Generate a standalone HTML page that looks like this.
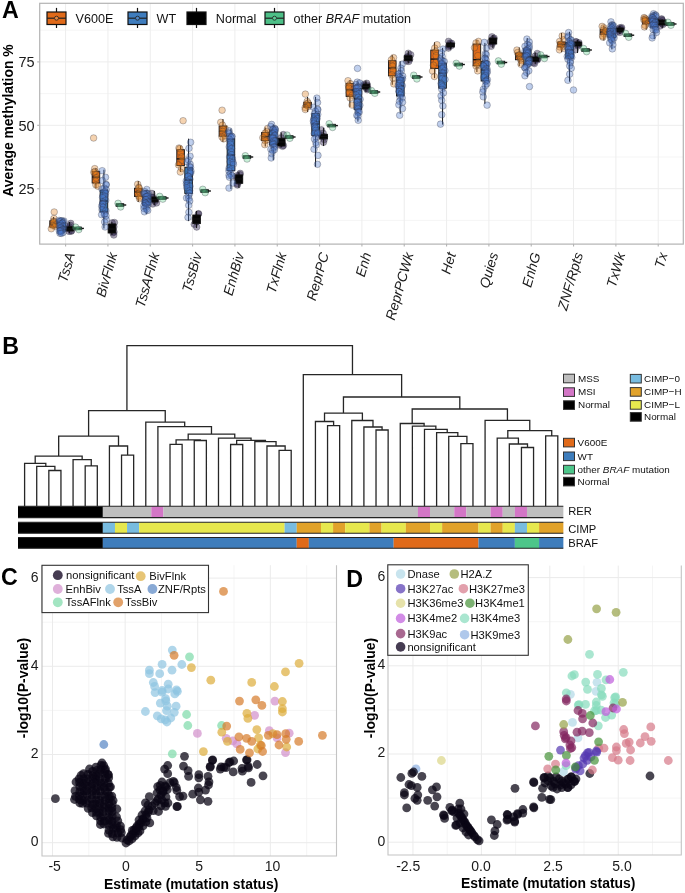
<!DOCTYPE html>
<html><head><meta charset="utf-8"><style>
html,body{margin:0;padding:0;background:#fff;overflow:hidden;}
svg{display:block;will-change:transform;}
</style></head><body>
<svg width="685" height="893" viewBox="0 0 685 893">
<rect width="685" height="893" fill="#fff"/>
<line x1="39.7" x2="683.3" y1="220.40" y2="220.40" stroke="#F2F2F2" stroke-width="0.8"/>
<line x1="39.7" x2="683.3" y1="157.00" y2="157.00" stroke="#F2F2F2" stroke-width="0.8"/>
<line x1="39.7" x2="683.3" y1="93.60" y2="93.60" stroke="#F2F2F2" stroke-width="0.8"/>
<line x1="39.7" x2="683.3" y1="30.20" y2="30.20" stroke="#F2F2F2" stroke-width="0.8"/>
<line x1="39.7" x2="683.3" y1="188.70" y2="188.70" stroke="#EDEDED" stroke-width="1"/>
<line x1="39.7" x2="683.3" y1="125.30" y2="125.30" stroke="#EDEDED" stroke-width="1"/>
<line x1="39.7" x2="683.3" y1="61.90" y2="61.90" stroke="#EDEDED" stroke-width="1"/>
<line x1="65.60" x2="65.60" y1="3.3" y2="244.1" stroke="#EDEDED" stroke-width="1"/>
<line x1="107.93" x2="107.93" y1="3.3" y2="244.1" stroke="#EDEDED" stroke-width="1"/>
<line x1="150.26" x2="150.26" y1="3.3" y2="244.1" stroke="#EDEDED" stroke-width="1"/>
<line x1="192.59" x2="192.59" y1="3.3" y2="244.1" stroke="#EDEDED" stroke-width="1"/>
<line x1="234.92" x2="234.92" y1="3.3" y2="244.1" stroke="#EDEDED" stroke-width="1"/>
<line x1="277.25" x2="277.25" y1="3.3" y2="244.1" stroke="#EDEDED" stroke-width="1"/>
<line x1="319.58" x2="319.58" y1="3.3" y2="244.1" stroke="#EDEDED" stroke-width="1"/>
<line x1="361.91" x2="361.91" y1="3.3" y2="244.1" stroke="#EDEDED" stroke-width="1"/>
<line x1="404.24" x2="404.24" y1="3.3" y2="244.1" stroke="#EDEDED" stroke-width="1"/>
<line x1="446.57" x2="446.57" y1="3.3" y2="244.1" stroke="#EDEDED" stroke-width="1"/>
<line x1="488.90" x2="488.90" y1="3.3" y2="244.1" stroke="#EDEDED" stroke-width="1"/>
<line x1="531.23" x2="531.23" y1="3.3" y2="244.1" stroke="#EDEDED" stroke-width="1"/>
<line x1="573.56" x2="573.56" y1="3.3" y2="244.1" stroke="#EDEDED" stroke-width="1"/>
<line x1="615.89" x2="615.89" y1="3.3" y2="244.1" stroke="#EDEDED" stroke-width="1"/>
<line x1="658.22" x2="658.22" y1="3.3" y2="244.1" stroke="#EDEDED" stroke-width="1"/>
<circle cx="70.76" cy="223.39" r="3.3" fill="#2C1F4B" fill-opacity="0.42" stroke="#2a2a3a" stroke-opacity="0.5" stroke-width="0.6"/>
<circle cx="70.32" cy="225.33" r="3.3" fill="#2C1F4B" fill-opacity="0.42" stroke="#2a2a3a" stroke-opacity="0.5" stroke-width="0.6"/>
<circle cx="69.20" cy="226.71" r="3.3" fill="#2C1F4B" fill-opacity="0.42" stroke="#2a2a3a" stroke-opacity="0.5" stroke-width="0.6"/>
<circle cx="68.45" cy="228.31" r="3.3" fill="#2C1F4B" fill-opacity="0.42" stroke="#2a2a3a" stroke-opacity="0.5" stroke-width="0.6"/>
<circle cx="71.12" cy="231.27" r="3.3" fill="#2C1F4B" fill-opacity="0.42" stroke="#2a2a3a" stroke-opacity="0.5" stroke-width="0.6"/>
<circle cx="71.52" cy="230.70" r="3.3" fill="#2C1F4B" fill-opacity="0.42" stroke="#2a2a3a" stroke-opacity="0.5" stroke-width="0.6"/>
<circle cx="69.07" cy="231.38" r="3.3" fill="#2C1F4B" fill-opacity="0.42" stroke="#2a2a3a" stroke-opacity="0.5" stroke-width="0.6"/>
<circle cx="114.43" cy="222.49" r="3.3" fill="#2C1F4B" fill-opacity="0.42" stroke="#2a2a3a" stroke-opacity="0.5" stroke-width="0.6"/>
<circle cx="112.16" cy="222.81" r="3.3" fill="#2C1F4B" fill-opacity="0.42" stroke="#2a2a3a" stroke-opacity="0.5" stroke-width="0.6"/>
<circle cx="113.93" cy="226.71" r="3.3" fill="#2C1F4B" fill-opacity="0.42" stroke="#2a2a3a" stroke-opacity="0.5" stroke-width="0.6"/>
<circle cx="112.95" cy="229.57" r="3.3" fill="#2C1F4B" fill-opacity="0.42" stroke="#2a2a3a" stroke-opacity="0.5" stroke-width="0.6"/>
<circle cx="114.01" cy="231.99" r="3.3" fill="#2C1F4B" fill-opacity="0.42" stroke="#2a2a3a" stroke-opacity="0.5" stroke-width="0.6"/>
<circle cx="112.86" cy="232.81" r="3.3" fill="#2C1F4B" fill-opacity="0.42" stroke="#2a2a3a" stroke-opacity="0.5" stroke-width="0.6"/>
<circle cx="113.79" cy="235.03" r="3.3" fill="#2C1F4B" fill-opacity="0.42" stroke="#2a2a3a" stroke-opacity="0.5" stroke-width="0.6"/>
<circle cx="151.88" cy="193.41" r="3.3" fill="#2C1F4B" fill-opacity="0.42" stroke="#2a2a3a" stroke-opacity="0.5" stroke-width="0.6"/>
<circle cx="152.95" cy="197.25" r="3.3" fill="#2C1F4B" fill-opacity="0.42" stroke="#2a2a3a" stroke-opacity="0.5" stroke-width="0.6"/>
<circle cx="151.99" cy="197.21" r="3.3" fill="#2C1F4B" fill-opacity="0.42" stroke="#2a2a3a" stroke-opacity="0.5" stroke-width="0.6"/>
<circle cx="153.99" cy="199.81" r="3.3" fill="#2C1F4B" fill-opacity="0.42" stroke="#2a2a3a" stroke-opacity="0.5" stroke-width="0.6"/>
<circle cx="155.04" cy="201.24" r="3.3" fill="#2C1F4B" fill-opacity="0.42" stroke="#2a2a3a" stroke-opacity="0.5" stroke-width="0.6"/>
<circle cx="156.55" cy="202.99" r="3.3" fill="#2C1F4B" fill-opacity="0.42" stroke="#2a2a3a" stroke-opacity="0.5" stroke-width="0.6"/>
<circle cx="152.76" cy="204.05" r="3.3" fill="#2C1F4B" fill-opacity="0.42" stroke="#2a2a3a" stroke-opacity="0.5" stroke-width="0.6"/>
<circle cx="198.59" cy="213.69" r="3.3" fill="#2C1F4B" fill-opacity="0.42" stroke="#2a2a3a" stroke-opacity="0.5" stroke-width="0.6"/>
<circle cx="198.34" cy="213.97" r="3.3" fill="#2C1F4B" fill-opacity="0.42" stroke="#2a2a3a" stroke-opacity="0.5" stroke-width="0.6"/>
<circle cx="196.71" cy="217.84" r="3.3" fill="#2C1F4B" fill-opacity="0.42" stroke="#2a2a3a" stroke-opacity="0.5" stroke-width="0.6"/>
<circle cx="195.09" cy="219.18" r="3.3" fill="#2C1F4B" fill-opacity="0.42" stroke="#2a2a3a" stroke-opacity="0.5" stroke-width="0.6"/>
<circle cx="196.61" cy="221.71" r="3.3" fill="#2C1F4B" fill-opacity="0.42" stroke="#2a2a3a" stroke-opacity="0.5" stroke-width="0.6"/>
<circle cx="194.23" cy="224.22" r="3.3" fill="#2C1F4B" fill-opacity="0.42" stroke="#2a2a3a" stroke-opacity="0.5" stroke-width="0.6"/>
<circle cx="196.67" cy="227.08" r="3.3" fill="#2C1F4B" fill-opacity="0.42" stroke="#2a2a3a" stroke-opacity="0.5" stroke-width="0.6"/>
<circle cx="240.21" cy="173.36" r="3.3" fill="#2C1F4B" fill-opacity="0.42" stroke="#2a2a3a" stroke-opacity="0.5" stroke-width="0.6"/>
<circle cx="239.85" cy="174.67" r="3.3" fill="#2C1F4B" fill-opacity="0.42" stroke="#2a2a3a" stroke-opacity="0.5" stroke-width="0.6"/>
<circle cx="236.77" cy="175.91" r="3.3" fill="#2C1F4B" fill-opacity="0.42" stroke="#2a2a3a" stroke-opacity="0.5" stroke-width="0.6"/>
<circle cx="236.61" cy="178.05" r="3.3" fill="#2C1F4B" fill-opacity="0.42" stroke="#2a2a3a" stroke-opacity="0.5" stroke-width="0.6"/>
<circle cx="238.99" cy="181.58" r="3.3" fill="#2C1F4B" fill-opacity="0.42" stroke="#2a2a3a" stroke-opacity="0.5" stroke-width="0.6"/>
<circle cx="237.15" cy="183.86" r="3.3" fill="#2C1F4B" fill-opacity="0.42" stroke="#2a2a3a" stroke-opacity="0.5" stroke-width="0.6"/>
<circle cx="237.44" cy="185.06" r="3.3" fill="#2C1F4B" fill-opacity="0.42" stroke="#2a2a3a" stroke-opacity="0.5" stroke-width="0.6"/>
<circle cx="283.28" cy="134.55" r="3.3" fill="#2C1F4B" fill-opacity="0.42" stroke="#2a2a3a" stroke-opacity="0.5" stroke-width="0.6"/>
<circle cx="281.29" cy="137.85" r="3.3" fill="#2C1F4B" fill-opacity="0.42" stroke="#2a2a3a" stroke-opacity="0.5" stroke-width="0.6"/>
<circle cx="281.59" cy="140.95" r="3.3" fill="#2C1F4B" fill-opacity="0.42" stroke="#2a2a3a" stroke-opacity="0.5" stroke-width="0.6"/>
<circle cx="281.94" cy="143.19" r="3.3" fill="#2C1F4B" fill-opacity="0.42" stroke="#2a2a3a" stroke-opacity="0.5" stroke-width="0.6"/>
<circle cx="279.13" cy="145.03" r="3.3" fill="#2C1F4B" fill-opacity="0.42" stroke="#2a2a3a" stroke-opacity="0.5" stroke-width="0.6"/>
<circle cx="282.55" cy="146.32" r="3.3" fill="#2C1F4B" fill-opacity="0.42" stroke="#2a2a3a" stroke-opacity="0.5" stroke-width="0.6"/>
<circle cx="283.40" cy="145.44" r="3.3" fill="#2C1F4B" fill-opacity="0.42" stroke="#2a2a3a" stroke-opacity="0.5" stroke-width="0.6"/>
<circle cx="321.38" cy="129.82" r="3.3" fill="#2C1F4B" fill-opacity="0.42" stroke="#2a2a3a" stroke-opacity="0.5" stroke-width="0.6"/>
<circle cx="323.21" cy="133.23" r="3.3" fill="#2C1F4B" fill-opacity="0.42" stroke="#2a2a3a" stroke-opacity="0.5" stroke-width="0.6"/>
<circle cx="321.59" cy="135.54" r="3.3" fill="#2C1F4B" fill-opacity="0.42" stroke="#2a2a3a" stroke-opacity="0.5" stroke-width="0.6"/>
<circle cx="321.44" cy="136.60" r="3.3" fill="#2C1F4B" fill-opacity="0.42" stroke="#2a2a3a" stroke-opacity="0.5" stroke-width="0.6"/>
<circle cx="324.46" cy="136.82" r="3.3" fill="#2C1F4B" fill-opacity="0.42" stroke="#2a2a3a" stroke-opacity="0.5" stroke-width="0.6"/>
<circle cx="324.24" cy="139.52" r="3.3" fill="#2C1F4B" fill-opacity="0.42" stroke="#2a2a3a" stroke-opacity="0.5" stroke-width="0.6"/>
<circle cx="323.47" cy="142.35" r="3.3" fill="#2C1F4B" fill-opacity="0.42" stroke="#2a2a3a" stroke-opacity="0.5" stroke-width="0.6"/>
<circle cx="366.67" cy="83.24" r="3.3" fill="#2C1F4B" fill-opacity="0.42" stroke="#2a2a3a" stroke-opacity="0.5" stroke-width="0.6"/>
<circle cx="363.73" cy="84.44" r="3.3" fill="#2C1F4B" fill-opacity="0.42" stroke="#2a2a3a" stroke-opacity="0.5" stroke-width="0.6"/>
<circle cx="367.35" cy="85.18" r="3.3" fill="#2C1F4B" fill-opacity="0.42" stroke="#2a2a3a" stroke-opacity="0.5" stroke-width="0.6"/>
<circle cx="363.82" cy="85.50" r="3.3" fill="#2C1F4B" fill-opacity="0.42" stroke="#2a2a3a" stroke-opacity="0.5" stroke-width="0.6"/>
<circle cx="367.91" cy="88.50" r="3.3" fill="#2C1F4B" fill-opacity="0.42" stroke="#2a2a3a" stroke-opacity="0.5" stroke-width="0.6"/>
<circle cx="366.58" cy="88.25" r="3.3" fill="#2C1F4B" fill-opacity="0.42" stroke="#2a2a3a" stroke-opacity="0.5" stroke-width="0.6"/>
<circle cx="367.14" cy="89.75" r="3.3" fill="#2C1F4B" fill-opacity="0.42" stroke="#2a2a3a" stroke-opacity="0.5" stroke-width="0.6"/>
<circle cx="408.32" cy="53.25" r="3.3" fill="#2C1F4B" fill-opacity="0.42" stroke="#2a2a3a" stroke-opacity="0.5" stroke-width="0.6"/>
<circle cx="410.69" cy="54.77" r="3.3" fill="#2C1F4B" fill-opacity="0.42" stroke="#2a2a3a" stroke-opacity="0.5" stroke-width="0.6"/>
<circle cx="406.93" cy="57.06" r="3.3" fill="#2C1F4B" fill-opacity="0.42" stroke="#2a2a3a" stroke-opacity="0.5" stroke-width="0.6"/>
<circle cx="408.10" cy="56.83" r="3.3" fill="#2C1F4B" fill-opacity="0.42" stroke="#2a2a3a" stroke-opacity="0.5" stroke-width="0.6"/>
<circle cx="409.72" cy="59.23" r="3.3" fill="#2C1F4B" fill-opacity="0.42" stroke="#2a2a3a" stroke-opacity="0.5" stroke-width="0.6"/>
<circle cx="408.77" cy="61.40" r="3.3" fill="#2C1F4B" fill-opacity="0.42" stroke="#2a2a3a" stroke-opacity="0.5" stroke-width="0.6"/>
<circle cx="406.52" cy="61.11" r="3.3" fill="#2C1F4B" fill-opacity="0.42" stroke="#2a2a3a" stroke-opacity="0.5" stroke-width="0.6"/>
<circle cx="448.54" cy="41.33" r="3.3" fill="#2C1F4B" fill-opacity="0.42" stroke="#2a2a3a" stroke-opacity="0.5" stroke-width="0.6"/>
<circle cx="451.61" cy="43.30" r="3.3" fill="#2C1F4B" fill-opacity="0.42" stroke="#2a2a3a" stroke-opacity="0.5" stroke-width="0.6"/>
<circle cx="450.08" cy="43.09" r="3.3" fill="#2C1F4B" fill-opacity="0.42" stroke="#2a2a3a" stroke-opacity="0.5" stroke-width="0.6"/>
<circle cx="451.03" cy="45.81" r="3.3" fill="#2C1F4B" fill-opacity="0.42" stroke="#2a2a3a" stroke-opacity="0.5" stroke-width="0.6"/>
<circle cx="449.20" cy="45.16" r="3.3" fill="#2C1F4B" fill-opacity="0.42" stroke="#2a2a3a" stroke-opacity="0.5" stroke-width="0.6"/>
<circle cx="448.69" cy="46.39" r="3.3" fill="#2C1F4B" fill-opacity="0.42" stroke="#2a2a3a" stroke-opacity="0.5" stroke-width="0.6"/>
<circle cx="448.43" cy="48.12" r="3.3" fill="#2C1F4B" fill-opacity="0.42" stroke="#2a2a3a" stroke-opacity="0.5" stroke-width="0.6"/>
<circle cx="491.94" cy="36.77" r="3.3" fill="#2C1F4B" fill-opacity="0.42" stroke="#2a2a3a" stroke-opacity="0.5" stroke-width="0.6"/>
<circle cx="494.09" cy="38.16" r="3.3" fill="#2C1F4B" fill-opacity="0.42" stroke="#2a2a3a" stroke-opacity="0.5" stroke-width="0.6"/>
<circle cx="493.36" cy="39.00" r="3.3" fill="#2C1F4B" fill-opacity="0.42" stroke="#2a2a3a" stroke-opacity="0.5" stroke-width="0.6"/>
<circle cx="490.48" cy="41.73" r="3.3" fill="#2C1F4B" fill-opacity="0.42" stroke="#2a2a3a" stroke-opacity="0.5" stroke-width="0.6"/>
<circle cx="492.74" cy="41.99" r="3.3" fill="#2C1F4B" fill-opacity="0.42" stroke="#2a2a3a" stroke-opacity="0.5" stroke-width="0.6"/>
<circle cx="492.33" cy="43.48" r="3.3" fill="#2C1F4B" fill-opacity="0.42" stroke="#2a2a3a" stroke-opacity="0.5" stroke-width="0.6"/>
<circle cx="491.27" cy="46.31" r="3.3" fill="#2C1F4B" fill-opacity="0.42" stroke="#2a2a3a" stroke-opacity="0.5" stroke-width="0.6"/>
<circle cx="537.22" cy="53.46" r="3.3" fill="#2C1F4B" fill-opacity="0.42" stroke="#2a2a3a" stroke-opacity="0.5" stroke-width="0.6"/>
<circle cx="535.22" cy="56.16" r="3.3" fill="#2C1F4B" fill-opacity="0.42" stroke="#2a2a3a" stroke-opacity="0.5" stroke-width="0.6"/>
<circle cx="537.62" cy="58.90" r="3.3" fill="#2C1F4B" fill-opacity="0.42" stroke="#2a2a3a" stroke-opacity="0.5" stroke-width="0.6"/>
<circle cx="533.76" cy="58.93" r="3.3" fill="#2C1F4B" fill-opacity="0.42" stroke="#2a2a3a" stroke-opacity="0.5" stroke-width="0.6"/>
<circle cx="537.34" cy="59.88" r="3.3" fill="#2C1F4B" fill-opacity="0.42" stroke="#2a2a3a" stroke-opacity="0.5" stroke-width="0.6"/>
<circle cx="533.71" cy="62.57" r="3.3" fill="#2C1F4B" fill-opacity="0.42" stroke="#2a2a3a" stroke-opacity="0.5" stroke-width="0.6"/>
<circle cx="534.50" cy="63.60" r="3.3" fill="#2C1F4B" fill-opacity="0.42" stroke="#2a2a3a" stroke-opacity="0.5" stroke-width="0.6"/>
<circle cx="575.89" cy="41.60" r="3.3" fill="#2C1F4B" fill-opacity="0.42" stroke="#2a2a3a" stroke-opacity="0.5" stroke-width="0.6"/>
<circle cx="576.24" cy="42.09" r="3.3" fill="#2C1F4B" fill-opacity="0.42" stroke="#2a2a3a" stroke-opacity="0.5" stroke-width="0.6"/>
<circle cx="578.93" cy="42.71" r="3.3" fill="#2C1F4B" fill-opacity="0.42" stroke="#2a2a3a" stroke-opacity="0.5" stroke-width="0.6"/>
<circle cx="579.02" cy="44.69" r="3.3" fill="#2C1F4B" fill-opacity="0.42" stroke="#2a2a3a" stroke-opacity="0.5" stroke-width="0.6"/>
<circle cx="577.51" cy="44.51" r="3.3" fill="#2C1F4B" fill-opacity="0.42" stroke="#2a2a3a" stroke-opacity="0.5" stroke-width="0.6"/>
<circle cx="577.96" cy="45.91" r="3.3" fill="#2C1F4B" fill-opacity="0.42" stroke="#2a2a3a" stroke-opacity="0.5" stroke-width="0.6"/>
<circle cx="575.24" cy="49.75" r="3.3" fill="#2C1F4B" fill-opacity="0.42" stroke="#2a2a3a" stroke-opacity="0.5" stroke-width="0.6"/>
<circle cx="619.70" cy="27.86" r="3.3" fill="#2C1F4B" fill-opacity="0.42" stroke="#2a2a3a" stroke-opacity="0.5" stroke-width="0.6"/>
<circle cx="621.61" cy="27.58" r="3.3" fill="#2C1F4B" fill-opacity="0.42" stroke="#2a2a3a" stroke-opacity="0.5" stroke-width="0.6"/>
<circle cx="621.30" cy="28.57" r="3.3" fill="#2C1F4B" fill-opacity="0.42" stroke="#2a2a3a" stroke-opacity="0.5" stroke-width="0.6"/>
<circle cx="619.13" cy="29.32" r="3.3" fill="#2C1F4B" fill-opacity="0.42" stroke="#2a2a3a" stroke-opacity="0.5" stroke-width="0.6"/>
<circle cx="620.14" cy="30.38" r="3.3" fill="#2C1F4B" fill-opacity="0.42" stroke="#2a2a3a" stroke-opacity="0.5" stroke-width="0.6"/>
<circle cx="618.41" cy="31.36" r="3.3" fill="#2C1F4B" fill-opacity="0.42" stroke="#2a2a3a" stroke-opacity="0.5" stroke-width="0.6"/>
<circle cx="619.73" cy="32.39" r="3.3" fill="#2C1F4B" fill-opacity="0.42" stroke="#2a2a3a" stroke-opacity="0.5" stroke-width="0.6"/>
<circle cx="661.68" cy="19.56" r="3.3" fill="#2C1F4B" fill-opacity="0.42" stroke="#2a2a3a" stroke-opacity="0.5" stroke-width="0.6"/>
<circle cx="661.64" cy="18.90" r="3.3" fill="#2C1F4B" fill-opacity="0.42" stroke="#2a2a3a" stroke-opacity="0.5" stroke-width="0.6"/>
<circle cx="662.21" cy="20.66" r="3.3" fill="#2C1F4B" fill-opacity="0.42" stroke="#2a2a3a" stroke-opacity="0.5" stroke-width="0.6"/>
<circle cx="660.51" cy="21.97" r="3.3" fill="#2C1F4B" fill-opacity="0.42" stroke="#2a2a3a" stroke-opacity="0.5" stroke-width="0.6"/>
<circle cx="662.10" cy="23.69" r="3.3" fill="#2C1F4B" fill-opacity="0.42" stroke="#2a2a3a" stroke-opacity="0.5" stroke-width="0.6"/>
<circle cx="663.05" cy="24.45" r="3.3" fill="#2C1F4B" fill-opacity="0.42" stroke="#2a2a3a" stroke-opacity="0.5" stroke-width="0.6"/>
<circle cx="660.19" cy="25.98" r="3.3" fill="#2C1F4B" fill-opacity="0.42" stroke="#2a2a3a" stroke-opacity="0.5" stroke-width="0.6"/>
<line x1="53.60" x2="53.60" y1="217.00" y2="220.80" stroke="#111" stroke-width="1"/><line x1="53.60" x2="53.60" y1="227.20" y2="228.50" stroke="#111" stroke-width="1"/><rect x="49.80" y="220.80" width="7.6" height="6.40" fill="#E06A1A" fill-opacity="1.0" stroke="#111" stroke-width="0.9"/><line x1="49.80" x2="57.40" y1="224.00" y2="224.00" stroke="#111" stroke-width="1.4"/>
<line x1="61.60" x2="61.60" y1="219.50" y2="222.50" stroke="#111" stroke-width="1"/><line x1="61.60" x2="61.60" y1="231.00" y2="233.50" stroke="#111" stroke-width="1"/><rect x="57.80" y="222.50" width="7.6" height="8.50" fill="#3F7DBE" fill-opacity="1.0" stroke="#111" stroke-width="0.9"/><line x1="57.80" x2="65.40" y1="227.00" y2="227.00" stroke="#111" stroke-width="1.4"/>
<line x1="69.60" x2="69.60" y1="222.00" y2="226.60" stroke="#111" stroke-width="1"/><line x1="69.60" x2="69.60" y1="231.00" y2="233.00" stroke="#111" stroke-width="1"/><rect x="65.80" y="226.60" width="7.6" height="4.40" fill="#050505" fill-opacity="1.0" stroke="#111" stroke-width="0.9"/><line x1="65.80" x2="73.40" y1="229.00" y2="229.00" stroke="#111" stroke-width="1.4"/>
<rect x="73.80" y="227.10" width="7.6" height="2.60" fill="#4DBF87" fill-opacity="1.0" stroke="#111" stroke-width="0.9"/><line x1="73.80" x2="83.90" y1="228.40" y2="228.40" stroke="#111" stroke-width="1.4"/>
<line x1="95.93" x2="95.93" y1="168.00" y2="171.30" stroke="#111" stroke-width="1"/><line x1="95.93" x2="95.93" y1="183.00" y2="188.00" stroke="#111" stroke-width="1"/><rect x="92.13" y="171.30" width="7.6" height="11.70" fill="#E06A1A" fill-opacity="1.0" stroke="#111" stroke-width="0.9"/><line x1="92.13" x2="99.73" y1="177.00" y2="177.00" stroke="#111" stroke-width="1.4"/>
<line x1="103.93" x2="103.93" y1="169.70" y2="190.00" stroke="#111" stroke-width="1"/><line x1="103.93" x2="103.93" y1="212.00" y2="228.50" stroke="#111" stroke-width="1"/><rect x="100.13" y="190.00" width="7.6" height="22.00" fill="#3F7DBE" fill-opacity="1.0" stroke="#111" stroke-width="0.9"/><line x1="100.13" x2="107.73" y1="201.00" y2="201.00" stroke="#111" stroke-width="1.4"/>
<line x1="111.93" x2="111.93" y1="222.00" y2="224.00" stroke="#111" stroke-width="1"/><line x1="111.93" x2="111.93" y1="233.00" y2="235.00" stroke="#111" stroke-width="1"/><rect x="108.13" y="224.00" width="7.6" height="9.00" fill="#050505" fill-opacity="1.0" stroke="#111" stroke-width="0.9"/><line x1="108.13" x2="115.73" y1="229.00" y2="229.00" stroke="#111" stroke-width="1.4"/>
<rect x="116.13" y="203.70" width="7.6" height="2.60" fill="#4DBF87" fill-opacity="1.0" stroke="#111" stroke-width="0.9"/><line x1="116.13" x2="126.23" y1="205.00" y2="205.00" stroke="#111" stroke-width="1.4"/>
<line x1="138.26" x2="138.26" y1="181.00" y2="188.20" stroke="#111" stroke-width="1"/><line x1="138.26" x2="138.26" y1="196.50" y2="202.00" stroke="#111" stroke-width="1"/><rect x="134.46" y="188.20" width="7.6" height="8.30" fill="#E06A1A" fill-opacity="1.0" stroke="#111" stroke-width="0.9"/><line x1="134.46" x2="142.06" y1="192.00" y2="192.00" stroke="#111" stroke-width="1.4"/>
<line x1="146.26" x2="146.26" y1="190.00" y2="195.00" stroke="#111" stroke-width="1"/><line x1="146.26" x2="146.26" y1="205.00" y2="214.00" stroke="#111" stroke-width="1"/><rect x="142.46" y="195.00" width="7.6" height="10.00" fill="#3F7DBE" fill-opacity="1.0" stroke="#111" stroke-width="0.9"/><line x1="142.46" x2="150.06" y1="200.00" y2="200.00" stroke="#111" stroke-width="1.4"/>
<line x1="154.26" x2="154.26" y1="191.00" y2="197.00" stroke="#111" stroke-width="1"/><line x1="154.26" x2="154.26" y1="202.00" y2="205.00" stroke="#111" stroke-width="1"/><rect x="150.46" y="197.00" width="7.6" height="5.00" fill="#050505" fill-opacity="1.0" stroke="#111" stroke-width="0.9"/><line x1="150.46" x2="158.06" y1="199.50" y2="199.50" stroke="#111" stroke-width="1.4"/>
<rect x="158.46" y="196.70" width="7.6" height="2.60" fill="#4DBF87" fill-opacity="1.0" stroke="#111" stroke-width="0.9"/><line x1="158.46" x2="168.56" y1="198.00" y2="198.00" stroke="#111" stroke-width="1.4"/>
<line x1="180.59" x2="180.59" y1="146.00" y2="149.70" stroke="#111" stroke-width="1"/><line x1="180.59" x2="180.59" y1="165.60" y2="172.00" stroke="#111" stroke-width="1"/><rect x="176.79" y="149.70" width="7.6" height="15.90" fill="#E06A1A" fill-opacity="1.0" stroke="#111" stroke-width="0.9"/><line x1="176.79" x2="184.39" y1="158.90" y2="158.90" stroke="#111" stroke-width="1.4"/>
<line x1="188.59" x2="188.59" y1="138.70" y2="167.30" stroke="#111" stroke-width="1"/><line x1="188.59" x2="188.59" y1="193.40" y2="221.10" stroke="#111" stroke-width="1"/><rect x="184.79" y="167.30" width="7.6" height="26.10" fill="#3F7DBE" fill-opacity="1.0" stroke="#111" stroke-width="0.9"/><line x1="184.79" x2="192.39" y1="180.00" y2="180.00" stroke="#111" stroke-width="1.4"/>
<line x1="196.59" x2="196.59" y1="211.00" y2="215.00" stroke="#111" stroke-width="1"/><line x1="196.59" x2="196.59" y1="223.60" y2="228.00" stroke="#111" stroke-width="1"/><rect x="192.79" y="215.00" width="7.6" height="8.60" fill="#050505" fill-opacity="1.0" stroke="#111" stroke-width="0.9"/><line x1="192.79" x2="200.39" y1="219.00" y2="219.00" stroke="#111" stroke-width="1.4"/>
<rect x="200.79" y="189.70" width="7.6" height="2.60" fill="#4DBF87" fill-opacity="1.0" stroke="#111" stroke-width="0.9"/><line x1="200.79" x2="210.89" y1="191.00" y2="191.00" stroke="#111" stroke-width="1.4"/>
<line x1="222.92" x2="222.92" y1="119.00" y2="126.10" stroke="#111" stroke-width="1"/><line x1="222.92" x2="222.92" y1="136.20" y2="142.00" stroke="#111" stroke-width="1"/><rect x="219.12" y="126.10" width="7.6" height="10.10" fill="#E06A1A" fill-opacity="1.0" stroke="#111" stroke-width="0.9"/><line x1="219.12" x2="226.72" y1="131.00" y2="131.00" stroke="#111" stroke-width="1.4"/>
<line x1="230.92" x2="230.92" y1="128.60" y2="138.70" stroke="#111" stroke-width="1"/><line x1="230.92" x2="230.92" y1="170.60" y2="189.10" stroke="#111" stroke-width="1"/><rect x="227.12" y="138.70" width="7.6" height="31.90" fill="#3F7DBE" fill-opacity="1.0" stroke="#111" stroke-width="0.9"/><line x1="227.12" x2="234.72" y1="155.00" y2="155.00" stroke="#111" stroke-width="1.4"/>
<line x1="238.92" x2="238.92" y1="172.00" y2="174.90" stroke="#111" stroke-width="1"/><line x1="238.92" x2="238.92" y1="183.30" y2="188.00" stroke="#111" stroke-width="1"/><rect x="235.12" y="174.90" width="7.6" height="8.40" fill="#050505" fill-opacity="1.0" stroke="#111" stroke-width="0.9"/><line x1="235.12" x2="242.72" y1="179.00" y2="179.00" stroke="#111" stroke-width="1.4"/>
<rect x="243.12" y="155.70" width="7.6" height="2.60" fill="#4DBF87" fill-opacity="1.0" stroke="#111" stroke-width="0.9"/><line x1="243.12" x2="253.22" y1="157.00" y2="157.00" stroke="#111" stroke-width="1.4"/>
<line x1="265.25" x2="265.25" y1="127.50" y2="132.60" stroke="#111" stroke-width="1"/><line x1="265.25" x2="265.25" y1="140.50" y2="146.50" stroke="#111" stroke-width="1"/><rect x="261.45" y="132.60" width="7.6" height="7.90" fill="#E06A1A" fill-opacity="1.0" stroke="#111" stroke-width="0.9"/><line x1="261.45" x2="269.05" y1="136.50" y2="136.50" stroke="#111" stroke-width="1.4"/>
<line x1="273.25" x2="273.25" y1="124.50" y2="130.00" stroke="#111" stroke-width="1"/><line x1="273.25" x2="273.25" y1="145.00" y2="160.00" stroke="#111" stroke-width="1"/><rect x="269.45" y="130.00" width="7.6" height="15.00" fill="#3F7DBE" fill-opacity="1.0" stroke="#111" stroke-width="0.9"/><line x1="269.45" x2="277.05" y1="138.00" y2="138.00" stroke="#111" stroke-width="1.4"/>
<line x1="281.25" x2="281.25" y1="132.50" y2="138.20" stroke="#111" stroke-width="1"/><line x1="281.25" x2="281.25" y1="146.00" y2="147.00" stroke="#111" stroke-width="1"/><rect x="277.45" y="138.20" width="7.6" height="7.80" fill="#050505" fill-opacity="1.0" stroke="#111" stroke-width="0.9"/><line x1="277.45" x2="285.05" y1="142.00" y2="142.00" stroke="#111" stroke-width="1.4"/>
<rect x="285.45" y="135.70" width="7.6" height="2.60" fill="#4DBF87" fill-opacity="1.0" stroke="#111" stroke-width="0.9"/><line x1="285.45" x2="295.55" y1="137.00" y2="137.00" stroke="#111" stroke-width="1.4"/>
<line x1="307.58" x2="307.58" y1="97.00" y2="102.40" stroke="#111" stroke-width="1"/><line x1="307.58" x2="307.58" y1="107.40" y2="112.00" stroke="#111" stroke-width="1"/><rect x="303.78" y="102.40" width="7.6" height="5.00" fill="#E06A1A" fill-opacity="1.0" stroke="#111" stroke-width="0.9"/><line x1="303.78" x2="311.38" y1="105.00" y2="105.00" stroke="#111" stroke-width="1.4"/>
<line x1="315.58" x2="315.58" y1="96.80" y2="113.60" stroke="#111" stroke-width="1"/><line x1="315.58" x2="315.58" y1="135.40" y2="166.80" stroke="#111" stroke-width="1"/><rect x="311.78" y="113.60" width="7.6" height="21.80" fill="#3F7DBE" fill-opacity="1.0" stroke="#111" stroke-width="0.9"/><line x1="311.78" x2="319.38" y1="124.00" y2="124.00" stroke="#111" stroke-width="1.4"/>
<line x1="323.58" x2="323.58" y1="128.00" y2="134.30" stroke="#111" stroke-width="1"/><line x1="323.58" x2="323.58" y1="138.80" y2="146.00" stroke="#111" stroke-width="1"/><rect x="319.78" y="134.30" width="7.6" height="4.50" fill="#050505" fill-opacity="1.0" stroke="#111" stroke-width="0.9"/><line x1="319.78" x2="327.38" y1="136.50" y2="136.50" stroke="#111" stroke-width="1.4"/>
<rect x="327.78" y="124.30" width="7.6" height="2.60" fill="#4DBF87" fill-opacity="1.0" stroke="#111" stroke-width="0.9"/><line x1="327.78" x2="337.88" y1="125.60" y2="125.60" stroke="#111" stroke-width="1.4"/>
<line x1="349.91" x2="349.91" y1="80.00" y2="83.50" stroke="#111" stroke-width="1"/><line x1="349.91" x2="349.91" y1="96.40" y2="107.00" stroke="#111" stroke-width="1"/><rect x="346.11" y="83.50" width="7.6" height="12.90" fill="#E06A1A" fill-opacity="1.0" stroke="#111" stroke-width="0.9"/><line x1="346.11" x2="353.71" y1="90.00" y2="90.00" stroke="#111" stroke-width="1.4"/>
<line x1="357.91" x2="357.91" y1="81.30" y2="88.60" stroke="#111" stroke-width="1"/><line x1="357.91" x2="357.91" y1="109.30" y2="121.60" stroke="#111" stroke-width="1"/><rect x="354.11" y="88.60" width="7.6" height="20.70" fill="#3F7DBE" fill-opacity="1.0" stroke="#111" stroke-width="0.9"/><line x1="354.11" x2="361.71" y1="99.00" y2="99.00" stroke="#111" stroke-width="1.4"/>
<line x1="365.91" x2="365.91" y1="80.50" y2="84.00" stroke="#111" stroke-width="1"/><line x1="365.91" x2="365.91" y1="89.00" y2="92.00" stroke="#111" stroke-width="1"/><rect x="362.11" y="84.00" width="7.6" height="5.00" fill="#050505" fill-opacity="1.0" stroke="#111" stroke-width="0.9"/><line x1="362.11" x2="369.71" y1="86.50" y2="86.50" stroke="#111" stroke-width="1.4"/>
<rect x="370.11" y="90.70" width="7.6" height="2.60" fill="#4DBF87" fill-opacity="1.0" stroke="#111" stroke-width="0.9"/><line x1="370.11" x2="380.21" y1="92.00" y2="92.00" stroke="#111" stroke-width="1.4"/>
<line x1="392.24" x2="392.24" y1="55.00" y2="60.70" stroke="#111" stroke-width="1"/><line x1="392.24" x2="392.24" y1="75.80" y2="84.80" stroke="#111" stroke-width="1"/><rect x="388.44" y="60.70" width="7.6" height="15.10" fill="#E06A1A" fill-opacity="1.0" stroke="#111" stroke-width="0.9"/><line x1="388.44" x2="396.04" y1="68.00" y2="68.00" stroke="#111" stroke-width="1.4"/>
<line x1="400.24" x2="400.24" y1="61.30" y2="77.50" stroke="#111" stroke-width="1"/><line x1="400.24" x2="400.24" y1="96.00" y2="113.90" stroke="#111" stroke-width="1"/><rect x="396.44" y="77.50" width="7.6" height="18.50" fill="#3F7DBE" fill-opacity="1.0" stroke="#111" stroke-width="0.9"/><line x1="396.44" x2="404.04" y1="86.00" y2="86.00" stroke="#111" stroke-width="1.4"/>
<line x1="408.24" x2="408.24" y1="51.00" y2="55.70" stroke="#111" stroke-width="1"/><line x1="408.24" x2="408.24" y1="60.70" y2="63.00" stroke="#111" stroke-width="1"/><rect x="404.44" y="55.70" width="7.6" height="5.00" fill="#050505" fill-opacity="1.0" stroke="#111" stroke-width="0.9"/><line x1="404.44" x2="412.04" y1="58.00" y2="58.00" stroke="#111" stroke-width="1.4"/>
<rect x="412.44" y="75.70" width="7.6" height="2.60" fill="#4DBF87" fill-opacity="1.0" stroke="#111" stroke-width="0.9"/><line x1="412.44" x2="422.54" y1="77.00" y2="77.00" stroke="#111" stroke-width="1.4"/>
<line x1="434.57" x2="434.57" y1="42.30" y2="50.10" stroke="#111" stroke-width="1"/><line x1="434.57" x2="434.57" y1="68.60" y2="78.10" stroke="#111" stroke-width="1"/><rect x="430.77" y="50.10" width="7.6" height="18.50" fill="#E06A1A" fill-opacity="1.0" stroke="#111" stroke-width="0.9"/><line x1="430.77" x2="438.37" y1="59.10" y2="59.10" stroke="#111" stroke-width="1.4"/>
<line x1="442.57" x2="442.57" y1="47.90" y2="63.00" stroke="#111" stroke-width="1"/><line x1="442.57" x2="442.57" y1="88.20" y2="124.60" stroke="#111" stroke-width="1"/><rect x="438.77" y="63.00" width="7.6" height="25.20" fill="#3F7DBE" fill-opacity="1.0" stroke="#111" stroke-width="0.9"/><line x1="438.77" x2="446.37" y1="73.00" y2="73.00" stroke="#111" stroke-width="1.4"/>
<line x1="450.57" x2="450.57" y1="41.50" y2="43.00" stroke="#111" stroke-width="1"/><line x1="450.57" x2="450.57" y1="47.00" y2="49.50" stroke="#111" stroke-width="1"/><rect x="446.77" y="43.00" width="7.6" height="4.00" fill="#050505" fill-opacity="1.0" stroke="#111" stroke-width="0.9"/><line x1="446.77" x2="454.37" y1="45.00" y2="45.00" stroke="#111" stroke-width="1.4"/>
<rect x="454.77" y="63.20" width="7.6" height="2.60" fill="#4DBF87" fill-opacity="1.0" stroke="#111" stroke-width="0.9"/><line x1="454.77" x2="464.87" y1="64.50" y2="64.50" stroke="#111" stroke-width="1.4"/>
<line x1="476.90" x2="476.90" y1="40.00" y2="44.00" stroke="#111" stroke-width="1"/><line x1="476.90" x2="476.90" y1="65.80" y2="72.00" stroke="#111" stroke-width="1"/><rect x="473.10" y="44.00" width="7.6" height="21.80" fill="#E06A1A" fill-opacity="1.0" stroke="#111" stroke-width="0.9"/><line x1="473.10" x2="480.70" y1="59.70" y2="59.70" stroke="#111" stroke-width="1.4"/>
<line x1="484.90" x2="484.90" y1="42.90" y2="61.40" stroke="#111" stroke-width="1"/><line x1="484.90" x2="484.90" y1="81.00" y2="103.90" stroke="#111" stroke-width="1"/><rect x="481.10" y="61.40" width="7.6" height="19.60" fill="#3F7DBE" fill-opacity="1.0" stroke="#111" stroke-width="0.9"/><line x1="481.10" x2="488.70" y1="70.00" y2="70.00" stroke="#111" stroke-width="1.4"/>
<line x1="492.90" x2="492.90" y1="35.00" y2="38.00" stroke="#111" stroke-width="1"/><line x1="492.90" x2="492.90" y1="44.00" y2="48.00" stroke="#111" stroke-width="1"/><rect x="489.10" y="38.00" width="7.6" height="6.00" fill="#050505" fill-opacity="1.0" stroke="#111" stroke-width="0.9"/><line x1="489.10" x2="496.70" y1="41.00" y2="41.00" stroke="#111" stroke-width="1.4"/>
<rect x="497.10" y="61.20" width="7.6" height="2.60" fill="#4DBF87" fill-opacity="1.0" stroke="#111" stroke-width="0.9"/><line x1="497.10" x2="507.20" y1="62.50" y2="62.50" stroke="#111" stroke-width="1.4"/>
<line x1="519.23" x2="519.23" y1="47.50" y2="53.00" stroke="#111" stroke-width="1"/><line x1="519.23" x2="519.23" y1="59.80" y2="66.00" stroke="#111" stroke-width="1"/><rect x="515.43" y="53.00" width="7.6" height="6.80" fill="#E06A1A" fill-opacity="1.0" stroke="#111" stroke-width="0.9"/><line x1="515.43" x2="523.03" y1="56.00" y2="56.00" stroke="#111" stroke-width="1.4"/>
<line x1="527.23" x2="527.23" y1="38.00" y2="49.00" stroke="#111" stroke-width="1"/><line x1="527.23" x2="527.23" y1="64.80" y2="77.00" stroke="#111" stroke-width="1"/><rect x="523.43" y="49.00" width="7.6" height="15.80" fill="#3F7DBE" fill-opacity="1.0" stroke="#111" stroke-width="0.9"/><line x1="523.43" x2="531.03" y1="57.00" y2="57.00" stroke="#111" stroke-width="1.4"/>
<line x1="535.23" x2="535.23" y1="52.50" y2="57.00" stroke="#111" stroke-width="1"/><line x1="535.23" x2="535.23" y1="61.40" y2="64.00" stroke="#111" stroke-width="1"/><rect x="531.43" y="57.00" width="7.6" height="4.40" fill="#050505" fill-opacity="1.0" stroke="#111" stroke-width="0.9"/><line x1="531.43" x2="539.03" y1="59.00" y2="59.00" stroke="#111" stroke-width="1.4"/>
<rect x="539.43" y="55.20" width="7.6" height="2.60" fill="#4DBF87" fill-opacity="1.0" stroke="#111" stroke-width="0.9"/><line x1="539.43" x2="549.53" y1="56.50" y2="56.50" stroke="#111" stroke-width="1.4"/>
<line x1="561.56" x2="561.56" y1="33.00" y2="41.90" stroke="#111" stroke-width="1"/><line x1="561.56" x2="561.56" y1="47.00" y2="52.00" stroke="#111" stroke-width="1"/><rect x="557.76" y="41.90" width="7.6" height="5.10" fill="#E06A1A" fill-opacity="1.0" stroke="#111" stroke-width="0.9"/><line x1="557.76" x2="565.36" y1="44.50" y2="44.50" stroke="#111" stroke-width="1.4"/>
<line x1="569.56" x2="569.56" y1="31.80" y2="42.50" stroke="#111" stroke-width="1"/><line x1="569.56" x2="569.56" y1="58.20" y2="81.70" stroke="#111" stroke-width="1"/><rect x="565.76" y="42.50" width="7.6" height="15.70" fill="#3F7DBE" fill-opacity="1.0" stroke="#111" stroke-width="0.9"/><line x1="565.76" x2="573.36" y1="50.00" y2="50.00" stroke="#111" stroke-width="1.4"/>
<line x1="577.56" x2="577.56" y1="40.00" y2="42.00" stroke="#111" stroke-width="1"/><line x1="577.56" x2="577.56" y1="46.00" y2="53.00" stroke="#111" stroke-width="1"/><rect x="573.76" y="42.00" width="7.6" height="4.00" fill="#050505" fill-opacity="1.0" stroke="#111" stroke-width="0.9"/><line x1="573.76" x2="581.36" y1="44.00" y2="44.00" stroke="#111" stroke-width="1.4"/>
<rect x="581.76" y="48.70" width="7.6" height="2.60" fill="#4DBF87" fill-opacity="1.0" stroke="#111" stroke-width="0.9"/><line x1="581.76" x2="591.86" y1="50.00" y2="50.00" stroke="#111" stroke-width="1.4"/>
<line x1="603.89" x2="603.89" y1="25.50" y2="29.60" stroke="#111" stroke-width="1"/><line x1="603.89" x2="603.89" y1="34.30" y2="40.50" stroke="#111" stroke-width="1"/><rect x="600.09" y="29.60" width="7.6" height="4.70" fill="#E06A1A" fill-opacity="1.0" stroke="#111" stroke-width="0.9"/><line x1="600.09" x2="607.69" y1="32.00" y2="32.00" stroke="#111" stroke-width="1.4"/>
<line x1="611.89" x2="611.89" y1="22.20" y2="28.50" stroke="#111" stroke-width="1"/><line x1="611.89" x2="611.89" y1="37.50" y2="49.40" stroke="#111" stroke-width="1"/><rect x="608.09" y="28.50" width="7.6" height="9.00" fill="#3F7DBE" fill-opacity="1.0" stroke="#111" stroke-width="0.9"/><line x1="608.09" x2="615.69" y1="33.00" y2="33.00" stroke="#111" stroke-width="1.4"/>
<line x1="619.89" x2="619.89" y1="26.00" y2="28.00" stroke="#111" stroke-width="1"/><line x1="619.89" x2="619.89" y1="32.00" y2="34.00" stroke="#111" stroke-width="1"/><rect x="616.09" y="28.00" width="7.6" height="4.00" fill="#050505" fill-opacity="1.0" stroke="#111" stroke-width="0.9"/><line x1="616.09" x2="623.69" y1="30.00" y2="30.00" stroke="#111" stroke-width="1.4"/>
<rect x="624.09" y="33.90" width="7.6" height="2.60" fill="#4DBF87" fill-opacity="1.0" stroke="#111" stroke-width="0.9"/><line x1="624.09" x2="634.19" y1="35.20" y2="35.20" stroke="#111" stroke-width="1.4"/>
<line x1="646.22" x2="646.22" y1="17.00" y2="18.00" stroke="#111" stroke-width="1"/><line x1="646.22" x2="646.22" y1="24.00" y2="29.50" stroke="#111" stroke-width="1"/><rect x="642.42" y="18.00" width="7.6" height="6.00" fill="#E06A1A" fill-opacity="1.0" stroke="#111" stroke-width="0.9"/><line x1="642.42" x2="650.02" y1="21.00" y2="21.00" stroke="#111" stroke-width="1.4"/>
<line x1="654.22" x2="654.22" y1="12.00" y2="18.00" stroke="#111" stroke-width="1"/><line x1="654.22" x2="654.22" y1="27.00" y2="39.00" stroke="#111" stroke-width="1"/><rect x="650.42" y="18.00" width="7.6" height="9.00" fill="#3F7DBE" fill-opacity="1.0" stroke="#111" stroke-width="0.9"/><line x1="650.42" x2="658.02" y1="22.00" y2="22.00" stroke="#111" stroke-width="1.4"/>
<line x1="662.22" x2="662.22" y1="19.50" y2="20.00" stroke="#111" stroke-width="1"/><line x1="662.22" x2="662.22" y1="25.00" y2="28.00" stroke="#111" stroke-width="1"/><rect x="658.42" y="20.00" width="7.6" height="5.00" fill="#050505" fill-opacity="1.0" stroke="#111" stroke-width="0.9"/><line x1="658.42" x2="666.02" y1="22.50" y2="22.50" stroke="#111" stroke-width="1.4"/>
<rect x="666.42" y="22.70" width="7.6" height="2.60" fill="#4DBF87" fill-opacity="1.0" stroke="#111" stroke-width="0.9"/><line x1="666.42" x2="676.52" y1="24.00" y2="24.00" stroke="#111" stroke-width="1.4"/>
<circle cx="53.90" cy="218.43" r="3.3" fill="#E2811D" fill-opacity="0.35" stroke="#2a2a3a" stroke-opacity="0.5" stroke-width="0.6"/>
<circle cx="53.43" cy="221.26" r="3.3" fill="#E2811D" fill-opacity="0.35" stroke="#2a2a3a" stroke-opacity="0.5" stroke-width="0.6"/>
<circle cx="54.04" cy="221.62" r="3.3" fill="#E2811D" fill-opacity="0.35" stroke="#2a2a3a" stroke-opacity="0.5" stroke-width="0.6"/>
<circle cx="53.66" cy="222.44" r="3.3" fill="#E2811D" fill-opacity="0.35" stroke="#2a2a3a" stroke-opacity="0.5" stroke-width="0.6"/>
<circle cx="55.06" cy="225.11" r="3.3" fill="#E2811D" fill-opacity="0.35" stroke="#2a2a3a" stroke-opacity="0.5" stroke-width="0.6"/>
<circle cx="52.62" cy="225.43" r="3.3" fill="#E2811D" fill-opacity="0.35" stroke="#2a2a3a" stroke-opacity="0.5" stroke-width="0.6"/>
<circle cx="55.15" cy="226.48" r="3.3" fill="#E2811D" fill-opacity="0.35" stroke="#2a2a3a" stroke-opacity="0.5" stroke-width="0.6"/>
<circle cx="51.31" cy="228.73" r="3.3" fill="#E2811D" fill-opacity="0.35" stroke="#2a2a3a" stroke-opacity="0.5" stroke-width="0.6"/>
<circle cx="54.20" cy="212.00" r="3.3" fill="#E2811D" fill-opacity="0.35" stroke="#2a2a3a" stroke-opacity="0.5" stroke-width="0.6"/>
<circle cx="63.92" cy="221.01" r="3.3" fill="#4B79CE" fill-opacity="0.35" stroke="#2a2a3a" stroke-opacity="0.5" stroke-width="0.6"/>
<circle cx="62.18" cy="220.91" r="3.3" fill="#4B79CE" fill-opacity="0.35" stroke="#2a2a3a" stroke-opacity="0.5" stroke-width="0.6"/>
<circle cx="59.18" cy="220.42" r="3.3" fill="#4B79CE" fill-opacity="0.35" stroke="#2a2a3a" stroke-opacity="0.5" stroke-width="0.6"/>
<circle cx="59.40" cy="221.69" r="3.3" fill="#4B79CE" fill-opacity="0.35" stroke="#2a2a3a" stroke-opacity="0.5" stroke-width="0.6"/>
<circle cx="60.31" cy="221.13" r="3.3" fill="#4B79CE" fill-opacity="0.35" stroke="#2a2a3a" stroke-opacity="0.5" stroke-width="0.6"/>
<circle cx="61.42" cy="221.00" r="3.3" fill="#4B79CE" fill-opacity="0.35" stroke="#2a2a3a" stroke-opacity="0.5" stroke-width="0.6"/>
<circle cx="63.31" cy="222.23" r="3.3" fill="#4B79CE" fill-opacity="0.35" stroke="#2a2a3a" stroke-opacity="0.5" stroke-width="0.6"/>
<circle cx="62.30" cy="222.87" r="3.3" fill="#4B79CE" fill-opacity="0.35" stroke="#2a2a3a" stroke-opacity="0.5" stroke-width="0.6"/>
<circle cx="62.41" cy="223.46" r="3.3" fill="#4B79CE" fill-opacity="0.35" stroke="#2a2a3a" stroke-opacity="0.5" stroke-width="0.6"/>
<circle cx="60.49" cy="224.00" r="3.3" fill="#4B79CE" fill-opacity="0.35" stroke="#2a2a3a" stroke-opacity="0.5" stroke-width="0.6"/>
<circle cx="64.08" cy="225.94" r="3.3" fill="#4B79CE" fill-opacity="0.35" stroke="#2a2a3a" stroke-opacity="0.5" stroke-width="0.6"/>
<circle cx="62.64" cy="226.21" r="3.3" fill="#4B79CE" fill-opacity="0.35" stroke="#2a2a3a" stroke-opacity="0.5" stroke-width="0.6"/>
<circle cx="60.25" cy="225.59" r="3.3" fill="#4B79CE" fill-opacity="0.35" stroke="#2a2a3a" stroke-opacity="0.5" stroke-width="0.6"/>
<circle cx="59.45" cy="226.17" r="3.3" fill="#4B79CE" fill-opacity="0.35" stroke="#2a2a3a" stroke-opacity="0.5" stroke-width="0.6"/>
<circle cx="61.10" cy="227.92" r="3.3" fill="#4B79CE" fill-opacity="0.35" stroke="#2a2a3a" stroke-opacity="0.5" stroke-width="0.6"/>
<circle cx="61.03" cy="228.69" r="3.3" fill="#4B79CE" fill-opacity="0.35" stroke="#2a2a3a" stroke-opacity="0.5" stroke-width="0.6"/>
<circle cx="63.34" cy="229.53" r="3.3" fill="#4B79CE" fill-opacity="0.35" stroke="#2a2a3a" stroke-opacity="0.5" stroke-width="0.6"/>
<circle cx="60.15" cy="227.80" r="3.3" fill="#4B79CE" fill-opacity="0.35" stroke="#2a2a3a" stroke-opacity="0.5" stroke-width="0.6"/>
<circle cx="61.45" cy="230.56" r="3.3" fill="#4B79CE" fill-opacity="0.35" stroke="#2a2a3a" stroke-opacity="0.5" stroke-width="0.6"/>
<circle cx="61.09" cy="231.30" r="3.3" fill="#4B79CE" fill-opacity="0.35" stroke="#2a2a3a" stroke-opacity="0.5" stroke-width="0.6"/>
<circle cx="62.25" cy="229.69" r="3.3" fill="#4B79CE" fill-opacity="0.35" stroke="#2a2a3a" stroke-opacity="0.5" stroke-width="0.6"/>
<circle cx="60.45" cy="231.77" r="3.3" fill="#4B79CE" fill-opacity="0.35" stroke="#2a2a3a" stroke-opacity="0.5" stroke-width="0.6"/>
<circle cx="60.76" cy="230.32" r="3.3" fill="#4B79CE" fill-opacity="0.35" stroke="#2a2a3a" stroke-opacity="0.5" stroke-width="0.6"/>
<circle cx="62.89" cy="232.63" r="3.3" fill="#4B79CE" fill-opacity="0.35" stroke="#2a2a3a" stroke-opacity="0.5" stroke-width="0.6"/>
<circle cx="60.33" cy="230.81" r="3.3" fill="#4B79CE" fill-opacity="0.35" stroke="#2a2a3a" stroke-opacity="0.5" stroke-width="0.6"/>
<circle cx="59.40" cy="231.09" r="3.3" fill="#4B79CE" fill-opacity="0.35" stroke="#2a2a3a" stroke-opacity="0.5" stroke-width="0.6"/>
<circle cx="59.99" cy="233.34" r="3.3" fill="#4B79CE" fill-opacity="0.35" stroke="#2a2a3a" stroke-opacity="0.5" stroke-width="0.6"/>
<circle cx="61.34" cy="233.35" r="3.3" fill="#4B79CE" fill-opacity="0.35" stroke="#2a2a3a" stroke-opacity="0.5" stroke-width="0.6"/>
<circle cx="75.57" cy="227.15" r="3.3" fill="#62D490" fill-opacity="0.35" stroke="#2a2a3a" stroke-opacity="0.5" stroke-width="0.6"/>
<circle cx="78.79" cy="229.60" r="3.3" fill="#62D490" fill-opacity="0.35" stroke="#2a2a3a" stroke-opacity="0.5" stroke-width="0.6"/>
<circle cx="94.72" cy="168.65" r="3.3" fill="#E2811D" fill-opacity="0.35" stroke="#2a2a3a" stroke-opacity="0.5" stroke-width="0.6"/>
<circle cx="95.07" cy="171.47" r="3.3" fill="#E2811D" fill-opacity="0.35" stroke="#2a2a3a" stroke-opacity="0.5" stroke-width="0.6"/>
<circle cx="93.80" cy="172.24" r="3.3" fill="#E2811D" fill-opacity="0.35" stroke="#2a2a3a" stroke-opacity="0.5" stroke-width="0.6"/>
<circle cx="96.34" cy="174.59" r="3.3" fill="#E2811D" fill-opacity="0.35" stroke="#2a2a3a" stroke-opacity="0.5" stroke-width="0.6"/>
<circle cx="96.44" cy="177.88" r="3.3" fill="#E2811D" fill-opacity="0.35" stroke="#2a2a3a" stroke-opacity="0.5" stroke-width="0.6"/>
<circle cx="95.70" cy="181.19" r="3.3" fill="#E2811D" fill-opacity="0.35" stroke="#2a2a3a" stroke-opacity="0.5" stroke-width="0.6"/>
<circle cx="95.85" cy="184.83" r="3.3" fill="#E2811D" fill-opacity="0.35" stroke="#2a2a3a" stroke-opacity="0.5" stroke-width="0.6"/>
<circle cx="97.76" cy="186.15" r="3.3" fill="#E2811D" fill-opacity="0.35" stroke="#2a2a3a" stroke-opacity="0.5" stroke-width="0.6"/>
<circle cx="93.60" cy="138.00" r="3.3" fill="#E2811D" fill-opacity="0.35" stroke="#2a2a3a" stroke-opacity="0.5" stroke-width="0.6"/>
<circle cx="102.20" cy="170.68" r="3.3" fill="#4B79CE" fill-opacity="0.35" stroke="#2a2a3a" stroke-opacity="0.5" stroke-width="0.6"/>
<circle cx="105.52" cy="177.29" r="3.3" fill="#4B79CE" fill-opacity="0.35" stroke="#2a2a3a" stroke-opacity="0.5" stroke-width="0.6"/>
<circle cx="102.38" cy="180.59" r="3.3" fill="#4B79CE" fill-opacity="0.35" stroke="#2a2a3a" stroke-opacity="0.5" stroke-width="0.6"/>
<circle cx="106.13" cy="184.45" r="3.3" fill="#4B79CE" fill-opacity="0.35" stroke="#2a2a3a" stroke-opacity="0.5" stroke-width="0.6"/>
<circle cx="106.18" cy="184.90" r="3.3" fill="#4B79CE" fill-opacity="0.35" stroke="#2a2a3a" stroke-opacity="0.5" stroke-width="0.6"/>
<circle cx="104.45" cy="188.29" r="3.3" fill="#4B79CE" fill-opacity="0.35" stroke="#2a2a3a" stroke-opacity="0.5" stroke-width="0.6"/>
<circle cx="101.95" cy="188.94" r="3.3" fill="#4B79CE" fill-opacity="0.35" stroke="#2a2a3a" stroke-opacity="0.5" stroke-width="0.6"/>
<circle cx="106.24" cy="189.68" r="3.3" fill="#4B79CE" fill-opacity="0.35" stroke="#2a2a3a" stroke-opacity="0.5" stroke-width="0.6"/>
<circle cx="104.95" cy="191.73" r="3.3" fill="#4B79CE" fill-opacity="0.35" stroke="#2a2a3a" stroke-opacity="0.5" stroke-width="0.6"/>
<circle cx="105.55" cy="193.35" r="3.3" fill="#4B79CE" fill-opacity="0.35" stroke="#2a2a3a" stroke-opacity="0.5" stroke-width="0.6"/>
<circle cx="102.90" cy="195.73" r="3.3" fill="#4B79CE" fill-opacity="0.35" stroke="#2a2a3a" stroke-opacity="0.5" stroke-width="0.6"/>
<circle cx="105.03" cy="196.29" r="3.3" fill="#4B79CE" fill-opacity="0.35" stroke="#2a2a3a" stroke-opacity="0.5" stroke-width="0.6"/>
<circle cx="102.57" cy="197.61" r="3.3" fill="#4B79CE" fill-opacity="0.35" stroke="#2a2a3a" stroke-opacity="0.5" stroke-width="0.6"/>
<circle cx="105.69" cy="200.36" r="3.3" fill="#4B79CE" fill-opacity="0.35" stroke="#2a2a3a" stroke-opacity="0.5" stroke-width="0.6"/>
<circle cx="102.83" cy="202.06" r="3.3" fill="#4B79CE" fill-opacity="0.35" stroke="#2a2a3a" stroke-opacity="0.5" stroke-width="0.6"/>
<circle cx="102.45" cy="204.36" r="3.3" fill="#4B79CE" fill-opacity="0.35" stroke="#2a2a3a" stroke-opacity="0.5" stroke-width="0.6"/>
<circle cx="102.78" cy="203.77" r="3.3" fill="#4B79CE" fill-opacity="0.35" stroke="#2a2a3a" stroke-opacity="0.5" stroke-width="0.6"/>
<circle cx="101.73" cy="206.37" r="3.3" fill="#4B79CE" fill-opacity="0.35" stroke="#2a2a3a" stroke-opacity="0.5" stroke-width="0.6"/>
<circle cx="103.27" cy="207.29" r="3.3" fill="#4B79CE" fill-opacity="0.35" stroke="#2a2a3a" stroke-opacity="0.5" stroke-width="0.6"/>
<circle cx="102.09" cy="209.82" r="3.3" fill="#4B79CE" fill-opacity="0.35" stroke="#2a2a3a" stroke-opacity="0.5" stroke-width="0.6"/>
<circle cx="105.88" cy="210.88" r="3.3" fill="#4B79CE" fill-opacity="0.35" stroke="#2a2a3a" stroke-opacity="0.5" stroke-width="0.6"/>
<circle cx="104.71" cy="213.86" r="3.3" fill="#4B79CE" fill-opacity="0.35" stroke="#2a2a3a" stroke-opacity="0.5" stroke-width="0.6"/>
<circle cx="104.35" cy="214.58" r="3.3" fill="#4B79CE" fill-opacity="0.35" stroke="#2a2a3a" stroke-opacity="0.5" stroke-width="0.6"/>
<circle cx="101.61" cy="214.68" r="3.3" fill="#4B79CE" fill-opacity="0.35" stroke="#2a2a3a" stroke-opacity="0.5" stroke-width="0.6"/>
<circle cx="105.98" cy="215.80" r="3.3" fill="#4B79CE" fill-opacity="0.35" stroke="#2a2a3a" stroke-opacity="0.5" stroke-width="0.6"/>
<circle cx="106.24" cy="219.62" r="3.3" fill="#4B79CE" fill-opacity="0.35" stroke="#2a2a3a" stroke-opacity="0.5" stroke-width="0.6"/>
<circle cx="104.61" cy="221.93" r="3.3" fill="#4B79CE" fill-opacity="0.35" stroke="#2a2a3a" stroke-opacity="0.5" stroke-width="0.6"/>
<circle cx="105.08" cy="226.98" r="3.3" fill="#4B79CE" fill-opacity="0.35" stroke="#2a2a3a" stroke-opacity="0.5" stroke-width="0.6"/>
<circle cx="118.08" cy="203.32" r="3.3" fill="#62D490" fill-opacity="0.35" stroke="#2a2a3a" stroke-opacity="0.5" stroke-width="0.6"/>
<circle cx="120.62" cy="206.96" r="3.3" fill="#62D490" fill-opacity="0.35" stroke="#2a2a3a" stroke-opacity="0.5" stroke-width="0.6"/>
<circle cx="137.67" cy="184.22" r="3.3" fill="#E2811D" fill-opacity="0.35" stroke="#2a2a3a" stroke-opacity="0.5" stroke-width="0.6"/>
<circle cx="138.80" cy="187.35" r="3.3" fill="#E2811D" fill-opacity="0.35" stroke="#2a2a3a" stroke-opacity="0.5" stroke-width="0.6"/>
<circle cx="138.96" cy="188.14" r="3.3" fill="#E2811D" fill-opacity="0.35" stroke="#2a2a3a" stroke-opacity="0.5" stroke-width="0.6"/>
<circle cx="140.16" cy="192.23" r="3.3" fill="#E2811D" fill-opacity="0.35" stroke="#2a2a3a" stroke-opacity="0.5" stroke-width="0.6"/>
<circle cx="137.70" cy="193.67" r="3.3" fill="#E2811D" fill-opacity="0.35" stroke="#2a2a3a" stroke-opacity="0.5" stroke-width="0.6"/>
<circle cx="138.66" cy="195.94" r="3.3" fill="#E2811D" fill-opacity="0.35" stroke="#2a2a3a" stroke-opacity="0.5" stroke-width="0.6"/>
<circle cx="139.95" cy="197.16" r="3.3" fill="#E2811D" fill-opacity="0.35" stroke="#2a2a3a" stroke-opacity="0.5" stroke-width="0.6"/>
<circle cx="139.51" cy="198.77" r="3.3" fill="#E2811D" fill-opacity="0.35" stroke="#2a2a3a" stroke-opacity="0.5" stroke-width="0.6"/>
<circle cx="146.77" cy="189.45" r="3.3" fill="#4B79CE" fill-opacity="0.35" stroke="#2a2a3a" stroke-opacity="0.5" stroke-width="0.6"/>
<circle cx="144.91" cy="191.70" r="3.3" fill="#4B79CE" fill-opacity="0.35" stroke="#2a2a3a" stroke-opacity="0.5" stroke-width="0.6"/>
<circle cx="146.25" cy="193.38" r="3.3" fill="#4B79CE" fill-opacity="0.35" stroke="#2a2a3a" stroke-opacity="0.5" stroke-width="0.6"/>
<circle cx="148.36" cy="193.82" r="3.3" fill="#4B79CE" fill-opacity="0.35" stroke="#2a2a3a" stroke-opacity="0.5" stroke-width="0.6"/>
<circle cx="143.82" cy="193.37" r="3.3" fill="#4B79CE" fill-opacity="0.35" stroke="#2a2a3a" stroke-opacity="0.5" stroke-width="0.6"/>
<circle cx="147.15" cy="193.90" r="3.3" fill="#4B79CE" fill-opacity="0.35" stroke="#2a2a3a" stroke-opacity="0.5" stroke-width="0.6"/>
<circle cx="144.61" cy="194.08" r="3.3" fill="#4B79CE" fill-opacity="0.35" stroke="#2a2a3a" stroke-opacity="0.5" stroke-width="0.6"/>
<circle cx="147.06" cy="196.33" r="3.3" fill="#4B79CE" fill-opacity="0.35" stroke="#2a2a3a" stroke-opacity="0.5" stroke-width="0.6"/>
<circle cx="148.22" cy="195.93" r="3.3" fill="#4B79CE" fill-opacity="0.35" stroke="#2a2a3a" stroke-opacity="0.5" stroke-width="0.6"/>
<circle cx="147.09" cy="196.37" r="3.3" fill="#4B79CE" fill-opacity="0.35" stroke="#2a2a3a" stroke-opacity="0.5" stroke-width="0.6"/>
<circle cx="145.91" cy="196.78" r="3.3" fill="#4B79CE" fill-opacity="0.35" stroke="#2a2a3a" stroke-opacity="0.5" stroke-width="0.6"/>
<circle cx="148.33" cy="198.95" r="3.3" fill="#4B79CE" fill-opacity="0.35" stroke="#2a2a3a" stroke-opacity="0.5" stroke-width="0.6"/>
<circle cx="145.68" cy="199.84" r="3.3" fill="#4B79CE" fill-opacity="0.35" stroke="#2a2a3a" stroke-opacity="0.5" stroke-width="0.6"/>
<circle cx="145.34" cy="199.84" r="3.3" fill="#4B79CE" fill-opacity="0.35" stroke="#2a2a3a" stroke-opacity="0.5" stroke-width="0.6"/>
<circle cx="146.24" cy="199.48" r="3.3" fill="#4B79CE" fill-opacity="0.35" stroke="#2a2a3a" stroke-opacity="0.5" stroke-width="0.6"/>
<circle cx="148.00" cy="201.88" r="3.3" fill="#4B79CE" fill-opacity="0.35" stroke="#2a2a3a" stroke-opacity="0.5" stroke-width="0.6"/>
<circle cx="148.51" cy="202.29" r="3.3" fill="#4B79CE" fill-opacity="0.35" stroke="#2a2a3a" stroke-opacity="0.5" stroke-width="0.6"/>
<circle cx="144.61" cy="201.96" r="3.3" fill="#4B79CE" fill-opacity="0.35" stroke="#2a2a3a" stroke-opacity="0.5" stroke-width="0.6"/>
<circle cx="145.14" cy="203.10" r="3.3" fill="#4B79CE" fill-opacity="0.35" stroke="#2a2a3a" stroke-opacity="0.5" stroke-width="0.6"/>
<circle cx="145.83" cy="203.24" r="3.3" fill="#4B79CE" fill-opacity="0.35" stroke="#2a2a3a" stroke-opacity="0.5" stroke-width="0.6"/>
<circle cx="146.23" cy="204.94" r="3.3" fill="#4B79CE" fill-opacity="0.35" stroke="#2a2a3a" stroke-opacity="0.5" stroke-width="0.6"/>
<circle cx="147.96" cy="204.93" r="3.3" fill="#4B79CE" fill-opacity="0.35" stroke="#2a2a3a" stroke-opacity="0.5" stroke-width="0.6"/>
<circle cx="146.02" cy="207.28" r="3.3" fill="#4B79CE" fill-opacity="0.35" stroke="#2a2a3a" stroke-opacity="0.5" stroke-width="0.6"/>
<circle cx="143.92" cy="205.85" r="3.3" fill="#4B79CE" fill-opacity="0.35" stroke="#2a2a3a" stroke-opacity="0.5" stroke-width="0.6"/>
<circle cx="143.97" cy="208.52" r="3.3" fill="#4B79CE" fill-opacity="0.35" stroke="#2a2a3a" stroke-opacity="0.5" stroke-width="0.6"/>
<circle cx="146.61" cy="209.28" r="3.3" fill="#4B79CE" fill-opacity="0.35" stroke="#2a2a3a" stroke-opacity="0.5" stroke-width="0.6"/>
<circle cx="147.72" cy="210.41" r="3.3" fill="#4B79CE" fill-opacity="0.35" stroke="#2a2a3a" stroke-opacity="0.5" stroke-width="0.6"/>
<circle cx="144.44" cy="211.80" r="3.3" fill="#4B79CE" fill-opacity="0.35" stroke="#2a2a3a" stroke-opacity="0.5" stroke-width="0.6"/>
<circle cx="159.67" cy="196.38" r="3.3" fill="#62D490" fill-opacity="0.35" stroke="#2a2a3a" stroke-opacity="0.5" stroke-width="0.6"/>
<circle cx="162.83" cy="199.11" r="3.3" fill="#62D490" fill-opacity="0.35" stroke="#2a2a3a" stroke-opacity="0.5" stroke-width="0.6"/>
<circle cx="178.99" cy="148.02" r="3.3" fill="#E2811D" fill-opacity="0.35" stroke="#2a2a3a" stroke-opacity="0.5" stroke-width="0.6"/>
<circle cx="179.82" cy="148.61" r="3.3" fill="#E2811D" fill-opacity="0.35" stroke="#2a2a3a" stroke-opacity="0.5" stroke-width="0.6"/>
<circle cx="180.69" cy="152.47" r="3.3" fill="#E2811D" fill-opacity="0.35" stroke="#2a2a3a" stroke-opacity="0.5" stroke-width="0.6"/>
<circle cx="181.87" cy="156.87" r="3.3" fill="#E2811D" fill-opacity="0.35" stroke="#2a2a3a" stroke-opacity="0.5" stroke-width="0.6"/>
<circle cx="182.05" cy="160.32" r="3.3" fill="#E2811D" fill-opacity="0.35" stroke="#2a2a3a" stroke-opacity="0.5" stroke-width="0.6"/>
<circle cx="178.53" cy="164.90" r="3.3" fill="#E2811D" fill-opacity="0.35" stroke="#2a2a3a" stroke-opacity="0.5" stroke-width="0.6"/>
<circle cx="181.70" cy="168.45" r="3.3" fill="#E2811D" fill-opacity="0.35" stroke="#2a2a3a" stroke-opacity="0.5" stroke-width="0.6"/>
<circle cx="180.36" cy="172.07" r="3.3" fill="#E2811D" fill-opacity="0.35" stroke="#2a2a3a" stroke-opacity="0.5" stroke-width="0.6"/>
<circle cx="183.10" cy="120.70" r="3.3" fill="#E2811D" fill-opacity="0.35" stroke="#2a2a3a" stroke-opacity="0.5" stroke-width="0.6"/>
<circle cx="190.64" cy="142.32" r="3.3" fill="#4B79CE" fill-opacity="0.35" stroke="#2a2a3a" stroke-opacity="0.5" stroke-width="0.6"/>
<circle cx="188.93" cy="148.36" r="3.3" fill="#4B79CE" fill-opacity="0.35" stroke="#2a2a3a" stroke-opacity="0.5" stroke-width="0.6"/>
<circle cx="190.07" cy="156.21" r="3.3" fill="#4B79CE" fill-opacity="0.35" stroke="#2a2a3a" stroke-opacity="0.5" stroke-width="0.6"/>
<circle cx="188.41" cy="160.02" r="3.3" fill="#4B79CE" fill-opacity="0.35" stroke="#2a2a3a" stroke-opacity="0.5" stroke-width="0.6"/>
<circle cx="187.11" cy="161.70" r="3.3" fill="#4B79CE" fill-opacity="0.35" stroke="#2a2a3a" stroke-opacity="0.5" stroke-width="0.6"/>
<circle cx="190.18" cy="164.26" r="3.3" fill="#4B79CE" fill-opacity="0.35" stroke="#2a2a3a" stroke-opacity="0.5" stroke-width="0.6"/>
<circle cx="189.68" cy="166.45" r="3.3" fill="#4B79CE" fill-opacity="0.35" stroke="#2a2a3a" stroke-opacity="0.5" stroke-width="0.6"/>
<circle cx="190.59" cy="167.52" r="3.3" fill="#4B79CE" fill-opacity="0.35" stroke="#2a2a3a" stroke-opacity="0.5" stroke-width="0.6"/>
<circle cx="190.98" cy="171.17" r="3.3" fill="#4B79CE" fill-opacity="0.35" stroke="#2a2a3a" stroke-opacity="0.5" stroke-width="0.6"/>
<circle cx="190.04" cy="171.92" r="3.3" fill="#4B79CE" fill-opacity="0.35" stroke="#2a2a3a" stroke-opacity="0.5" stroke-width="0.6"/>
<circle cx="190.64" cy="173.22" r="3.3" fill="#4B79CE" fill-opacity="0.35" stroke="#2a2a3a" stroke-opacity="0.5" stroke-width="0.6"/>
<circle cx="187.83" cy="176.32" r="3.3" fill="#4B79CE" fill-opacity="0.35" stroke="#2a2a3a" stroke-opacity="0.5" stroke-width="0.6"/>
<circle cx="188.29" cy="176.28" r="3.3" fill="#4B79CE" fill-opacity="0.35" stroke="#2a2a3a" stroke-opacity="0.5" stroke-width="0.6"/>
<circle cx="189.93" cy="179.21" r="3.3" fill="#4B79CE" fill-opacity="0.35" stroke="#2a2a3a" stroke-opacity="0.5" stroke-width="0.6"/>
<circle cx="186.23" cy="180.93" r="3.3" fill="#4B79CE" fill-opacity="0.35" stroke="#2a2a3a" stroke-opacity="0.5" stroke-width="0.6"/>
<circle cx="186.41" cy="183.61" r="3.3" fill="#4B79CE" fill-opacity="0.35" stroke="#2a2a3a" stroke-opacity="0.5" stroke-width="0.6"/>
<circle cx="186.95" cy="185.51" r="3.3" fill="#4B79CE" fill-opacity="0.35" stroke="#2a2a3a" stroke-opacity="0.5" stroke-width="0.6"/>
<circle cx="190.03" cy="186.30" r="3.3" fill="#4B79CE" fill-opacity="0.35" stroke="#2a2a3a" stroke-opacity="0.5" stroke-width="0.6"/>
<circle cx="186.83" cy="187.75" r="3.3" fill="#4B79CE" fill-opacity="0.35" stroke="#2a2a3a" stroke-opacity="0.5" stroke-width="0.6"/>
<circle cx="189.71" cy="190.57" r="3.3" fill="#4B79CE" fill-opacity="0.35" stroke="#2a2a3a" stroke-opacity="0.5" stroke-width="0.6"/>
<circle cx="189.54" cy="193.26" r="3.3" fill="#4B79CE" fill-opacity="0.35" stroke="#2a2a3a" stroke-opacity="0.5" stroke-width="0.6"/>
<circle cx="188.55" cy="195.62" r="3.3" fill="#4B79CE" fill-opacity="0.35" stroke="#2a2a3a" stroke-opacity="0.5" stroke-width="0.6"/>
<circle cx="186.52" cy="197.94" r="3.3" fill="#4B79CE" fill-opacity="0.35" stroke="#2a2a3a" stroke-opacity="0.5" stroke-width="0.6"/>
<circle cx="188.72" cy="198.50" r="3.3" fill="#4B79CE" fill-opacity="0.35" stroke="#2a2a3a" stroke-opacity="0.5" stroke-width="0.6"/>
<circle cx="189.73" cy="200.98" r="3.3" fill="#4B79CE" fill-opacity="0.35" stroke="#2a2a3a" stroke-opacity="0.5" stroke-width="0.6"/>
<circle cx="188.70" cy="205.36" r="3.3" fill="#4B79CE" fill-opacity="0.35" stroke="#2a2a3a" stroke-opacity="0.5" stroke-width="0.6"/>
<circle cx="188.89" cy="212.28" r="3.3" fill="#4B79CE" fill-opacity="0.35" stroke="#2a2a3a" stroke-opacity="0.5" stroke-width="0.6"/>
<circle cx="188.00" cy="217.43" r="3.3" fill="#4B79CE" fill-opacity="0.35" stroke="#2a2a3a" stroke-opacity="0.5" stroke-width="0.6"/>
<circle cx="202.75" cy="189.30" r="3.3" fill="#62D490" fill-opacity="0.35" stroke="#2a2a3a" stroke-opacity="0.5" stroke-width="0.6"/>
<circle cx="205.18" cy="192.66" r="3.3" fill="#62D490" fill-opacity="0.35" stroke="#2a2a3a" stroke-opacity="0.5" stroke-width="0.6"/>
<circle cx="220.75" cy="122.34" r="3.3" fill="#E2811D" fill-opacity="0.35" stroke="#2a2a3a" stroke-opacity="0.5" stroke-width="0.6"/>
<circle cx="222.49" cy="125.16" r="3.3" fill="#E2811D" fill-opacity="0.35" stroke="#2a2a3a" stroke-opacity="0.5" stroke-width="0.6"/>
<circle cx="225.04" cy="128.42" r="3.3" fill="#E2811D" fill-opacity="0.35" stroke="#2a2a3a" stroke-opacity="0.5" stroke-width="0.6"/>
<circle cx="222.79" cy="129.22" r="3.3" fill="#E2811D" fill-opacity="0.35" stroke="#2a2a3a" stroke-opacity="0.5" stroke-width="0.6"/>
<circle cx="222.59" cy="131.40" r="3.3" fill="#E2811D" fill-opacity="0.35" stroke="#2a2a3a" stroke-opacity="0.5" stroke-width="0.6"/>
<circle cx="224.92" cy="135.66" r="3.3" fill="#E2811D" fill-opacity="0.35" stroke="#2a2a3a" stroke-opacity="0.5" stroke-width="0.6"/>
<circle cx="222.01" cy="136.99" r="3.3" fill="#E2811D" fill-opacity="0.35" stroke="#2a2a3a" stroke-opacity="0.5" stroke-width="0.6"/>
<circle cx="223.51" cy="138.90" r="3.3" fill="#E2811D" fill-opacity="0.35" stroke="#2a2a3a" stroke-opacity="0.5" stroke-width="0.6"/>
<circle cx="222.10" cy="110.20" r="3.3" fill="#E2811D" fill-opacity="0.35" stroke="#2a2a3a" stroke-opacity="0.5" stroke-width="0.6"/>
<circle cx="229.07" cy="130.79" r="3.3" fill="#4B79CE" fill-opacity="0.35" stroke="#2a2a3a" stroke-opacity="0.5" stroke-width="0.6"/>
<circle cx="228.53" cy="132.79" r="3.3" fill="#4B79CE" fill-opacity="0.35" stroke="#2a2a3a" stroke-opacity="0.5" stroke-width="0.6"/>
<circle cx="229.56" cy="133.73" r="3.3" fill="#4B79CE" fill-opacity="0.35" stroke="#2a2a3a" stroke-opacity="0.5" stroke-width="0.6"/>
<circle cx="230.03" cy="136.20" r="3.3" fill="#4B79CE" fill-opacity="0.35" stroke="#2a2a3a" stroke-opacity="0.5" stroke-width="0.6"/>
<circle cx="231.52" cy="136.25" r="3.3" fill="#4B79CE" fill-opacity="0.35" stroke="#2a2a3a" stroke-opacity="0.5" stroke-width="0.6"/>
<circle cx="232.07" cy="136.49" r="3.3" fill="#4B79CE" fill-opacity="0.35" stroke="#2a2a3a" stroke-opacity="0.5" stroke-width="0.6"/>
<circle cx="230.97" cy="137.37" r="3.3" fill="#4B79CE" fill-opacity="0.35" stroke="#2a2a3a" stroke-opacity="0.5" stroke-width="0.6"/>
<circle cx="229.41" cy="139.27" r="3.3" fill="#4B79CE" fill-opacity="0.35" stroke="#2a2a3a" stroke-opacity="0.5" stroke-width="0.6"/>
<circle cx="230.60" cy="142.27" r="3.3" fill="#4B79CE" fill-opacity="0.35" stroke="#2a2a3a" stroke-opacity="0.5" stroke-width="0.6"/>
<circle cx="230.49" cy="144.22" r="3.3" fill="#4B79CE" fill-opacity="0.35" stroke="#2a2a3a" stroke-opacity="0.5" stroke-width="0.6"/>
<circle cx="229.22" cy="146.92" r="3.3" fill="#4B79CE" fill-opacity="0.35" stroke="#2a2a3a" stroke-opacity="0.5" stroke-width="0.6"/>
<circle cx="231.58" cy="148.47" r="3.3" fill="#4B79CE" fill-opacity="0.35" stroke="#2a2a3a" stroke-opacity="0.5" stroke-width="0.6"/>
<circle cx="231.07" cy="151.84" r="3.3" fill="#4B79CE" fill-opacity="0.35" stroke="#2a2a3a" stroke-opacity="0.5" stroke-width="0.6"/>
<circle cx="231.48" cy="154.68" r="3.3" fill="#4B79CE" fill-opacity="0.35" stroke="#2a2a3a" stroke-opacity="0.5" stroke-width="0.6"/>
<circle cx="229.58" cy="156.97" r="3.3" fill="#4B79CE" fill-opacity="0.35" stroke="#2a2a3a" stroke-opacity="0.5" stroke-width="0.6"/>
<circle cx="232.47" cy="158.92" r="3.3" fill="#4B79CE" fill-opacity="0.35" stroke="#2a2a3a" stroke-opacity="0.5" stroke-width="0.6"/>
<circle cx="230.00" cy="161.54" r="3.3" fill="#4B79CE" fill-opacity="0.35" stroke="#2a2a3a" stroke-opacity="0.5" stroke-width="0.6"/>
<circle cx="233.03" cy="162.36" r="3.3" fill="#4B79CE" fill-opacity="0.35" stroke="#2a2a3a" stroke-opacity="0.5" stroke-width="0.6"/>
<circle cx="233.41" cy="164.35" r="3.3" fill="#4B79CE" fill-opacity="0.35" stroke="#2a2a3a" stroke-opacity="0.5" stroke-width="0.6"/>
<circle cx="229.09" cy="168.19" r="3.3" fill="#4B79CE" fill-opacity="0.35" stroke="#2a2a3a" stroke-opacity="0.5" stroke-width="0.6"/>
<circle cx="232.05" cy="168.86" r="3.3" fill="#4B79CE" fill-opacity="0.35" stroke="#2a2a3a" stroke-opacity="0.5" stroke-width="0.6"/>
<circle cx="228.91" cy="170.79" r="3.3" fill="#4B79CE" fill-opacity="0.35" stroke="#2a2a3a" stroke-opacity="0.5" stroke-width="0.6"/>
<circle cx="230.53" cy="173.71" r="3.3" fill="#4B79CE" fill-opacity="0.35" stroke="#2a2a3a" stroke-opacity="0.5" stroke-width="0.6"/>
<circle cx="229.05" cy="175.15" r="3.3" fill="#4B79CE" fill-opacity="0.35" stroke="#2a2a3a" stroke-opacity="0.5" stroke-width="0.6"/>
<circle cx="231.85" cy="175.76" r="3.3" fill="#4B79CE" fill-opacity="0.35" stroke="#2a2a3a" stroke-opacity="0.5" stroke-width="0.6"/>
<circle cx="229.42" cy="177.21" r="3.3" fill="#4B79CE" fill-opacity="0.35" stroke="#2a2a3a" stroke-opacity="0.5" stroke-width="0.6"/>
<circle cx="232.98" cy="183.10" r="3.3" fill="#4B79CE" fill-opacity="0.35" stroke="#2a2a3a" stroke-opacity="0.5" stroke-width="0.6"/>
<circle cx="229.00" cy="188.08" r="3.3" fill="#4B79CE" fill-opacity="0.35" stroke="#2a2a3a" stroke-opacity="0.5" stroke-width="0.6"/>
<circle cx="245.31" cy="155.74" r="3.3" fill="#62D490" fill-opacity="0.35" stroke="#2a2a3a" stroke-opacity="0.5" stroke-width="0.6"/>
<circle cx="247.03" cy="159.03" r="3.3" fill="#62D490" fill-opacity="0.35" stroke="#2a2a3a" stroke-opacity="0.5" stroke-width="0.6"/>
<circle cx="267.51" cy="128.52" r="3.3" fill="#E2811D" fill-opacity="0.35" stroke="#2a2a3a" stroke-opacity="0.5" stroke-width="0.6"/>
<circle cx="266.57" cy="131.77" r="3.3" fill="#E2811D" fill-opacity="0.35" stroke="#2a2a3a" stroke-opacity="0.5" stroke-width="0.6"/>
<circle cx="265.08" cy="133.16" r="3.3" fill="#E2811D" fill-opacity="0.35" stroke="#2a2a3a" stroke-opacity="0.5" stroke-width="0.6"/>
<circle cx="264.90" cy="135.56" r="3.3" fill="#E2811D" fill-opacity="0.35" stroke="#2a2a3a" stroke-opacity="0.5" stroke-width="0.6"/>
<circle cx="262.82" cy="137.74" r="3.3" fill="#E2811D" fill-opacity="0.35" stroke="#2a2a3a" stroke-opacity="0.5" stroke-width="0.6"/>
<circle cx="266.97" cy="139.98" r="3.3" fill="#E2811D" fill-opacity="0.35" stroke="#2a2a3a" stroke-opacity="0.5" stroke-width="0.6"/>
<circle cx="265.02" cy="140.61" r="3.3" fill="#E2811D" fill-opacity="0.35" stroke="#2a2a3a" stroke-opacity="0.5" stroke-width="0.6"/>
<circle cx="264.78" cy="144.64" r="3.3" fill="#E2811D" fill-opacity="0.35" stroke="#2a2a3a" stroke-opacity="0.5" stroke-width="0.6"/>
<circle cx="271.58" cy="124.41" r="3.3" fill="#4B79CE" fill-opacity="0.35" stroke="#2a2a3a" stroke-opacity="0.5" stroke-width="0.6"/>
<circle cx="270.83" cy="126.45" r="3.3" fill="#4B79CE" fill-opacity="0.35" stroke="#2a2a3a" stroke-opacity="0.5" stroke-width="0.6"/>
<circle cx="274.76" cy="128.64" r="3.3" fill="#4B79CE" fill-opacity="0.35" stroke="#2a2a3a" stroke-opacity="0.5" stroke-width="0.6"/>
<circle cx="275.05" cy="128.89" r="3.3" fill="#4B79CE" fill-opacity="0.35" stroke="#2a2a3a" stroke-opacity="0.5" stroke-width="0.6"/>
<circle cx="272.77" cy="129.16" r="3.3" fill="#4B79CE" fill-opacity="0.35" stroke="#2a2a3a" stroke-opacity="0.5" stroke-width="0.6"/>
<circle cx="273.27" cy="129.55" r="3.3" fill="#4B79CE" fill-opacity="0.35" stroke="#2a2a3a" stroke-opacity="0.5" stroke-width="0.6"/>
<circle cx="274.77" cy="130.93" r="3.3" fill="#4B79CE" fill-opacity="0.35" stroke="#2a2a3a" stroke-opacity="0.5" stroke-width="0.6"/>
<circle cx="275.31" cy="129.99" r="3.3" fill="#4B79CE" fill-opacity="0.35" stroke="#2a2a3a" stroke-opacity="0.5" stroke-width="0.6"/>
<circle cx="274.64" cy="132.30" r="3.3" fill="#4B79CE" fill-opacity="0.35" stroke="#2a2a3a" stroke-opacity="0.5" stroke-width="0.6"/>
<circle cx="272.78" cy="133.61" r="3.3" fill="#4B79CE" fill-opacity="0.35" stroke="#2a2a3a" stroke-opacity="0.5" stroke-width="0.6"/>
<circle cx="275.15" cy="134.95" r="3.3" fill="#4B79CE" fill-opacity="0.35" stroke="#2a2a3a" stroke-opacity="0.5" stroke-width="0.6"/>
<circle cx="274.59" cy="135.61" r="3.3" fill="#4B79CE" fill-opacity="0.35" stroke="#2a2a3a" stroke-opacity="0.5" stroke-width="0.6"/>
<circle cx="272.78" cy="136.92" r="3.3" fill="#4B79CE" fill-opacity="0.35" stroke="#2a2a3a" stroke-opacity="0.5" stroke-width="0.6"/>
<circle cx="271.10" cy="137.96" r="3.3" fill="#4B79CE" fill-opacity="0.35" stroke="#2a2a3a" stroke-opacity="0.5" stroke-width="0.6"/>
<circle cx="273.09" cy="138.12" r="3.3" fill="#4B79CE" fill-opacity="0.35" stroke="#2a2a3a" stroke-opacity="0.5" stroke-width="0.6"/>
<circle cx="272.53" cy="138.33" r="3.3" fill="#4B79CE" fill-opacity="0.35" stroke="#2a2a3a" stroke-opacity="0.5" stroke-width="0.6"/>
<circle cx="273.87" cy="140.83" r="3.3" fill="#4B79CE" fill-opacity="0.35" stroke="#2a2a3a" stroke-opacity="0.5" stroke-width="0.6"/>
<circle cx="275.47" cy="140.86" r="3.3" fill="#4B79CE" fill-opacity="0.35" stroke="#2a2a3a" stroke-opacity="0.5" stroke-width="0.6"/>
<circle cx="272.44" cy="142.90" r="3.3" fill="#4B79CE" fill-opacity="0.35" stroke="#2a2a3a" stroke-opacity="0.5" stroke-width="0.6"/>
<circle cx="273.60" cy="143.88" r="3.3" fill="#4B79CE" fill-opacity="0.35" stroke="#2a2a3a" stroke-opacity="0.5" stroke-width="0.6"/>
<circle cx="272.70" cy="144.58" r="3.3" fill="#4B79CE" fill-opacity="0.35" stroke="#2a2a3a" stroke-opacity="0.5" stroke-width="0.6"/>
<circle cx="273.96" cy="146.82" r="3.3" fill="#4B79CE" fill-opacity="0.35" stroke="#2a2a3a" stroke-opacity="0.5" stroke-width="0.6"/>
<circle cx="274.56" cy="147.36" r="3.3" fill="#4B79CE" fill-opacity="0.35" stroke="#2a2a3a" stroke-opacity="0.5" stroke-width="0.6"/>
<circle cx="270.86" cy="149.28" r="3.3" fill="#4B79CE" fill-opacity="0.35" stroke="#2a2a3a" stroke-opacity="0.5" stroke-width="0.6"/>
<circle cx="274.44" cy="149.65" r="3.3" fill="#4B79CE" fill-opacity="0.35" stroke="#2a2a3a" stroke-opacity="0.5" stroke-width="0.6"/>
<circle cx="272.76" cy="150.71" r="3.3" fill="#4B79CE" fill-opacity="0.35" stroke="#2a2a3a" stroke-opacity="0.5" stroke-width="0.6"/>
<circle cx="271.73" cy="153.70" r="3.3" fill="#4B79CE" fill-opacity="0.35" stroke="#2a2a3a" stroke-opacity="0.5" stroke-width="0.6"/>
<circle cx="271.24" cy="157.96" r="3.3" fill="#4B79CE" fill-opacity="0.35" stroke="#2a2a3a" stroke-opacity="0.5" stroke-width="0.6"/>
<circle cx="287.02" cy="135.06" r="3.3" fill="#62D490" fill-opacity="0.35" stroke="#2a2a3a" stroke-opacity="0.5" stroke-width="0.6"/>
<circle cx="289.84" cy="138.27" r="3.3" fill="#62D490" fill-opacity="0.35" stroke="#2a2a3a" stroke-opacity="0.5" stroke-width="0.6"/>
<circle cx="305.37" cy="94.12" r="3.3" fill="#E2811D" fill-opacity="0.35" stroke="#2a2a3a" stroke-opacity="0.5" stroke-width="0.6"/>
<circle cx="307.18" cy="101.37" r="3.3" fill="#E2811D" fill-opacity="0.35" stroke="#2a2a3a" stroke-opacity="0.5" stroke-width="0.6"/>
<circle cx="308.07" cy="103.11" r="3.3" fill="#E2811D" fill-opacity="0.35" stroke="#2a2a3a" stroke-opacity="0.5" stroke-width="0.6"/>
<circle cx="306.51" cy="104.03" r="3.3" fill="#E2811D" fill-opacity="0.35" stroke="#2a2a3a" stroke-opacity="0.5" stroke-width="0.6"/>
<circle cx="307.88" cy="105.97" r="3.3" fill="#E2811D" fill-opacity="0.35" stroke="#2a2a3a" stroke-opacity="0.5" stroke-width="0.6"/>
<circle cx="308.66" cy="106.28" r="3.3" fill="#E2811D" fill-opacity="0.35" stroke="#2a2a3a" stroke-opacity="0.5" stroke-width="0.6"/>
<circle cx="305.15" cy="107.58" r="3.3" fill="#E2811D" fill-opacity="0.35" stroke="#2a2a3a" stroke-opacity="0.5" stroke-width="0.6"/>
<circle cx="305.29" cy="109.52" r="3.3" fill="#E2811D" fill-opacity="0.35" stroke="#2a2a3a" stroke-opacity="0.5" stroke-width="0.6"/>
<circle cx="316.85" cy="98.10" r="3.3" fill="#4B79CE" fill-opacity="0.35" stroke="#2a2a3a" stroke-opacity="0.5" stroke-width="0.6"/>
<circle cx="317.57" cy="102.52" r="3.3" fill="#4B79CE" fill-opacity="0.35" stroke="#2a2a3a" stroke-opacity="0.5" stroke-width="0.6"/>
<circle cx="313.33" cy="107.23" r="3.3" fill="#4B79CE" fill-opacity="0.35" stroke="#2a2a3a" stroke-opacity="0.5" stroke-width="0.6"/>
<circle cx="317.80" cy="109.93" r="3.3" fill="#4B79CE" fill-opacity="0.35" stroke="#2a2a3a" stroke-opacity="0.5" stroke-width="0.6"/>
<circle cx="317.61" cy="109.12" r="3.3" fill="#4B79CE" fill-opacity="0.35" stroke="#2a2a3a" stroke-opacity="0.5" stroke-width="0.6"/>
<circle cx="315.47" cy="111.36" r="3.3" fill="#4B79CE" fill-opacity="0.35" stroke="#2a2a3a" stroke-opacity="0.5" stroke-width="0.6"/>
<circle cx="314.30" cy="114.04" r="3.3" fill="#4B79CE" fill-opacity="0.35" stroke="#2a2a3a" stroke-opacity="0.5" stroke-width="0.6"/>
<circle cx="317.77" cy="114.40" r="3.3" fill="#4B79CE" fill-opacity="0.35" stroke="#2a2a3a" stroke-opacity="0.5" stroke-width="0.6"/>
<circle cx="315.42" cy="116.36" r="3.3" fill="#4B79CE" fill-opacity="0.35" stroke="#2a2a3a" stroke-opacity="0.5" stroke-width="0.6"/>
<circle cx="317.16" cy="118.46" r="3.3" fill="#4B79CE" fill-opacity="0.35" stroke="#2a2a3a" stroke-opacity="0.5" stroke-width="0.6"/>
<circle cx="313.66" cy="119.05" r="3.3" fill="#4B79CE" fill-opacity="0.35" stroke="#2a2a3a" stroke-opacity="0.5" stroke-width="0.6"/>
<circle cx="315.36" cy="120.58" r="3.3" fill="#4B79CE" fill-opacity="0.35" stroke="#2a2a3a" stroke-opacity="0.5" stroke-width="0.6"/>
<circle cx="313.34" cy="121.06" r="3.3" fill="#4B79CE" fill-opacity="0.35" stroke="#2a2a3a" stroke-opacity="0.5" stroke-width="0.6"/>
<circle cx="313.70" cy="123.32" r="3.3" fill="#4B79CE" fill-opacity="0.35" stroke="#2a2a3a" stroke-opacity="0.5" stroke-width="0.6"/>
<circle cx="316.42" cy="124.68" r="3.3" fill="#4B79CE" fill-opacity="0.35" stroke="#2a2a3a" stroke-opacity="0.5" stroke-width="0.6"/>
<circle cx="314.39" cy="126.34" r="3.3" fill="#4B79CE" fill-opacity="0.35" stroke="#2a2a3a" stroke-opacity="0.5" stroke-width="0.6"/>
<circle cx="315.18" cy="128.27" r="3.3" fill="#4B79CE" fill-opacity="0.35" stroke="#2a2a3a" stroke-opacity="0.5" stroke-width="0.6"/>
<circle cx="315.73" cy="130.37" r="3.3" fill="#4B79CE" fill-opacity="0.35" stroke="#2a2a3a" stroke-opacity="0.5" stroke-width="0.6"/>
<circle cx="317.84" cy="132.52" r="3.3" fill="#4B79CE" fill-opacity="0.35" stroke="#2a2a3a" stroke-opacity="0.5" stroke-width="0.6"/>
<circle cx="314.27" cy="133.52" r="3.3" fill="#4B79CE" fill-opacity="0.35" stroke="#2a2a3a" stroke-opacity="0.5" stroke-width="0.6"/>
<circle cx="317.54" cy="133.66" r="3.3" fill="#4B79CE" fill-opacity="0.35" stroke="#2a2a3a" stroke-opacity="0.5" stroke-width="0.6"/>
<circle cx="316.20" cy="137.40" r="3.3" fill="#4B79CE" fill-opacity="0.35" stroke="#2a2a3a" stroke-opacity="0.5" stroke-width="0.6"/>
<circle cx="314.44" cy="139.01" r="3.3" fill="#4B79CE" fill-opacity="0.35" stroke="#2a2a3a" stroke-opacity="0.5" stroke-width="0.6"/>
<circle cx="315.90" cy="142.43" r="3.3" fill="#4B79CE" fill-opacity="0.35" stroke="#2a2a3a" stroke-opacity="0.5" stroke-width="0.6"/>
<circle cx="316.25" cy="144.84" r="3.3" fill="#4B79CE" fill-opacity="0.35" stroke="#2a2a3a" stroke-opacity="0.5" stroke-width="0.6"/>
<circle cx="314.03" cy="149.27" r="3.3" fill="#4B79CE" fill-opacity="0.35" stroke="#2a2a3a" stroke-opacity="0.5" stroke-width="0.6"/>
<circle cx="317.98" cy="155.39" r="3.3" fill="#4B79CE" fill-opacity="0.35" stroke="#2a2a3a" stroke-opacity="0.5" stroke-width="0.6"/>
<circle cx="317.47" cy="164.33" r="3.3" fill="#4B79CE" fill-opacity="0.35" stroke="#2a2a3a" stroke-opacity="0.5" stroke-width="0.6"/>
<circle cx="329.19" cy="123.71" r="3.3" fill="#62D490" fill-opacity="0.35" stroke="#2a2a3a" stroke-opacity="0.5" stroke-width="0.6"/>
<circle cx="332.59" cy="127.44" r="3.3" fill="#62D490" fill-opacity="0.35" stroke="#2a2a3a" stroke-opacity="0.5" stroke-width="0.6"/>
<circle cx="348.01" cy="80.70" r="3.3" fill="#E2811D" fill-opacity="0.35" stroke="#2a2a3a" stroke-opacity="0.5" stroke-width="0.6"/>
<circle cx="350.53" cy="83.80" r="3.3" fill="#E2811D" fill-opacity="0.35" stroke="#2a2a3a" stroke-opacity="0.5" stroke-width="0.6"/>
<circle cx="348.48" cy="85.77" r="3.3" fill="#E2811D" fill-opacity="0.35" stroke="#2a2a3a" stroke-opacity="0.5" stroke-width="0.6"/>
<circle cx="348.70" cy="88.19" r="3.3" fill="#E2811D" fill-opacity="0.35" stroke="#2a2a3a" stroke-opacity="0.5" stroke-width="0.6"/>
<circle cx="349.25" cy="92.34" r="3.3" fill="#E2811D" fill-opacity="0.35" stroke="#2a2a3a" stroke-opacity="0.5" stroke-width="0.6"/>
<circle cx="352.36" cy="95.17" r="3.3" fill="#E2811D" fill-opacity="0.35" stroke="#2a2a3a" stroke-opacity="0.5" stroke-width="0.6"/>
<circle cx="350.15" cy="97.96" r="3.3" fill="#E2811D" fill-opacity="0.35" stroke="#2a2a3a" stroke-opacity="0.5" stroke-width="0.6"/>
<circle cx="352.01" cy="105.07" r="3.3" fill="#E2811D" fill-opacity="0.35" stroke="#2a2a3a" stroke-opacity="0.5" stroke-width="0.6"/>
<circle cx="357.26" cy="82.15" r="3.3" fill="#4B79CE" fill-opacity="0.35" stroke="#2a2a3a" stroke-opacity="0.5" stroke-width="0.6"/>
<circle cx="359.79" cy="83.01" r="3.3" fill="#4B79CE" fill-opacity="0.35" stroke="#2a2a3a" stroke-opacity="0.5" stroke-width="0.6"/>
<circle cx="355.83" cy="84.61" r="3.3" fill="#4B79CE" fill-opacity="0.35" stroke="#2a2a3a" stroke-opacity="0.5" stroke-width="0.6"/>
<circle cx="357.83" cy="86.68" r="3.3" fill="#4B79CE" fill-opacity="0.35" stroke="#2a2a3a" stroke-opacity="0.5" stroke-width="0.6"/>
<circle cx="356.90" cy="87.57" r="3.3" fill="#4B79CE" fill-opacity="0.35" stroke="#2a2a3a" stroke-opacity="0.5" stroke-width="0.6"/>
<circle cx="355.79" cy="88.37" r="3.3" fill="#4B79CE" fill-opacity="0.35" stroke="#2a2a3a" stroke-opacity="0.5" stroke-width="0.6"/>
<circle cx="358.72" cy="87.62" r="3.3" fill="#4B79CE" fill-opacity="0.35" stroke="#2a2a3a" stroke-opacity="0.5" stroke-width="0.6"/>
<circle cx="356.93" cy="88.34" r="3.3" fill="#4B79CE" fill-opacity="0.35" stroke="#2a2a3a" stroke-opacity="0.5" stroke-width="0.6"/>
<circle cx="358.88" cy="91.37" r="3.3" fill="#4B79CE" fill-opacity="0.35" stroke="#2a2a3a" stroke-opacity="0.5" stroke-width="0.6"/>
<circle cx="356.12" cy="91.79" r="3.3" fill="#4B79CE" fill-opacity="0.35" stroke="#2a2a3a" stroke-opacity="0.5" stroke-width="0.6"/>
<circle cx="359.04" cy="93.46" r="3.3" fill="#4B79CE" fill-opacity="0.35" stroke="#2a2a3a" stroke-opacity="0.5" stroke-width="0.6"/>
<circle cx="356.00" cy="94.97" r="3.3" fill="#4B79CE" fill-opacity="0.35" stroke="#2a2a3a" stroke-opacity="0.5" stroke-width="0.6"/>
<circle cx="358.26" cy="97.27" r="3.3" fill="#4B79CE" fill-opacity="0.35" stroke="#2a2a3a" stroke-opacity="0.5" stroke-width="0.6"/>
<circle cx="360.11" cy="99.26" r="3.3" fill="#4B79CE" fill-opacity="0.35" stroke="#2a2a3a" stroke-opacity="0.5" stroke-width="0.6"/>
<circle cx="357.60" cy="100.73" r="3.3" fill="#4B79CE" fill-opacity="0.35" stroke="#2a2a3a" stroke-opacity="0.5" stroke-width="0.6"/>
<circle cx="356.93" cy="101.93" r="3.3" fill="#4B79CE" fill-opacity="0.35" stroke="#2a2a3a" stroke-opacity="0.5" stroke-width="0.6"/>
<circle cx="357.41" cy="102.24" r="3.3" fill="#4B79CE" fill-opacity="0.35" stroke="#2a2a3a" stroke-opacity="0.5" stroke-width="0.6"/>
<circle cx="359.88" cy="105.19" r="3.3" fill="#4B79CE" fill-opacity="0.35" stroke="#2a2a3a" stroke-opacity="0.5" stroke-width="0.6"/>
<circle cx="357.22" cy="105.02" r="3.3" fill="#4B79CE" fill-opacity="0.35" stroke="#2a2a3a" stroke-opacity="0.5" stroke-width="0.6"/>
<circle cx="357.23" cy="106.77" r="3.3" fill="#4B79CE" fill-opacity="0.35" stroke="#2a2a3a" stroke-opacity="0.5" stroke-width="0.6"/>
<circle cx="357.35" cy="108.31" r="3.3" fill="#4B79CE" fill-opacity="0.35" stroke="#2a2a3a" stroke-opacity="0.5" stroke-width="0.6"/>
<circle cx="358.23" cy="109.08" r="3.3" fill="#4B79CE" fill-opacity="0.35" stroke="#2a2a3a" stroke-opacity="0.5" stroke-width="0.6"/>
<circle cx="358.11" cy="111.55" r="3.3" fill="#4B79CE" fill-opacity="0.35" stroke="#2a2a3a" stroke-opacity="0.5" stroke-width="0.6"/>
<circle cx="358.22" cy="112.67" r="3.3" fill="#4B79CE" fill-opacity="0.35" stroke="#2a2a3a" stroke-opacity="0.5" stroke-width="0.6"/>
<circle cx="359.20" cy="112.11" r="3.3" fill="#4B79CE" fill-opacity="0.35" stroke="#2a2a3a" stroke-opacity="0.5" stroke-width="0.6"/>
<circle cx="356.82" cy="115.38" r="3.3" fill="#4B79CE" fill-opacity="0.35" stroke="#2a2a3a" stroke-opacity="0.5" stroke-width="0.6"/>
<circle cx="357.99" cy="116.17" r="3.3" fill="#4B79CE" fill-opacity="0.35" stroke="#2a2a3a" stroke-opacity="0.5" stroke-width="0.6"/>
<circle cx="358.25" cy="120.28" r="3.3" fill="#4B79CE" fill-opacity="0.35" stroke="#2a2a3a" stroke-opacity="0.5" stroke-width="0.6"/>
<circle cx="357.50" cy="68.40" r="3.3" fill="#4B79CE" fill-opacity="0.35" stroke="#2a2a3a" stroke-opacity="0.5" stroke-width="0.6"/>
<circle cx="371.40" cy="90.55" r="3.3" fill="#62D490" fill-opacity="0.35" stroke="#2a2a3a" stroke-opacity="0.5" stroke-width="0.6"/>
<circle cx="374.83" cy="93.32" r="3.3" fill="#62D490" fill-opacity="0.35" stroke="#2a2a3a" stroke-opacity="0.5" stroke-width="0.6"/>
<circle cx="393.56" cy="57.66" r="3.3" fill="#E2811D" fill-opacity="0.35" stroke="#2a2a3a" stroke-opacity="0.5" stroke-width="0.6"/>
<circle cx="391.43" cy="59.69" r="3.3" fill="#E2811D" fill-opacity="0.35" stroke="#2a2a3a" stroke-opacity="0.5" stroke-width="0.6"/>
<circle cx="393.10" cy="63.65" r="3.3" fill="#E2811D" fill-opacity="0.35" stroke="#2a2a3a" stroke-opacity="0.5" stroke-width="0.6"/>
<circle cx="392.43" cy="66.16" r="3.3" fill="#E2811D" fill-opacity="0.35" stroke="#2a2a3a" stroke-opacity="0.5" stroke-width="0.6"/>
<circle cx="393.28" cy="70.48" r="3.3" fill="#E2811D" fill-opacity="0.35" stroke="#2a2a3a" stroke-opacity="0.5" stroke-width="0.6"/>
<circle cx="391.79" cy="74.85" r="3.3" fill="#E2811D" fill-opacity="0.35" stroke="#2a2a3a" stroke-opacity="0.5" stroke-width="0.6"/>
<circle cx="393.07" cy="78.36" r="3.3" fill="#E2811D" fill-opacity="0.35" stroke="#2a2a3a" stroke-opacity="0.5" stroke-width="0.6"/>
<circle cx="393.77" cy="83.89" r="3.3" fill="#E2811D" fill-opacity="0.35" stroke="#2a2a3a" stroke-opacity="0.5" stroke-width="0.6"/>
<circle cx="402.18" cy="64.16" r="3.3" fill="#4B79CE" fill-opacity="0.35" stroke="#2a2a3a" stroke-opacity="0.5" stroke-width="0.6"/>
<circle cx="400.94" cy="68.17" r="3.3" fill="#4B79CE" fill-opacity="0.35" stroke="#2a2a3a" stroke-opacity="0.5" stroke-width="0.6"/>
<circle cx="401.29" cy="70.84" r="3.3" fill="#4B79CE" fill-opacity="0.35" stroke="#2a2a3a" stroke-opacity="0.5" stroke-width="0.6"/>
<circle cx="399.85" cy="73.56" r="3.3" fill="#4B79CE" fill-opacity="0.35" stroke="#2a2a3a" stroke-opacity="0.5" stroke-width="0.6"/>
<circle cx="398.47" cy="73.98" r="3.3" fill="#4B79CE" fill-opacity="0.35" stroke="#2a2a3a" stroke-opacity="0.5" stroke-width="0.6"/>
<circle cx="402.70" cy="76.08" r="3.3" fill="#4B79CE" fill-opacity="0.35" stroke="#2a2a3a" stroke-opacity="0.5" stroke-width="0.6"/>
<circle cx="398.58" cy="76.53" r="3.3" fill="#4B79CE" fill-opacity="0.35" stroke="#2a2a3a" stroke-opacity="0.5" stroke-width="0.6"/>
<circle cx="399.86" cy="77.40" r="3.3" fill="#4B79CE" fill-opacity="0.35" stroke="#2a2a3a" stroke-opacity="0.5" stroke-width="0.6"/>
<circle cx="402.59" cy="78.82" r="3.3" fill="#4B79CE" fill-opacity="0.35" stroke="#2a2a3a" stroke-opacity="0.5" stroke-width="0.6"/>
<circle cx="399.28" cy="79.48" r="3.3" fill="#4B79CE" fill-opacity="0.35" stroke="#2a2a3a" stroke-opacity="0.5" stroke-width="0.6"/>
<circle cx="400.98" cy="80.83" r="3.3" fill="#4B79CE" fill-opacity="0.35" stroke="#2a2a3a" stroke-opacity="0.5" stroke-width="0.6"/>
<circle cx="398.64" cy="83.63" r="3.3" fill="#4B79CE" fill-opacity="0.35" stroke="#2a2a3a" stroke-opacity="0.5" stroke-width="0.6"/>
<circle cx="400.03" cy="83.13" r="3.3" fill="#4B79CE" fill-opacity="0.35" stroke="#2a2a3a" stroke-opacity="0.5" stroke-width="0.6"/>
<circle cx="402.29" cy="85.59" r="3.3" fill="#4B79CE" fill-opacity="0.35" stroke="#2a2a3a" stroke-opacity="0.5" stroke-width="0.6"/>
<circle cx="398.28" cy="85.60" r="3.3" fill="#4B79CE" fill-opacity="0.35" stroke="#2a2a3a" stroke-opacity="0.5" stroke-width="0.6"/>
<circle cx="398.83" cy="87.39" r="3.3" fill="#4B79CE" fill-opacity="0.35" stroke="#2a2a3a" stroke-opacity="0.5" stroke-width="0.6"/>
<circle cx="401.33" cy="88.94" r="3.3" fill="#4B79CE" fill-opacity="0.35" stroke="#2a2a3a" stroke-opacity="0.5" stroke-width="0.6"/>
<circle cx="398.86" cy="91.23" r="3.3" fill="#4B79CE" fill-opacity="0.35" stroke="#2a2a3a" stroke-opacity="0.5" stroke-width="0.6"/>
<circle cx="399.15" cy="91.67" r="3.3" fill="#4B79CE" fill-opacity="0.35" stroke="#2a2a3a" stroke-opacity="0.5" stroke-width="0.6"/>
<circle cx="401.53" cy="93.07" r="3.3" fill="#4B79CE" fill-opacity="0.35" stroke="#2a2a3a" stroke-opacity="0.5" stroke-width="0.6"/>
<circle cx="400.48" cy="94.83" r="3.3" fill="#4B79CE" fill-opacity="0.35" stroke="#2a2a3a" stroke-opacity="0.5" stroke-width="0.6"/>
<circle cx="400.14" cy="97.64" r="3.3" fill="#4B79CE" fill-opacity="0.35" stroke="#2a2a3a" stroke-opacity="0.5" stroke-width="0.6"/>
<circle cx="402.18" cy="98.05" r="3.3" fill="#4B79CE" fill-opacity="0.35" stroke="#2a2a3a" stroke-opacity="0.5" stroke-width="0.6"/>
<circle cx="399.45" cy="101.37" r="3.3" fill="#4B79CE" fill-opacity="0.35" stroke="#2a2a3a" stroke-opacity="0.5" stroke-width="0.6"/>
<circle cx="402.53" cy="102.24" r="3.3" fill="#4B79CE" fill-opacity="0.35" stroke="#2a2a3a" stroke-opacity="0.5" stroke-width="0.6"/>
<circle cx="398.85" cy="104.77" r="3.3" fill="#4B79CE" fill-opacity="0.35" stroke="#2a2a3a" stroke-opacity="0.5" stroke-width="0.6"/>
<circle cx="402.48" cy="108.61" r="3.3" fill="#4B79CE" fill-opacity="0.35" stroke="#2a2a3a" stroke-opacity="0.5" stroke-width="0.6"/>
<circle cx="399.66" cy="115.29" r="3.3" fill="#4B79CE" fill-opacity="0.35" stroke="#2a2a3a" stroke-opacity="0.5" stroke-width="0.6"/>
<circle cx="413.75" cy="75.22" r="3.3" fill="#62D490" fill-opacity="0.35" stroke="#2a2a3a" stroke-opacity="0.5" stroke-width="0.6"/>
<circle cx="416.86" cy="78.97" r="3.3" fill="#62D490" fill-opacity="0.35" stroke="#2a2a3a" stroke-opacity="0.5" stroke-width="0.6"/>
<circle cx="437.04" cy="44.73" r="3.3" fill="#E2811D" fill-opacity="0.35" stroke="#2a2a3a" stroke-opacity="0.5" stroke-width="0.6"/>
<circle cx="434.74" cy="48.14" r="3.3" fill="#E2811D" fill-opacity="0.35" stroke="#2a2a3a" stroke-opacity="0.5" stroke-width="0.6"/>
<circle cx="435.92" cy="51.51" r="3.3" fill="#E2811D" fill-opacity="0.35" stroke="#2a2a3a" stroke-opacity="0.5" stroke-width="0.6"/>
<circle cx="436.18" cy="55.65" r="3.3" fill="#E2811D" fill-opacity="0.35" stroke="#2a2a3a" stroke-opacity="0.5" stroke-width="0.6"/>
<circle cx="436.18" cy="62.31" r="3.3" fill="#E2811D" fill-opacity="0.35" stroke="#2a2a3a" stroke-opacity="0.5" stroke-width="0.6"/>
<circle cx="433.42" cy="65.22" r="3.3" fill="#E2811D" fill-opacity="0.35" stroke="#2a2a3a" stroke-opacity="0.5" stroke-width="0.6"/>
<circle cx="432.56" cy="71.07" r="3.3" fill="#E2811D" fill-opacity="0.35" stroke="#2a2a3a" stroke-opacity="0.5" stroke-width="0.6"/>
<circle cx="434.41" cy="76.51" r="3.3" fill="#E2811D" fill-opacity="0.35" stroke="#2a2a3a" stroke-opacity="0.5" stroke-width="0.6"/>
<circle cx="443.00" cy="49.07" r="3.3" fill="#4B79CE" fill-opacity="0.35" stroke="#2a2a3a" stroke-opacity="0.5" stroke-width="0.6"/>
<circle cx="441.59" cy="52.78" r="3.3" fill="#4B79CE" fill-opacity="0.35" stroke="#2a2a3a" stroke-opacity="0.5" stroke-width="0.6"/>
<circle cx="442.15" cy="56.56" r="3.3" fill="#4B79CE" fill-opacity="0.35" stroke="#2a2a3a" stroke-opacity="0.5" stroke-width="0.6"/>
<circle cx="440.52" cy="59.04" r="3.3" fill="#4B79CE" fill-opacity="0.35" stroke="#2a2a3a" stroke-opacity="0.5" stroke-width="0.6"/>
<circle cx="441.11" cy="60.24" r="3.3" fill="#4B79CE" fill-opacity="0.35" stroke="#2a2a3a" stroke-opacity="0.5" stroke-width="0.6"/>
<circle cx="442.70" cy="60.98" r="3.3" fill="#4B79CE" fill-opacity="0.35" stroke="#2a2a3a" stroke-opacity="0.5" stroke-width="0.6"/>
<circle cx="444.23" cy="61.47" r="3.3" fill="#4B79CE" fill-opacity="0.35" stroke="#2a2a3a" stroke-opacity="0.5" stroke-width="0.6"/>
<circle cx="441.62" cy="63.26" r="3.3" fill="#4B79CE" fill-opacity="0.35" stroke="#2a2a3a" stroke-opacity="0.5" stroke-width="0.6"/>
<circle cx="441.60" cy="64.13" r="3.3" fill="#4B79CE" fill-opacity="0.35" stroke="#2a2a3a" stroke-opacity="0.5" stroke-width="0.6"/>
<circle cx="443.65" cy="66.49" r="3.3" fill="#4B79CE" fill-opacity="0.35" stroke="#2a2a3a" stroke-opacity="0.5" stroke-width="0.6"/>
<circle cx="443.51" cy="67.66" r="3.3" fill="#4B79CE" fill-opacity="0.35" stroke="#2a2a3a" stroke-opacity="0.5" stroke-width="0.6"/>
<circle cx="442.04" cy="68.48" r="3.3" fill="#4B79CE" fill-opacity="0.35" stroke="#2a2a3a" stroke-opacity="0.5" stroke-width="0.6"/>
<circle cx="444.90" cy="70.77" r="3.3" fill="#4B79CE" fill-opacity="0.35" stroke="#2a2a3a" stroke-opacity="0.5" stroke-width="0.6"/>
<circle cx="443.34" cy="73.08" r="3.3" fill="#4B79CE" fill-opacity="0.35" stroke="#2a2a3a" stroke-opacity="0.5" stroke-width="0.6"/>
<circle cx="441.96" cy="72.92" r="3.3" fill="#4B79CE" fill-opacity="0.35" stroke="#2a2a3a" stroke-opacity="0.5" stroke-width="0.6"/>
<circle cx="441.26" cy="76.76" r="3.3" fill="#4B79CE" fill-opacity="0.35" stroke="#2a2a3a" stroke-opacity="0.5" stroke-width="0.6"/>
<circle cx="442.36" cy="78.58" r="3.3" fill="#4B79CE" fill-opacity="0.35" stroke="#2a2a3a" stroke-opacity="0.5" stroke-width="0.6"/>
<circle cx="445.03" cy="79.43" r="3.3" fill="#4B79CE" fill-opacity="0.35" stroke="#2a2a3a" stroke-opacity="0.5" stroke-width="0.6"/>
<circle cx="441.10" cy="83.49" r="3.3" fill="#4B79CE" fill-opacity="0.35" stroke="#2a2a3a" stroke-opacity="0.5" stroke-width="0.6"/>
<circle cx="441.52" cy="85.22" r="3.3" fill="#4B79CE" fill-opacity="0.35" stroke="#2a2a3a" stroke-opacity="0.5" stroke-width="0.6"/>
<circle cx="442.77" cy="86.82" r="3.3" fill="#4B79CE" fill-opacity="0.35" stroke="#2a2a3a" stroke-opacity="0.5" stroke-width="0.6"/>
<circle cx="441.76" cy="89.37" r="3.3" fill="#4B79CE" fill-opacity="0.35" stroke="#2a2a3a" stroke-opacity="0.5" stroke-width="0.6"/>
<circle cx="443.40" cy="92.92" r="3.3" fill="#4B79CE" fill-opacity="0.35" stroke="#2a2a3a" stroke-opacity="0.5" stroke-width="0.6"/>
<circle cx="441.07" cy="95.91" r="3.3" fill="#4B79CE" fill-opacity="0.35" stroke="#2a2a3a" stroke-opacity="0.5" stroke-width="0.6"/>
<circle cx="441.72" cy="100.36" r="3.3" fill="#4B79CE" fill-opacity="0.35" stroke="#2a2a3a" stroke-opacity="0.5" stroke-width="0.6"/>
<circle cx="442.88" cy="105.97" r="3.3" fill="#4B79CE" fill-opacity="0.35" stroke="#2a2a3a" stroke-opacity="0.5" stroke-width="0.6"/>
<circle cx="441.73" cy="114.68" r="3.3" fill="#4B79CE" fill-opacity="0.35" stroke="#2a2a3a" stroke-opacity="0.5" stroke-width="0.6"/>
<circle cx="440.53" cy="124.16" r="3.3" fill="#4B79CE" fill-opacity="0.35" stroke="#2a2a3a" stroke-opacity="0.5" stroke-width="0.6"/>
<circle cx="456.28" cy="63.32" r="3.3" fill="#62D490" fill-opacity="0.35" stroke="#2a2a3a" stroke-opacity="0.5" stroke-width="0.6"/>
<circle cx="459.35" cy="66.11" r="3.3" fill="#62D490" fill-opacity="0.35" stroke="#2a2a3a" stroke-opacity="0.5" stroke-width="0.6"/>
<circle cx="478.51" cy="41.37" r="3.3" fill="#E2811D" fill-opacity="0.35" stroke="#2a2a3a" stroke-opacity="0.5" stroke-width="0.6"/>
<circle cx="476.06" cy="42.92" r="3.3" fill="#E2811D" fill-opacity="0.35" stroke="#2a2a3a" stroke-opacity="0.5" stroke-width="0.6"/>
<circle cx="474.48" cy="47.71" r="3.3" fill="#E2811D" fill-opacity="0.35" stroke="#2a2a3a" stroke-opacity="0.5" stroke-width="0.6"/>
<circle cx="477.90" cy="55.54" r="3.3" fill="#E2811D" fill-opacity="0.35" stroke="#2a2a3a" stroke-opacity="0.5" stroke-width="0.6"/>
<circle cx="478.35" cy="62.38" r="3.3" fill="#E2811D" fill-opacity="0.35" stroke="#2a2a3a" stroke-opacity="0.5" stroke-width="0.6"/>
<circle cx="477.44" cy="64.66" r="3.3" fill="#E2811D" fill-opacity="0.35" stroke="#2a2a3a" stroke-opacity="0.5" stroke-width="0.6"/>
<circle cx="476.06" cy="65.99" r="3.3" fill="#E2811D" fill-opacity="0.35" stroke="#2a2a3a" stroke-opacity="0.5" stroke-width="0.6"/>
<circle cx="477.65" cy="70.88" r="3.3" fill="#E2811D" fill-opacity="0.35" stroke="#2a2a3a" stroke-opacity="0.5" stroke-width="0.6"/>
<circle cx="484.29" cy="42.42" r="3.3" fill="#4B79CE" fill-opacity="0.35" stroke="#2a2a3a" stroke-opacity="0.5" stroke-width="0.6"/>
<circle cx="486.34" cy="48.13" r="3.3" fill="#4B79CE" fill-opacity="0.35" stroke="#2a2a3a" stroke-opacity="0.5" stroke-width="0.6"/>
<circle cx="485.46" cy="53.62" r="3.3" fill="#4B79CE" fill-opacity="0.35" stroke="#2a2a3a" stroke-opacity="0.5" stroke-width="0.6"/>
<circle cx="486.23" cy="54.63" r="3.3" fill="#4B79CE" fill-opacity="0.35" stroke="#2a2a3a" stroke-opacity="0.5" stroke-width="0.6"/>
<circle cx="485.14" cy="58.12" r="3.3" fill="#4B79CE" fill-opacity="0.35" stroke="#2a2a3a" stroke-opacity="0.5" stroke-width="0.6"/>
<circle cx="484.90" cy="58.50" r="3.3" fill="#4B79CE" fill-opacity="0.35" stroke="#2a2a3a" stroke-opacity="0.5" stroke-width="0.6"/>
<circle cx="485.97" cy="59.69" r="3.3" fill="#4B79CE" fill-opacity="0.35" stroke="#2a2a3a" stroke-opacity="0.5" stroke-width="0.6"/>
<circle cx="484.98" cy="63.18" r="3.3" fill="#4B79CE" fill-opacity="0.35" stroke="#2a2a3a" stroke-opacity="0.5" stroke-width="0.6"/>
<circle cx="486.58" cy="63.76" r="3.3" fill="#4B79CE" fill-opacity="0.35" stroke="#2a2a3a" stroke-opacity="0.5" stroke-width="0.6"/>
<circle cx="487.12" cy="63.74" r="3.3" fill="#4B79CE" fill-opacity="0.35" stroke="#2a2a3a" stroke-opacity="0.5" stroke-width="0.6"/>
<circle cx="483.39" cy="66.01" r="3.3" fill="#4B79CE" fill-opacity="0.35" stroke="#2a2a3a" stroke-opacity="0.5" stroke-width="0.6"/>
<circle cx="483.62" cy="65.93" r="3.3" fill="#4B79CE" fill-opacity="0.35" stroke="#2a2a3a" stroke-opacity="0.5" stroke-width="0.6"/>
<circle cx="485.89" cy="68.34" r="3.3" fill="#4B79CE" fill-opacity="0.35" stroke="#2a2a3a" stroke-opacity="0.5" stroke-width="0.6"/>
<circle cx="487.05" cy="68.98" r="3.3" fill="#4B79CE" fill-opacity="0.35" stroke="#2a2a3a" stroke-opacity="0.5" stroke-width="0.6"/>
<circle cx="484.72" cy="70.45" r="3.3" fill="#4B79CE" fill-opacity="0.35" stroke="#2a2a3a" stroke-opacity="0.5" stroke-width="0.6"/>
<circle cx="487.27" cy="71.45" r="3.3" fill="#4B79CE" fill-opacity="0.35" stroke="#2a2a3a" stroke-opacity="0.5" stroke-width="0.6"/>
<circle cx="486.92" cy="73.05" r="3.3" fill="#4B79CE" fill-opacity="0.35" stroke="#2a2a3a" stroke-opacity="0.5" stroke-width="0.6"/>
<circle cx="485.20" cy="75.60" r="3.3" fill="#4B79CE" fill-opacity="0.35" stroke="#2a2a3a" stroke-opacity="0.5" stroke-width="0.6"/>
<circle cx="483.72" cy="77.22" r="3.3" fill="#4B79CE" fill-opacity="0.35" stroke="#2a2a3a" stroke-opacity="0.5" stroke-width="0.6"/>
<circle cx="487.36" cy="79.63" r="3.3" fill="#4B79CE" fill-opacity="0.35" stroke="#2a2a3a" stroke-opacity="0.5" stroke-width="0.6"/>
<circle cx="485.41" cy="80.98" r="3.3" fill="#4B79CE" fill-opacity="0.35" stroke="#2a2a3a" stroke-opacity="0.5" stroke-width="0.6"/>
<circle cx="486.52" cy="81.18" r="3.3" fill="#4B79CE" fill-opacity="0.35" stroke="#2a2a3a" stroke-opacity="0.5" stroke-width="0.6"/>
<circle cx="486.89" cy="83.74" r="3.3" fill="#4B79CE" fill-opacity="0.35" stroke="#2a2a3a" stroke-opacity="0.5" stroke-width="0.6"/>
<circle cx="485.27" cy="85.79" r="3.3" fill="#4B79CE" fill-opacity="0.35" stroke="#2a2a3a" stroke-opacity="0.5" stroke-width="0.6"/>
<circle cx="483.33" cy="89.38" r="3.3" fill="#4B79CE" fill-opacity="0.35" stroke="#2a2a3a" stroke-opacity="0.5" stroke-width="0.6"/>
<circle cx="482.78" cy="92.03" r="3.3" fill="#4B79CE" fill-opacity="0.35" stroke="#2a2a3a" stroke-opacity="0.5" stroke-width="0.6"/>
<circle cx="483.30" cy="96.82" r="3.3" fill="#4B79CE" fill-opacity="0.35" stroke="#2a2a3a" stroke-opacity="0.5" stroke-width="0.6"/>
<circle cx="487.10" cy="105.15" r="3.3" fill="#4B79CE" fill-opacity="0.35" stroke="#2a2a3a" stroke-opacity="0.5" stroke-width="0.6"/>
<circle cx="498.42" cy="60.92" r="3.3" fill="#62D490" fill-opacity="0.35" stroke="#2a2a3a" stroke-opacity="0.5" stroke-width="0.6"/>
<circle cx="501.30" cy="64.17" r="3.3" fill="#62D490" fill-opacity="0.35" stroke="#2a2a3a" stroke-opacity="0.5" stroke-width="0.6"/>
<circle cx="516.92" cy="50.07" r="3.3" fill="#E2811D" fill-opacity="0.35" stroke="#2a2a3a" stroke-opacity="0.5" stroke-width="0.6"/>
<circle cx="517.45" cy="52.61" r="3.3" fill="#E2811D" fill-opacity="0.35" stroke="#2a2a3a" stroke-opacity="0.5" stroke-width="0.6"/>
<circle cx="519.73" cy="54.85" r="3.3" fill="#E2811D" fill-opacity="0.35" stroke="#2a2a3a" stroke-opacity="0.5" stroke-width="0.6"/>
<circle cx="518.79" cy="55.18" r="3.3" fill="#E2811D" fill-opacity="0.35" stroke="#2a2a3a" stroke-opacity="0.5" stroke-width="0.6"/>
<circle cx="520.18" cy="57.25" r="3.3" fill="#E2811D" fill-opacity="0.35" stroke="#2a2a3a" stroke-opacity="0.5" stroke-width="0.6"/>
<circle cx="520.49" cy="59.47" r="3.3" fill="#E2811D" fill-opacity="0.35" stroke="#2a2a3a" stroke-opacity="0.5" stroke-width="0.6"/>
<circle cx="521.70" cy="60.67" r="3.3" fill="#E2811D" fill-opacity="0.35" stroke="#2a2a3a" stroke-opacity="0.5" stroke-width="0.6"/>
<circle cx="521.01" cy="64.29" r="3.3" fill="#E2811D" fill-opacity="0.35" stroke="#2a2a3a" stroke-opacity="0.5" stroke-width="0.6"/>
<circle cx="526.90" cy="39.06" r="3.3" fill="#4B79CE" fill-opacity="0.35" stroke="#2a2a3a" stroke-opacity="0.5" stroke-width="0.6"/>
<circle cx="529.26" cy="41.99" r="3.3" fill="#4B79CE" fill-opacity="0.35" stroke="#2a2a3a" stroke-opacity="0.5" stroke-width="0.6"/>
<circle cx="527.36" cy="44.45" r="3.3" fill="#4B79CE" fill-opacity="0.35" stroke="#2a2a3a" stroke-opacity="0.5" stroke-width="0.6"/>
<circle cx="529.25" cy="45.63" r="3.3" fill="#4B79CE" fill-opacity="0.35" stroke="#2a2a3a" stroke-opacity="0.5" stroke-width="0.6"/>
<circle cx="525.00" cy="46.28" r="3.3" fill="#4B79CE" fill-opacity="0.35" stroke="#2a2a3a" stroke-opacity="0.5" stroke-width="0.6"/>
<circle cx="529.23" cy="48.17" r="3.3" fill="#4B79CE" fill-opacity="0.35" stroke="#2a2a3a" stroke-opacity="0.5" stroke-width="0.6"/>
<circle cx="527.72" cy="49.10" r="3.3" fill="#4B79CE" fill-opacity="0.35" stroke="#2a2a3a" stroke-opacity="0.5" stroke-width="0.6"/>
<circle cx="526.25" cy="50.18" r="3.3" fill="#4B79CE" fill-opacity="0.35" stroke="#2a2a3a" stroke-opacity="0.5" stroke-width="0.6"/>
<circle cx="525.08" cy="50.94" r="3.3" fill="#4B79CE" fill-opacity="0.35" stroke="#2a2a3a" stroke-opacity="0.5" stroke-width="0.6"/>
<circle cx="526.96" cy="50.96" r="3.3" fill="#4B79CE" fill-opacity="0.35" stroke="#2a2a3a" stroke-opacity="0.5" stroke-width="0.6"/>
<circle cx="526.71" cy="53.01" r="3.3" fill="#4B79CE" fill-opacity="0.35" stroke="#2a2a3a" stroke-opacity="0.5" stroke-width="0.6"/>
<circle cx="528.20" cy="53.07" r="3.3" fill="#4B79CE" fill-opacity="0.35" stroke="#2a2a3a" stroke-opacity="0.5" stroke-width="0.6"/>
<circle cx="525.93" cy="55.35" r="3.3" fill="#4B79CE" fill-opacity="0.35" stroke="#2a2a3a" stroke-opacity="0.5" stroke-width="0.6"/>
<circle cx="526.71" cy="55.96" r="3.3" fill="#4B79CE" fill-opacity="0.35" stroke="#2a2a3a" stroke-opacity="0.5" stroke-width="0.6"/>
<circle cx="525.07" cy="56.92" r="3.3" fill="#4B79CE" fill-opacity="0.35" stroke="#2a2a3a" stroke-opacity="0.5" stroke-width="0.6"/>
<circle cx="529.56" cy="59.66" r="3.3" fill="#4B79CE" fill-opacity="0.35" stroke="#2a2a3a" stroke-opacity="0.5" stroke-width="0.6"/>
<circle cx="529.06" cy="60.18" r="3.3" fill="#4B79CE" fill-opacity="0.35" stroke="#2a2a3a" stroke-opacity="0.5" stroke-width="0.6"/>
<circle cx="528.76" cy="60.71" r="3.3" fill="#4B79CE" fill-opacity="0.35" stroke="#2a2a3a" stroke-opacity="0.5" stroke-width="0.6"/>
<circle cx="528.46" cy="61.35" r="3.3" fill="#4B79CE" fill-opacity="0.35" stroke="#2a2a3a" stroke-opacity="0.5" stroke-width="0.6"/>
<circle cx="529.25" cy="63.29" r="3.3" fill="#4B79CE" fill-opacity="0.35" stroke="#2a2a3a" stroke-opacity="0.5" stroke-width="0.6"/>
<circle cx="528.69" cy="63.28" r="3.3" fill="#4B79CE" fill-opacity="0.35" stroke="#2a2a3a" stroke-opacity="0.5" stroke-width="0.6"/>
<circle cx="527.42" cy="64.41" r="3.3" fill="#4B79CE" fill-opacity="0.35" stroke="#2a2a3a" stroke-opacity="0.5" stroke-width="0.6"/>
<circle cx="524.73" cy="67.41" r="3.3" fill="#4B79CE" fill-opacity="0.35" stroke="#2a2a3a" stroke-opacity="0.5" stroke-width="0.6"/>
<circle cx="526.23" cy="66.73" r="3.3" fill="#4B79CE" fill-opacity="0.35" stroke="#2a2a3a" stroke-opacity="0.5" stroke-width="0.6"/>
<circle cx="525.04" cy="67.94" r="3.3" fill="#4B79CE" fill-opacity="0.35" stroke="#2a2a3a" stroke-opacity="0.5" stroke-width="0.6"/>
<circle cx="528.81" cy="70.87" r="3.3" fill="#4B79CE" fill-opacity="0.35" stroke="#2a2a3a" stroke-opacity="0.5" stroke-width="0.6"/>
<circle cx="526.51" cy="72.51" r="3.3" fill="#4B79CE" fill-opacity="0.35" stroke="#2a2a3a" stroke-opacity="0.5" stroke-width="0.6"/>
<circle cx="524.96" cy="75.79" r="3.3" fill="#4B79CE" fill-opacity="0.35" stroke="#2a2a3a" stroke-opacity="0.5" stroke-width="0.6"/>
<circle cx="529.50" cy="86.60" r="3.3" fill="#4B79CE" fill-opacity="0.35" stroke="#2a2a3a" stroke-opacity="0.5" stroke-width="0.6"/>
<circle cx="540.64" cy="54.87" r="3.3" fill="#62D490" fill-opacity="0.35" stroke="#2a2a3a" stroke-opacity="0.5" stroke-width="0.6"/>
<circle cx="544.42" cy="58.48" r="3.3" fill="#62D490" fill-opacity="0.35" stroke="#2a2a3a" stroke-opacity="0.5" stroke-width="0.6"/>
<circle cx="562.22" cy="35.90" r="3.3" fill="#E2811D" fill-opacity="0.35" stroke="#2a2a3a" stroke-opacity="0.5" stroke-width="0.6"/>
<circle cx="563.46" cy="39.86" r="3.3" fill="#E2811D" fill-opacity="0.35" stroke="#2a2a3a" stroke-opacity="0.5" stroke-width="0.6"/>
<circle cx="559.59" cy="41.47" r="3.3" fill="#E2811D" fill-opacity="0.35" stroke="#2a2a3a" stroke-opacity="0.5" stroke-width="0.6"/>
<circle cx="560.62" cy="44.39" r="3.3" fill="#E2811D" fill-opacity="0.35" stroke="#2a2a3a" stroke-opacity="0.5" stroke-width="0.6"/>
<circle cx="563.41" cy="46.09" r="3.3" fill="#E2811D" fill-opacity="0.35" stroke="#2a2a3a" stroke-opacity="0.5" stroke-width="0.6"/>
<circle cx="559.73" cy="46.89" r="3.3" fill="#E2811D" fill-opacity="0.35" stroke="#2a2a3a" stroke-opacity="0.5" stroke-width="0.6"/>
<circle cx="563.75" cy="48.20" r="3.3" fill="#E2811D" fill-opacity="0.35" stroke="#2a2a3a" stroke-opacity="0.5" stroke-width="0.6"/>
<circle cx="559.45" cy="49.84" r="3.3" fill="#E2811D" fill-opacity="0.35" stroke="#2a2a3a" stroke-opacity="0.5" stroke-width="0.6"/>
<circle cx="568.60" cy="32.55" r="3.3" fill="#4B79CE" fill-opacity="0.35" stroke="#2a2a3a" stroke-opacity="0.5" stroke-width="0.6"/>
<circle cx="568.04" cy="36.16" r="3.3" fill="#4B79CE" fill-opacity="0.35" stroke="#2a2a3a" stroke-opacity="0.5" stroke-width="0.6"/>
<circle cx="568.24" cy="37.33" r="3.3" fill="#4B79CE" fill-opacity="0.35" stroke="#2a2a3a" stroke-opacity="0.5" stroke-width="0.6"/>
<circle cx="571.01" cy="39.83" r="3.3" fill="#4B79CE" fill-opacity="0.35" stroke="#2a2a3a" stroke-opacity="0.5" stroke-width="0.6"/>
<circle cx="570.37" cy="40.01" r="3.3" fill="#4B79CE" fill-opacity="0.35" stroke="#2a2a3a" stroke-opacity="0.5" stroke-width="0.6"/>
<circle cx="570.01" cy="42.11" r="3.3" fill="#4B79CE" fill-opacity="0.35" stroke="#2a2a3a" stroke-opacity="0.5" stroke-width="0.6"/>
<circle cx="568.56" cy="41.41" r="3.3" fill="#4B79CE" fill-opacity="0.35" stroke="#2a2a3a" stroke-opacity="0.5" stroke-width="0.6"/>
<circle cx="570.40" cy="44.06" r="3.3" fill="#4B79CE" fill-opacity="0.35" stroke="#2a2a3a" stroke-opacity="0.5" stroke-width="0.6"/>
<circle cx="570.26" cy="43.57" r="3.3" fill="#4B79CE" fill-opacity="0.35" stroke="#2a2a3a" stroke-opacity="0.5" stroke-width="0.6"/>
<circle cx="571.98" cy="44.19" r="3.3" fill="#4B79CE" fill-opacity="0.35" stroke="#2a2a3a" stroke-opacity="0.5" stroke-width="0.6"/>
<circle cx="569.70" cy="46.11" r="3.3" fill="#4B79CE" fill-opacity="0.35" stroke="#2a2a3a" stroke-opacity="0.5" stroke-width="0.6"/>
<circle cx="567.29" cy="47.40" r="3.3" fill="#4B79CE" fill-opacity="0.35" stroke="#2a2a3a" stroke-opacity="0.5" stroke-width="0.6"/>
<circle cx="568.48" cy="48.63" r="3.3" fill="#4B79CE" fill-opacity="0.35" stroke="#2a2a3a" stroke-opacity="0.5" stroke-width="0.6"/>
<circle cx="571.08" cy="48.87" r="3.3" fill="#4B79CE" fill-opacity="0.35" stroke="#2a2a3a" stroke-opacity="0.5" stroke-width="0.6"/>
<circle cx="568.49" cy="49.59" r="3.3" fill="#4B79CE" fill-opacity="0.35" stroke="#2a2a3a" stroke-opacity="0.5" stroke-width="0.6"/>
<circle cx="568.29" cy="52.37" r="3.3" fill="#4B79CE" fill-opacity="0.35" stroke="#2a2a3a" stroke-opacity="0.5" stroke-width="0.6"/>
<circle cx="569.80" cy="52.40" r="3.3" fill="#4B79CE" fill-opacity="0.35" stroke="#2a2a3a" stroke-opacity="0.5" stroke-width="0.6"/>
<circle cx="571.55" cy="53.35" r="3.3" fill="#4B79CE" fill-opacity="0.35" stroke="#2a2a3a" stroke-opacity="0.5" stroke-width="0.6"/>
<circle cx="567.23" cy="56.44" r="3.3" fill="#4B79CE" fill-opacity="0.35" stroke="#2a2a3a" stroke-opacity="0.5" stroke-width="0.6"/>
<circle cx="570.81" cy="56.35" r="3.3" fill="#4B79CE" fill-opacity="0.35" stroke="#2a2a3a" stroke-opacity="0.5" stroke-width="0.6"/>
<circle cx="571.71" cy="57.34" r="3.3" fill="#4B79CE" fill-opacity="0.35" stroke="#2a2a3a" stroke-opacity="0.5" stroke-width="0.6"/>
<circle cx="567.96" cy="59.19" r="3.3" fill="#4B79CE" fill-opacity="0.35" stroke="#2a2a3a" stroke-opacity="0.5" stroke-width="0.6"/>
<circle cx="570.28" cy="61.31" r="3.3" fill="#4B79CE" fill-opacity="0.35" stroke="#2a2a3a" stroke-opacity="0.5" stroke-width="0.6"/>
<circle cx="570.35" cy="62.82" r="3.3" fill="#4B79CE" fill-opacity="0.35" stroke="#2a2a3a" stroke-opacity="0.5" stroke-width="0.6"/>
<circle cx="569.64" cy="65.82" r="3.3" fill="#4B79CE" fill-opacity="0.35" stroke="#2a2a3a" stroke-opacity="0.5" stroke-width="0.6"/>
<circle cx="571.29" cy="68.20" r="3.3" fill="#4B79CE" fill-opacity="0.35" stroke="#2a2a3a" stroke-opacity="0.5" stroke-width="0.6"/>
<circle cx="569.66" cy="74.15" r="3.3" fill="#4B79CE" fill-opacity="0.35" stroke="#2a2a3a" stroke-opacity="0.5" stroke-width="0.6"/>
<circle cx="567.93" cy="80.32" r="3.3" fill="#4B79CE" fill-opacity="0.35" stroke="#2a2a3a" stroke-opacity="0.5" stroke-width="0.6"/>
<circle cx="573.50" cy="90.00" r="3.3" fill="#4B79CE" fill-opacity="0.35" stroke="#2a2a3a" stroke-opacity="0.5" stroke-width="0.6"/>
<circle cx="583.62" cy="48.50" r="3.3" fill="#62D490" fill-opacity="0.35" stroke="#2a2a3a" stroke-opacity="0.5" stroke-width="0.6"/>
<circle cx="586.61" cy="51.67" r="3.3" fill="#62D490" fill-opacity="0.35" stroke="#2a2a3a" stroke-opacity="0.5" stroke-width="0.6"/>
<circle cx="602.15" cy="26.40" r="3.3" fill="#E2811D" fill-opacity="0.35" stroke="#2a2a3a" stroke-opacity="0.5" stroke-width="0.6"/>
<circle cx="603.87" cy="27.84" r="3.3" fill="#E2811D" fill-opacity="0.35" stroke="#2a2a3a" stroke-opacity="0.5" stroke-width="0.6"/>
<circle cx="603.60" cy="30.04" r="3.3" fill="#E2811D" fill-opacity="0.35" stroke="#2a2a3a" stroke-opacity="0.5" stroke-width="0.6"/>
<circle cx="605.38" cy="30.83" r="3.3" fill="#E2811D" fill-opacity="0.35" stroke="#2a2a3a" stroke-opacity="0.5" stroke-width="0.6"/>
<circle cx="605.93" cy="31.55" r="3.3" fill="#E2811D" fill-opacity="0.35" stroke="#2a2a3a" stroke-opacity="0.5" stroke-width="0.6"/>
<circle cx="604.11" cy="33.89" r="3.3" fill="#E2811D" fill-opacity="0.35" stroke="#2a2a3a" stroke-opacity="0.5" stroke-width="0.6"/>
<circle cx="602.58" cy="35.90" r="3.3" fill="#E2811D" fill-opacity="0.35" stroke="#2a2a3a" stroke-opacity="0.5" stroke-width="0.6"/>
<circle cx="602.95" cy="37.13" r="3.3" fill="#E2811D" fill-opacity="0.35" stroke="#2a2a3a" stroke-opacity="0.5" stroke-width="0.6"/>
<circle cx="610.96" cy="21.83" r="3.3" fill="#4B79CE" fill-opacity="0.35" stroke="#2a2a3a" stroke-opacity="0.5" stroke-width="0.6"/>
<circle cx="612.02" cy="24.68" r="3.3" fill="#4B79CE" fill-opacity="0.35" stroke="#2a2a3a" stroke-opacity="0.5" stroke-width="0.6"/>
<circle cx="612.33" cy="25.29" r="3.3" fill="#4B79CE" fill-opacity="0.35" stroke="#2a2a3a" stroke-opacity="0.5" stroke-width="0.6"/>
<circle cx="613.49" cy="25.67" r="3.3" fill="#4B79CE" fill-opacity="0.35" stroke="#2a2a3a" stroke-opacity="0.5" stroke-width="0.6"/>
<circle cx="610.66" cy="26.40" r="3.3" fill="#4B79CE" fill-opacity="0.35" stroke="#2a2a3a" stroke-opacity="0.5" stroke-width="0.6"/>
<circle cx="612.84" cy="26.90" r="3.3" fill="#4B79CE" fill-opacity="0.35" stroke="#2a2a3a" stroke-opacity="0.5" stroke-width="0.6"/>
<circle cx="613.32" cy="29.03" r="3.3" fill="#4B79CE" fill-opacity="0.35" stroke="#2a2a3a" stroke-opacity="0.5" stroke-width="0.6"/>
<circle cx="611.44" cy="27.77" r="3.3" fill="#4B79CE" fill-opacity="0.35" stroke="#2a2a3a" stroke-opacity="0.5" stroke-width="0.6"/>
<circle cx="610.47" cy="29.14" r="3.3" fill="#4B79CE" fill-opacity="0.35" stroke="#2a2a3a" stroke-opacity="0.5" stroke-width="0.6"/>
<circle cx="609.60" cy="31.24" r="3.3" fill="#4B79CE" fill-opacity="0.35" stroke="#2a2a3a" stroke-opacity="0.5" stroke-width="0.6"/>
<circle cx="613.20" cy="30.72" r="3.3" fill="#4B79CE" fill-opacity="0.35" stroke="#2a2a3a" stroke-opacity="0.5" stroke-width="0.6"/>
<circle cx="610.11" cy="32.56" r="3.3" fill="#4B79CE" fill-opacity="0.35" stroke="#2a2a3a" stroke-opacity="0.5" stroke-width="0.6"/>
<circle cx="613.11" cy="31.93" r="3.3" fill="#4B79CE" fill-opacity="0.35" stroke="#2a2a3a" stroke-opacity="0.5" stroke-width="0.6"/>
<circle cx="610.59" cy="31.57" r="3.3" fill="#4B79CE" fill-opacity="0.35" stroke="#2a2a3a" stroke-opacity="0.5" stroke-width="0.6"/>
<circle cx="610.10" cy="34.26" r="3.3" fill="#4B79CE" fill-opacity="0.35" stroke="#2a2a3a" stroke-opacity="0.5" stroke-width="0.6"/>
<circle cx="610.88" cy="33.71" r="3.3" fill="#4B79CE" fill-opacity="0.35" stroke="#2a2a3a" stroke-opacity="0.5" stroke-width="0.6"/>
<circle cx="609.77" cy="34.43" r="3.3" fill="#4B79CE" fill-opacity="0.35" stroke="#2a2a3a" stroke-opacity="0.5" stroke-width="0.6"/>
<circle cx="614.37" cy="34.13" r="3.3" fill="#4B79CE" fill-opacity="0.35" stroke="#2a2a3a" stroke-opacity="0.5" stroke-width="0.6"/>
<circle cx="613.06" cy="36.52" r="3.3" fill="#4B79CE" fill-opacity="0.35" stroke="#2a2a3a" stroke-opacity="0.5" stroke-width="0.6"/>
<circle cx="610.66" cy="35.89" r="3.3" fill="#4B79CE" fill-opacity="0.35" stroke="#2a2a3a" stroke-opacity="0.5" stroke-width="0.6"/>
<circle cx="610.60" cy="37.30" r="3.3" fill="#4B79CE" fill-opacity="0.35" stroke="#2a2a3a" stroke-opacity="0.5" stroke-width="0.6"/>
<circle cx="614.05" cy="37.90" r="3.3" fill="#4B79CE" fill-opacity="0.35" stroke="#2a2a3a" stroke-opacity="0.5" stroke-width="0.6"/>
<circle cx="611.08" cy="38.66" r="3.3" fill="#4B79CE" fill-opacity="0.35" stroke="#2a2a3a" stroke-opacity="0.5" stroke-width="0.6"/>
<circle cx="612.44" cy="41.13" r="3.3" fill="#4B79CE" fill-opacity="0.35" stroke="#2a2a3a" stroke-opacity="0.5" stroke-width="0.6"/>
<circle cx="611.41" cy="39.87" r="3.3" fill="#4B79CE" fill-opacity="0.35" stroke="#2a2a3a" stroke-opacity="0.5" stroke-width="0.6"/>
<circle cx="609.68" cy="42.85" r="3.3" fill="#4B79CE" fill-opacity="0.35" stroke="#2a2a3a" stroke-opacity="0.5" stroke-width="0.6"/>
<circle cx="612.86" cy="44.88" r="3.3" fill="#4B79CE" fill-opacity="0.35" stroke="#2a2a3a" stroke-opacity="0.5" stroke-width="0.6"/>
<circle cx="612.34" cy="48.89" r="3.3" fill="#4B79CE" fill-opacity="0.35" stroke="#2a2a3a" stroke-opacity="0.5" stroke-width="0.6"/>
<circle cx="625.63" cy="33.41" r="3.3" fill="#62D490" fill-opacity="0.35" stroke="#2a2a3a" stroke-opacity="0.5" stroke-width="0.6"/>
<circle cx="628.71" cy="37.29" r="3.3" fill="#62D490" fill-opacity="0.35" stroke="#2a2a3a" stroke-opacity="0.5" stroke-width="0.6"/>
<circle cx="644.74" cy="18.28" r="3.3" fill="#E2811D" fill-opacity="0.35" stroke="#2a2a3a" stroke-opacity="0.5" stroke-width="0.6"/>
<circle cx="644.08" cy="17.57" r="3.3" fill="#E2811D" fill-opacity="0.35" stroke="#2a2a3a" stroke-opacity="0.5" stroke-width="0.6"/>
<circle cx="645.53" cy="19.21" r="3.3" fill="#E2811D" fill-opacity="0.35" stroke="#2a2a3a" stroke-opacity="0.5" stroke-width="0.6"/>
<circle cx="643.81" cy="19.71" r="3.3" fill="#E2811D" fill-opacity="0.35" stroke="#2a2a3a" stroke-opacity="0.5" stroke-width="0.6"/>
<circle cx="645.03" cy="20.99" r="3.3" fill="#E2811D" fill-opacity="0.35" stroke="#2a2a3a" stroke-opacity="0.5" stroke-width="0.6"/>
<circle cx="648.34" cy="22.99" r="3.3" fill="#E2811D" fill-opacity="0.35" stroke="#2a2a3a" stroke-opacity="0.5" stroke-width="0.6"/>
<circle cx="645.06" cy="25.32" r="3.3" fill="#E2811D" fill-opacity="0.35" stroke="#2a2a3a" stroke-opacity="0.5" stroke-width="0.6"/>
<circle cx="644.49" cy="26.93" r="3.3" fill="#E2811D" fill-opacity="0.35" stroke="#2a2a3a" stroke-opacity="0.5" stroke-width="0.6"/>
<circle cx="653.52" cy="13.74" r="3.3" fill="#4B79CE" fill-opacity="0.35" stroke="#2a2a3a" stroke-opacity="0.5" stroke-width="0.6"/>
<circle cx="655.34" cy="14.73" r="3.3" fill="#4B79CE" fill-opacity="0.35" stroke="#2a2a3a" stroke-opacity="0.5" stroke-width="0.6"/>
<circle cx="651.82" cy="16.46" r="3.3" fill="#4B79CE" fill-opacity="0.35" stroke="#2a2a3a" stroke-opacity="0.5" stroke-width="0.6"/>
<circle cx="653.64" cy="15.82" r="3.3" fill="#4B79CE" fill-opacity="0.35" stroke="#2a2a3a" stroke-opacity="0.5" stroke-width="0.6"/>
<circle cx="656.13" cy="15.75" r="3.3" fill="#4B79CE" fill-opacity="0.35" stroke="#2a2a3a" stroke-opacity="0.5" stroke-width="0.6"/>
<circle cx="655.57" cy="16.83" r="3.3" fill="#4B79CE" fill-opacity="0.35" stroke="#2a2a3a" stroke-opacity="0.5" stroke-width="0.6"/>
<circle cx="651.99" cy="17.80" r="3.3" fill="#4B79CE" fill-opacity="0.35" stroke="#2a2a3a" stroke-opacity="0.5" stroke-width="0.6"/>
<circle cx="652.91" cy="18.03" r="3.3" fill="#4B79CE" fill-opacity="0.35" stroke="#2a2a3a" stroke-opacity="0.5" stroke-width="0.6"/>
<circle cx="652.47" cy="17.76" r="3.3" fill="#4B79CE" fill-opacity="0.35" stroke="#2a2a3a" stroke-opacity="0.5" stroke-width="0.6"/>
<circle cx="651.88" cy="19.66" r="3.3" fill="#4B79CE" fill-opacity="0.35" stroke="#2a2a3a" stroke-opacity="0.5" stroke-width="0.6"/>
<circle cx="653.84" cy="19.55" r="3.3" fill="#4B79CE" fill-opacity="0.35" stroke="#2a2a3a" stroke-opacity="0.5" stroke-width="0.6"/>
<circle cx="652.40" cy="20.68" r="3.3" fill="#4B79CE" fill-opacity="0.35" stroke="#2a2a3a" stroke-opacity="0.5" stroke-width="0.6"/>
<circle cx="653.02" cy="21.64" r="3.3" fill="#4B79CE" fill-opacity="0.35" stroke="#2a2a3a" stroke-opacity="0.5" stroke-width="0.6"/>
<circle cx="655.05" cy="22.26" r="3.3" fill="#4B79CE" fill-opacity="0.35" stroke="#2a2a3a" stroke-opacity="0.5" stroke-width="0.6"/>
<circle cx="652.74" cy="21.51" r="3.3" fill="#4B79CE" fill-opacity="0.35" stroke="#2a2a3a" stroke-opacity="0.5" stroke-width="0.6"/>
<circle cx="655.28" cy="22.54" r="3.3" fill="#4B79CE" fill-opacity="0.35" stroke="#2a2a3a" stroke-opacity="0.5" stroke-width="0.6"/>
<circle cx="653.65" cy="23.56" r="3.3" fill="#4B79CE" fill-opacity="0.35" stroke="#2a2a3a" stroke-opacity="0.5" stroke-width="0.6"/>
<circle cx="652.85" cy="25.38" r="3.3" fill="#4B79CE" fill-opacity="0.35" stroke="#2a2a3a" stroke-opacity="0.5" stroke-width="0.6"/>
<circle cx="653.44" cy="24.72" r="3.3" fill="#4B79CE" fill-opacity="0.35" stroke="#2a2a3a" stroke-opacity="0.5" stroke-width="0.6"/>
<circle cx="651.92" cy="25.25" r="3.3" fill="#4B79CE" fill-opacity="0.35" stroke="#2a2a3a" stroke-opacity="0.5" stroke-width="0.6"/>
<circle cx="654.87" cy="25.50" r="3.3" fill="#4B79CE" fill-opacity="0.35" stroke="#2a2a3a" stroke-opacity="0.5" stroke-width="0.6"/>
<circle cx="655.76" cy="27.66" r="3.3" fill="#4B79CE" fill-opacity="0.35" stroke="#2a2a3a" stroke-opacity="0.5" stroke-width="0.6"/>
<circle cx="653.21" cy="29.64" r="3.3" fill="#4B79CE" fill-opacity="0.35" stroke="#2a2a3a" stroke-opacity="0.5" stroke-width="0.6"/>
<circle cx="656.32" cy="29.91" r="3.3" fill="#4B79CE" fill-opacity="0.35" stroke="#2a2a3a" stroke-opacity="0.5" stroke-width="0.6"/>
<circle cx="655.17" cy="29.82" r="3.3" fill="#4B79CE" fill-opacity="0.35" stroke="#2a2a3a" stroke-opacity="0.5" stroke-width="0.6"/>
<circle cx="656.50" cy="32.44" r="3.3" fill="#4B79CE" fill-opacity="0.35" stroke="#2a2a3a" stroke-opacity="0.5" stroke-width="0.6"/>
<circle cx="652.89" cy="35.71" r="3.3" fill="#4B79CE" fill-opacity="0.35" stroke="#2a2a3a" stroke-opacity="0.5" stroke-width="0.6"/>
<circle cx="652.17" cy="37.93" r="3.3" fill="#4B79CE" fill-opacity="0.35" stroke="#2a2a3a" stroke-opacity="0.5" stroke-width="0.6"/>
<circle cx="667.93" cy="22.24" r="3.3" fill="#62D490" fill-opacity="0.35" stroke="#2a2a3a" stroke-opacity="0.5" stroke-width="0.6"/>
<circle cx="670.92" cy="25.25" r="3.3" fill="#62D490" fill-opacity="0.35" stroke="#2a2a3a" stroke-opacity="0.5" stroke-width="0.6"/>
<rect x="39.7" y="3.3" width="643.6" height="240.8" fill="none" stroke="#B3B3B3" stroke-width="1.2"/>
<line x1="37.2" x2="39.7" y1="188.70" y2="188.70" stroke="#B3B3B3" stroke-width="1.1"/>
<text x="34.6" y="194.20" font-size="14.5" text-anchor="end" fill="#1a1a1a" font-family="Liberation Sans, sans-serif">25</text>
<line x1="37.2" x2="39.7" y1="125.30" y2="125.30" stroke="#B3B3B3" stroke-width="1.1"/>
<text x="34.6" y="130.80" font-size="14.5" text-anchor="end" fill="#1a1a1a" font-family="Liberation Sans, sans-serif">50</text>
<line x1="37.2" x2="39.7" y1="61.90" y2="61.90" stroke="#B3B3B3" stroke-width="1.1"/>
<text x="34.6" y="67.40" font-size="14.5" text-anchor="end" fill="#1a1a1a" font-family="Liberation Sans, sans-serif">75</text>
<line x1="65.60" x2="65.60" y1="244.1" y2="246.6" stroke="#B3B3B3" stroke-width="1.1"/>
<line x1="107.93" x2="107.93" y1="244.1" y2="246.6" stroke="#B3B3B3" stroke-width="1.1"/>
<line x1="150.26" x2="150.26" y1="244.1" y2="246.6" stroke="#B3B3B3" stroke-width="1.1"/>
<line x1="192.59" x2="192.59" y1="244.1" y2="246.6" stroke="#B3B3B3" stroke-width="1.1"/>
<line x1="234.92" x2="234.92" y1="244.1" y2="246.6" stroke="#B3B3B3" stroke-width="1.1"/>
<line x1="277.25" x2="277.25" y1="244.1" y2="246.6" stroke="#B3B3B3" stroke-width="1.1"/>
<line x1="319.58" x2="319.58" y1="244.1" y2="246.6" stroke="#B3B3B3" stroke-width="1.1"/>
<line x1="361.91" x2="361.91" y1="244.1" y2="246.6" stroke="#B3B3B3" stroke-width="1.1"/>
<line x1="404.24" x2="404.24" y1="244.1" y2="246.6" stroke="#B3B3B3" stroke-width="1.1"/>
<line x1="446.57" x2="446.57" y1="244.1" y2="246.6" stroke="#B3B3B3" stroke-width="1.1"/>
<line x1="488.90" x2="488.90" y1="244.1" y2="246.6" stroke="#B3B3B3" stroke-width="1.1"/>
<line x1="531.23" x2="531.23" y1="244.1" y2="246.6" stroke="#B3B3B3" stroke-width="1.1"/>
<line x1="573.56" x2="573.56" y1="244.1" y2="246.6" stroke="#B3B3B3" stroke-width="1.1"/>
<line x1="615.89" x2="615.89" y1="244.1" y2="246.6" stroke="#B3B3B3" stroke-width="1.1"/>
<line x1="658.22" x2="658.22" y1="244.1" y2="246.6" stroke="#B3B3B3" stroke-width="1.1"/>
<text transform="translate(75.10,254.10) rotate(-74)" font-size="13.9" font-style="italic" text-anchor="end" fill="#1a1a1a" font-family="Liberation Sans, sans-serif">TssA</text>
<text transform="translate(117.43,254.10) rotate(-74)" font-size="13.9" font-style="italic" text-anchor="end" fill="#1a1a1a" font-family="Liberation Sans, sans-serif">BivFlnk</text>
<text transform="translate(159.76,254.10) rotate(-74)" font-size="13.9" font-style="italic" text-anchor="end" fill="#1a1a1a" font-family="Liberation Sans, sans-serif">TssAFlnk</text>
<text transform="translate(202.09,254.10) rotate(-74)" font-size="13.9" font-style="italic" text-anchor="end" fill="#1a1a1a" font-family="Liberation Sans, sans-serif">TssBiv</text>
<text transform="translate(244.42,254.10) rotate(-74)" font-size="13.9" font-style="italic" text-anchor="end" fill="#1a1a1a" font-family="Liberation Sans, sans-serif">EnhBiv</text>
<text transform="translate(286.75,254.10) rotate(-74)" font-size="13.9" font-style="italic" text-anchor="end" fill="#1a1a1a" font-family="Liberation Sans, sans-serif">TxFlnk</text>
<text transform="translate(329.08,254.10) rotate(-74)" font-size="13.9" font-style="italic" text-anchor="end" fill="#1a1a1a" font-family="Liberation Sans, sans-serif">ReprPC</text>
<text transform="translate(371.41,254.10) rotate(-74)" font-size="13.9" font-style="italic" text-anchor="end" fill="#1a1a1a" font-family="Liberation Sans, sans-serif">Enh</text>
<text transform="translate(413.74,254.10) rotate(-74)" font-size="13.9" font-style="italic" text-anchor="end" fill="#1a1a1a" font-family="Liberation Sans, sans-serif">ReprPCWk</text>
<text transform="translate(456.07,254.10) rotate(-74)" font-size="13.9" font-style="italic" text-anchor="end" fill="#1a1a1a" font-family="Liberation Sans, sans-serif">Het</text>
<text transform="translate(498.40,254.10) rotate(-74)" font-size="13.9" font-style="italic" text-anchor="end" fill="#1a1a1a" font-family="Liberation Sans, sans-serif">Quies</text>
<text transform="translate(540.73,254.10) rotate(-74)" font-size="13.9" font-style="italic" text-anchor="end" fill="#1a1a1a" font-family="Liberation Sans, sans-serif">EnhG</text>
<text transform="translate(583.06,254.10) rotate(-74)" font-size="13.9" font-style="italic" text-anchor="end" fill="#1a1a1a" font-family="Liberation Sans, sans-serif">ZNF/Rpts</text>
<text transform="translate(625.39,254.10) rotate(-74)" font-size="13.9" font-style="italic" text-anchor="end" fill="#1a1a1a" font-family="Liberation Sans, sans-serif">TxWk</text>
<text transform="translate(667.72,254.10) rotate(-74)" font-size="13.9" font-style="italic" text-anchor="end" fill="#1a1a1a" font-family="Liberation Sans, sans-serif">Tx</text>
<text transform="translate(12.7,120.5) rotate(-90)" font-size="13.9" font-weight="bold" text-anchor="middle" fill="#000" font-family="Liberation Sans, sans-serif">Average methylation %</text>
<text x="1.9" y="17.8" font-size="23.2" font-weight="bold" fill="#000" font-family="Liberation Sans, sans-serif">A</text>
<line x1="56.5" x2="56.5" y1="7.9" y2="28" stroke="#111" stroke-width="1.2"/>
<rect x="47" y="12" width="19" height="12.5" fill="#E06A1A" stroke="#111" stroke-width="1.2"/>
<line x1="47" x2="66" y1="18.2" y2="18.2" stroke="#222" stroke-width="1.2"/>
<circle cx="56.5" cy="18.2" r="2" fill="#E88840" stroke="#222" stroke-width="0.8"/>
<line x1="137.5" x2="137.5" y1="7.9" y2="28" stroke="#111" stroke-width="1.2"/>
<rect x="128" y="12" width="19" height="12.5" fill="#3F7DBE" stroke="#111" stroke-width="1.2"/>
<line x1="128" x2="147" y1="18.2" y2="18.2" stroke="#222" stroke-width="1.2"/>
<circle cx="137.5" cy="18.2" r="2" fill="#5088C8" stroke="#222" stroke-width="0.8"/>
<line x1="196.5" x2="196.5" y1="7.9" y2="28" stroke="#111" stroke-width="1.2"/>
<rect x="187" y="12" width="19" height="12.5" fill="#000" stroke="#111" stroke-width="1.2"/>
<line x1="187" x2="206" y1="18.2" y2="18.2" stroke="#000" stroke-width="1.2"/>
<circle cx="196.5" cy="18.2" r="2" fill="#000" stroke="#000" stroke-width="0.8"/>
<line x1="274.5" x2="274.5" y1="7.9" y2="28" stroke="#111" stroke-width="1.2"/>
<rect x="265" y="12" width="19" height="12.5" fill="#4DBF87" stroke="#111" stroke-width="1.2"/>
<line x1="265" x2="284" y1="18.2" y2="18.2" stroke="#222" stroke-width="1.2"/>
<circle cx="274.5" cy="18.2" r="2" fill="#5ECF97" stroke="#222" stroke-width="0.8"/>
<text x="75.5" y="22.8" font-size="12.6" fill="#111" font-family="Liberation Sans, sans-serif">V600E</text>
<text x="156.5" y="22.8" font-size="12.6" fill="#111" font-family="Liberation Sans, sans-serif">WT</text>
<text x="215.8" y="22.8" font-size="12.6" fill="#111" font-family="Liberation Sans, sans-serif">Normal</text>
<text x="293.5" y="22.8" font-size="12.6" fill="#111" font-family="Liberation Sans, sans-serif">other <tspan font-style="italic">BRAF</tspan> mutation</text>
<text x="2.3" y="354.3" font-size="23.2" font-weight="bold" fill="#000" font-family="Liberation Sans, sans-serif">B</text>
<path d="M48.84,506.30V470.50H60.95V506.30M36.72,506.30V466.40H54.89V470.50M24.60,506.30V463.40H45.81V466.40M85.19,506.30V465.80H97.31V506.30M73.07,506.30V459.70H91.25V465.80M35.20,463.40V456.20H82.16V459.70M121.54,506.30V455.20H133.66V506.30M109.43,506.30V446.00H127.60V455.20M58.68,456.20V436.20H118.51V446.00M279.08,506.30V450.40H291.20V506.30M266.96,506.30V446.00H285.14V450.40M254.84,506.30V441.60H276.05V446.00M230.61,506.30V444.50H242.72V506.30M236.66,444.50V440.40H265.45V441.60M218.49,506.30V438.20H251.06V440.40M170.02,506.30V444.30H182.13V506.30M194.25,506.30V440.50H206.37V506.30M176.07,444.30V439.90H200.31V440.50M188.19,439.90V434.20H234.77V438.20M157.90,506.30V426.60H211.48V434.20M145.78,506.30V422.10H184.69V426.60M88.60,436.20V410.60H165.24V422.10M327.55,506.30V425.60H339.67V506.30M315.43,506.30V421.50H333.61V425.60M376.02,506.30V430.00H388.14V506.30M363.90,506.30V427.00H382.08V430.00M351.79,506.30V420.50H372.99V427.00M324.52,421.50V413.10H362.39V420.50M460.85,506.30V443.60H472.97V506.30M448.73,506.30V436.40H466.91V443.60M436.61,506.30V432.70H457.82V436.40M424.49,506.30V429.30H447.22V432.70M412.38,506.30V426.20H435.85V429.30M400.26,506.30V423.50H424.12V426.20M521.44,506.30V447.50H533.56V506.30M509.32,506.30V444.00H527.50V447.50M497.20,506.30V438.20H518.41V444.00M545.67,506.30V435.80H557.79V506.30M507.81,438.20V430.60H551.73V435.80M485.08,506.30V420.30H529.77V430.60M412.19,423.50V409.00H507.43V420.30M343.45,413.10V397.00H459.81V409.00M303.31,506.30V374.70H401.63V397.00M126.92,410.60V345.70H352.47V374.70" fill="none" stroke="#262626" stroke-width="1.3" stroke-linejoin="miter"/>
<rect x="18.00" y="506.3" width="84.88" height="11.30" fill="#000"/>
<rect x="102.83" y="506.3" width="48.52" height="11.30" fill="#BEBEBE"/>
<rect x="151.30" y="506.3" width="12.17" height="11.30" fill="#D376C6"/>
<rect x="163.42" y="506.3" width="254.53" height="11.30" fill="#BEBEBE"/>
<rect x="417.89" y="506.3" width="12.17" height="11.30" fill="#D376C6"/>
<rect x="430.01" y="506.3" width="24.29" height="11.30" fill="#BEBEBE"/>
<rect x="454.25" y="506.3" width="12.17" height="11.30" fill="#D376C6"/>
<rect x="466.37" y="506.3" width="24.29" height="11.30" fill="#BEBEBE"/>
<rect x="490.60" y="506.3" width="12.17" height="11.30" fill="#D376C6"/>
<rect x="502.72" y="506.3" width="12.17" height="11.30" fill="#BEBEBE"/>
<rect x="514.84" y="506.3" width="12.17" height="11.30" fill="#D376C6"/>
<rect x="526.96" y="506.3" width="36.40" height="11.30" fill="#BEBEBE"/>
<line x1="18.0" x2="563.31" y1="506.3" y2="506.3" stroke="#222" stroke-width="1.1"/>
<line x1="18.0" x2="563.31" y1="517.6" y2="517.6" stroke="#222" stroke-width="1.1"/>
<rect x="18.00" y="522.3" width="84.88" height="10.90" fill="#000"/>
<rect x="102.83" y="522.3" width="12.17" height="10.90" fill="#78BCE0"/>
<rect x="114.94" y="522.3" width="12.17" height="10.90" fill="#E7E84E"/>
<rect x="127.06" y="522.3" width="12.17" height="10.90" fill="#78BCE0"/>
<rect x="139.18" y="522.3" width="145.47" height="10.90" fill="#E7E84E"/>
<rect x="284.60" y="522.3" width="12.17" height="10.90" fill="#78BCE0"/>
<rect x="296.71" y="522.3" width="24.29" height="10.90" fill="#E1A22A"/>
<rect x="320.95" y="522.3" width="12.17" height="10.90" fill="#E7E84E"/>
<rect x="333.07" y="522.3" width="12.17" height="10.90" fill="#E1A22A"/>
<rect x="345.19" y="522.3" width="24.29" height="10.90" fill="#E7E84E"/>
<rect x="369.42" y="522.3" width="12.17" height="10.90" fill="#E1A22A"/>
<rect x="381.54" y="522.3" width="24.29" height="10.90" fill="#E7E84E"/>
<rect x="405.78" y="522.3" width="24.29" height="10.90" fill="#E1A22A"/>
<rect x="430.01" y="522.3" width="12.17" height="10.90" fill="#E7E84E"/>
<rect x="442.13" y="522.3" width="36.40" height="10.90" fill="#E1A22A"/>
<rect x="478.48" y="522.3" width="12.17" height="10.90" fill="#E7E84E"/>
<rect x="490.60" y="522.3" width="12.17" height="10.90" fill="#E1A22A"/>
<rect x="502.72" y="522.3" width="12.17" height="10.90" fill="#E7E84E"/>
<rect x="514.84" y="522.3" width="12.17" height="10.90" fill="#78BCE0"/>
<rect x="526.96" y="522.3" width="12.17" height="10.90" fill="#E7E84E"/>
<rect x="539.07" y="522.3" width="24.29" height="10.90" fill="#E1A22A"/>
<line x1="18.0" x2="563.31" y1="522.3" y2="522.3" stroke="#222" stroke-width="1.1"/>
<line x1="18.0" x2="563.31" y1="533.2" y2="533.2" stroke="#222" stroke-width="1.1"/>
<rect x="18.00" y="537.5" width="84.88" height="10.80" fill="#000"/>
<rect x="102.83" y="537.5" width="193.94" height="10.80" fill="#3E7DBC"/>
<rect x="296.71" y="537.5" width="12.17" height="10.80" fill="#E06A1A"/>
<rect x="308.83" y="537.5" width="84.88" height="10.80" fill="#3E7DBC"/>
<rect x="393.66" y="537.5" width="84.88" height="10.80" fill="#E06A1A"/>
<rect x="478.48" y="537.5" width="36.40" height="10.80" fill="#3E7DBC"/>
<rect x="514.84" y="537.5" width="24.29" height="10.80" fill="#4DC68A"/>
<rect x="539.07" y="537.5" width="24.29" height="10.80" fill="#3E7DBC"/>
<line x1="18.0" x2="563.31" y1="537.5" y2="537.5" stroke="#222" stroke-width="1.1"/>
<line x1="18.0" x2="563.31" y1="548.3" y2="548.3" stroke="#222" stroke-width="1.1"/>
<text x="568.2" y="515.2" font-size="11.2" fill="#111" font-family="Liberation Sans, sans-serif">RER</text>
<text x="568.2" y="532.7" font-size="11.2" fill="#111" font-family="Liberation Sans, sans-serif">CIMP</text>
<text x="568.2" y="547.1" font-size="11.2" fill="#111" font-family="Liberation Sans, sans-serif">BRAF</text>
<rect x="563.5" y="374.2" width="11" height="8.6" fill="#BEBEBE" stroke="#333" stroke-width="1"/>
<text x="578.0" y="381.8" font-size="9.9" fill="#111" font-family="Liberation Sans, sans-serif">MSS</text>
<rect x="563.5" y="387.8" width="11" height="8.6" fill="#D376C6" stroke="#333" stroke-width="1"/>
<text x="578.0" y="395.4" font-size="9.9" fill="#111" font-family="Liberation Sans, sans-serif">MSI</text>
<rect x="563.5" y="400.8" width="11" height="8.6" fill="#000" stroke="#333" stroke-width="1"/>
<text x="578.0" y="408.4" font-size="9.9" fill="#111" font-family="Liberation Sans, sans-serif">Normal</text>
<rect x="630.3" y="374.4" width="11" height="8.6" fill="#78BCE0" stroke="#333" stroke-width="1"/>
<text x="644.0" y="382.0" font-size="9.9" fill="#111" font-family="Liberation Sans, sans-serif">CIMP−0</text>
<rect x="630.3" y="387.6" width="11" height="8.6" fill="#E1A22A" stroke="#333" stroke-width="1"/>
<text x="644.0" y="395.2" font-size="9.9" fill="#111" font-family="Liberation Sans, sans-serif">CIMP−H</text>
<rect x="630.3" y="400.6" width="11" height="8.6" fill="#E7E84E" stroke="#333" stroke-width="1"/>
<text x="644.0" y="408.2" font-size="9.9" fill="#111" font-family="Liberation Sans, sans-serif">CIMP−L</text>
<rect x="630.3" y="412.6" width="11" height="8.6" fill="#000" stroke="#333" stroke-width="1"/>
<text x="644.0" y="420.2" font-size="9.9" fill="#111" font-family="Liberation Sans, sans-serif">Normal</text>
<rect x="563.5" y="438.3" width="11" height="8.6" fill="#E06A1A" stroke="#333" stroke-width="1"/>
<text x="577.6" y="445.9" font-size="9.9" fill="#111" font-family="Liberation Sans, sans-serif">V600E</text>
<rect x="563.5" y="452.0" width="11" height="8.6" fill="#3E7DBC" stroke="#333" stroke-width="1"/>
<text x="577.6" y="459.6" font-size="9.9" fill="#111" font-family="Liberation Sans, sans-serif">WT</text>
<rect x="563.5" y="465.3" width="11" height="8.6" fill="#4DC68A" stroke="#333" stroke-width="1"/>
<text x="577.6" y="472.9" font-size="9.9" fill="#111" font-family="Liberation Sans, sans-serif">other <tspan font-style="italic">BRAF</tspan> mutation</text>
<rect x="563.5" y="477.3" width="11" height="8.6" fill="#000" stroke="#333" stroke-width="1"/>
<text x="577.6" y="484.9" font-size="9.9" fill="#111" font-family="Liberation Sans, sans-serif">Normal</text>
<line x1="42" x2="336.5" y1="798.60" y2="798.60" stroke="#F3F3F3" stroke-width="0.8"/>
<line x1="42" x2="336.5" y1="710.40" y2="710.40" stroke="#F3F3F3" stroke-width="0.8"/>
<line x1="42" x2="336.5" y1="622.20" y2="622.20" stroke="#F3F3F3" stroke-width="0.8"/>
<line x1="88.83" x2="88.83" y1="565.2" y2="856" stroke="#F3F3F3" stroke-width="0.8"/>
<line x1="161.43" x2="161.43" y1="565.2" y2="856" stroke="#F3F3F3" stroke-width="0.8"/>
<line x1="234.03" x2="234.03" y1="565.2" y2="856" stroke="#F3F3F3" stroke-width="0.8"/>
<line x1="306.63" x2="306.63" y1="565.2" y2="856" stroke="#F3F3F3" stroke-width="0.8"/>
<line x1="42" x2="336.5" y1="842.70" y2="842.70" stroke="#EBEBEB" stroke-width="1"/>
<line x1="42" x2="336.5" y1="754.50" y2="754.50" stroke="#EBEBEB" stroke-width="1"/>
<line x1="42" x2="336.5" y1="666.30" y2="666.30" stroke="#EBEBEB" stroke-width="1"/>
<line x1="42" x2="336.5" y1="578.10" y2="578.10" stroke="#EBEBEB" stroke-width="1"/>
<line x1="52.53" x2="52.53" y1="565.2" y2="856" stroke="#EBEBEB" stroke-width="1"/>
<line x1="125.13" x2="125.13" y1="565.2" y2="856" stroke="#EBEBEB" stroke-width="1"/>
<line x1="197.73" x2="197.73" y1="565.2" y2="856" stroke="#EBEBEB" stroke-width="1"/>
<line x1="270.33" x2="270.33" y1="565.2" y2="856" stroke="#EBEBEB" stroke-width="1"/>
<path d="M42,565.2V856H336.5V565.2" fill="none" stroke="#C4C4C4" stroke-width="1.1"/>
<text x="38.6" y="846.10" font-size="14" text-anchor="end" fill="#1a1a1a" font-family="Liberation Sans, sans-serif">0</text>
<text x="38.6" y="757.90" font-size="14" text-anchor="end" fill="#1a1a1a" font-family="Liberation Sans, sans-serif">2</text>
<text x="38.6" y="669.70" font-size="14" text-anchor="end" fill="#1a1a1a" font-family="Liberation Sans, sans-serif">4</text>
<text x="38.6" y="581.50" font-size="14" text-anchor="end" fill="#1a1a1a" font-family="Liberation Sans, sans-serif">6</text>
<text x="54.65" y="870.50" font-size="14" text-anchor="middle" fill="#1a1a1a" font-family="Liberation Sans, sans-serif">-5</text>
<text x="125.90" y="870.50" font-size="14" text-anchor="middle" fill="#1a1a1a" font-family="Liberation Sans, sans-serif">0</text>
<text x="199.20" y="870.50" font-size="14" text-anchor="middle" fill="#1a1a1a" font-family="Liberation Sans, sans-serif">5</text>
<text x="272.55" y="870.50" font-size="14" text-anchor="middle" fill="#1a1a1a" font-family="Liberation Sans, sans-serif">10</text>
<text x="191.2" y="888.60" font-size="13.9" font-weight="bold" text-anchor="middle" fill="#000" font-family="Liberation Sans, sans-serif">Estimate (mutation status)</text>
<text transform="translate(28.3,688) rotate(-90)" font-size="14" font-weight="bold" text-anchor="middle" fill="#000" font-family="Liberation Sans, sans-serif">-log10(P-value)</text>
<circle cx="55.4" cy="798.7" r="4.4" fill="#0a0514" fill-opacity="0.74"/><circle cx="102.0" cy="763.0" r="4.4" fill="#0a0514" fill-opacity="0.74"/><circle cx="89.5" cy="769.0" r="4.4" fill="#0a0514" fill-opacity="0.74"/><circle cx="81.0" cy="775.5" r="4.4" fill="#0a0514" fill-opacity="0.74"/><circle cx="76.0" cy="782.0" r="4.4" fill="#0a0514" fill-opacity="0.74"/><circle cx="75.0" cy="790.7" r="4.4" fill="#0a0514" fill-opacity="0.74"/><circle cx="74.5" cy="799.5" r="4.4" fill="#0a0514" fill-opacity="0.74"/><circle cx="108.5" cy="775.0" r="4.4" fill="#0a0514" fill-opacity="0.74"/><circle cx="105.5" cy="769.0" r="4.4" fill="#0a0514" fill-opacity="0.74"/><circle cx="110.5" cy="786.8" r="4.4" fill="#0a0514" fill-opacity="0.74"/><circle cx="132.3" cy="830.4" r="4.4" fill="#0a0514" fill-opacity="0.74"/><circle cx="139.3" cy="823.8" r="4.4" fill="#0a0514" fill-opacity="0.74"/><circle cx="142.8" cy="819.4" r="4.4" fill="#0a0514" fill-opacity="0.74"/><circle cx="149.8" cy="822.9" r="4.4" fill="#0a0514" fill-opacity="0.74"/><circle cx="148.0" cy="812.4" r="4.4" fill="#0a0514" fill-opacity="0.74"/><circle cx="153.3" cy="810.7" r="4.4" fill="#0a0514" fill-opacity="0.74"/><circle cx="158.5" cy="811.5" r="4.4" fill="#0a0514" fill-opacity="0.74"/><circle cx="145.4" cy="802.8" r="4.4" fill="#0a0514" fill-opacity="0.74"/><circle cx="149.3" cy="796.6" r="4.4" fill="#0a0514" fill-opacity="0.74"/><circle cx="156.8" cy="801.0" r="4.4" fill="#0a0514" fill-opacity="0.74"/><circle cx="164.7" cy="802.8" r="4.4" fill="#0a0514" fill-opacity="0.74"/><circle cx="165.5" cy="806.3" r="4.4" fill="#0a0514" fill-opacity="0.74"/><circle cx="176.9" cy="806.7" r="4.4" fill="#0a0514" fill-opacity="0.74"/><circle cx="157.7" cy="786.6" r="4.4" fill="#0a0514" fill-opacity="0.74"/><circle cx="160.3" cy="785.3" r="4.4" fill="#0a0514" fill-opacity="0.74"/><circle cx="167.3" cy="789.6" r="4.4" fill="#0a0514" fill-opacity="0.74"/><circle cx="174.3" cy="782.6" r="4.4" fill="#0a0514" fill-opacity="0.74"/><circle cx="176.9" cy="790.5" r="4.4" fill="#0a0514" fill-opacity="0.74"/><circle cx="170.0" cy="782.6" r="4.4" fill="#0a0514" fill-opacity="0.74"/><circle cx="179.6" cy="796.6" r="4.4" fill="#0a0514" fill-opacity="0.74"/><circle cx="127.0" cy="840.0" r="4.4" fill="#0a0514" fill-opacity="0.74"/><circle cx="130.0" cy="837.0" r="4.4" fill="#0a0514" fill-opacity="0.74"/><circle cx="133.0" cy="834.0" r="4.4" fill="#0a0514" fill-opacity="0.74"/><circle cx="136.0" cy="831.0" r="4.4" fill="#0a0514" fill-opacity="0.74"/><circle cx="139.0" cy="827.0" r="4.4" fill="#0a0514" fill-opacity="0.74"/><circle cx="141.0" cy="823.0" r="4.4" fill="#0a0514" fill-opacity="0.74"/><circle cx="143.0" cy="819.0" r="4.4" fill="#0a0514" fill-opacity="0.74"/><circle cx="146.0" cy="815.0" r="4.4" fill="#0a0514" fill-opacity="0.74"/><circle cx="149.0" cy="810.0" r="4.4" fill="#0a0514" fill-opacity="0.74"/><circle cx="152.0" cy="806.0" r="4.4" fill="#0a0514" fill-opacity="0.74"/><circle cx="155.0" cy="803.0" r="4.4" fill="#0a0514" fill-opacity="0.74"/><circle cx="158.0" cy="799.0" r="4.4" fill="#0a0514" fill-opacity="0.74"/><circle cx="161.0" cy="795.0" r="4.4" fill="#0a0514" fill-opacity="0.74"/><circle cx="163.0" cy="791.0" r="4.4" fill="#0a0514" fill-opacity="0.74"/><circle cx="166.0" cy="787.0" r="4.4" fill="#0a0514" fill-opacity="0.74"/><circle cx="126.0" cy="843.0" r="4.4" fill="#0a0514" fill-opacity="0.74"/><circle cx="129.0" cy="841.0" r="4.4" fill="#0a0514" fill-opacity="0.74"/><circle cx="132.0" cy="839.0" r="4.4" fill="#0a0514" fill-opacity="0.74"/><circle cx="135.0" cy="836.0" r="4.4" fill="#0a0514" fill-opacity="0.74"/><circle cx="138.0" cy="833.0" r="4.4" fill="#0a0514" fill-opacity="0.74"/><circle cx="131.0" cy="835.0" r="4.4" fill="#0a0514" fill-opacity="0.74"/><circle cx="134.0" cy="830.0" r="4.4" fill="#0a0514" fill-opacity="0.74"/><circle cx="137.0" cy="826.0" r="4.4" fill="#0a0514" fill-opacity="0.74"/><circle cx="140.0" cy="831.0" r="4.4" fill="#0a0514" fill-opacity="0.74"/><circle cx="143.0" cy="826.0" r="4.4" fill="#0a0514" fill-opacity="0.74"/><circle cx="146.0" cy="822.0" r="4.4" fill="#0a0514" fill-opacity="0.74"/><circle cx="139.0" cy="820.0" r="4.4" fill="#0a0514" fill-opacity="0.74"/><circle cx="142.0" cy="815.0" r="4.4" fill="#0a0514" fill-opacity="0.74"/><circle cx="145.0" cy="811.0" r="4.4" fill="#0a0514" fill-opacity="0.74"/><circle cx="148.0" cy="805.0" r="4.4" fill="#0a0514" fill-opacity="0.74"/><circle cx="147.0" cy="818.0" r="4.4" fill="#0a0514" fill-opacity="0.74"/><circle cx="136.0" cy="828.0" r="4.4" fill="#0a0514" fill-opacity="0.74"/><circle cx="157.0" cy="793.0" r="4.4" fill="#0a0514" fill-opacity="0.74"/><circle cx="160.0" cy="790.0" r="4.4" fill="#0a0514" fill-opacity="0.74"/><circle cx="184.5" cy="756.3" r="4.4" fill="#0a0514" fill-opacity="0.74"/><circle cx="183.5" cy="766.1" r="4.4" fill="#0a0514" fill-opacity="0.74"/><circle cx="188.1" cy="770.7" r="4.4" fill="#0a0514" fill-opacity="0.74"/><circle cx="188.6" cy="776.3" r="4.4" fill="#0a0514" fill-opacity="0.74"/><circle cx="167.7" cy="765.5" r="4.4" fill="#0a0514" fill-opacity="0.74"/><circle cx="164.6" cy="769.1" r="4.4" fill="#0a0514" fill-opacity="0.74"/><circle cx="167.7" cy="773.7" r="4.4" fill="#0a0514" fill-opacity="0.74"/><circle cx="173.3" cy="781.4" r="4.4" fill="#0a0514" fill-opacity="0.74"/><circle cx="176.3" cy="787.5" r="4.4" fill="#0a0514" fill-opacity="0.74"/><circle cx="183.0" cy="796.2" r="4.4" fill="#0a0514" fill-opacity="0.74"/><circle cx="177.4" cy="806.4" r="4.4" fill="#0a0514" fill-opacity="0.74"/><circle cx="198.8" cy="774.7" r="4.4" fill="#0a0514" fill-opacity="0.74"/><circle cx="198.8" cy="777.8" r="4.4" fill="#0a0514" fill-opacity="0.74"/><circle cx="208.0" cy="776.3" r="4.4" fill="#0a0514" fill-opacity="0.74"/><circle cx="209.0" cy="781.9" r="4.4" fill="#0a0514" fill-opacity="0.74"/><circle cx="208.5" cy="785.0" r="4.4" fill="#0a0514" fill-opacity="0.74"/><circle cx="205.5" cy="790.1" r="4.4" fill="#0a0514" fill-opacity="0.74"/><circle cx="198.3" cy="788.0" r="4.4" fill="#0a0514" fill-opacity="0.74"/><circle cx="192.7" cy="794.2" r="4.4" fill="#0a0514" fill-opacity="0.74"/><circle cx="198.8" cy="792.1" r="4.4" fill="#0a0514" fill-opacity="0.74"/><circle cx="200.4" cy="799.8" r="4.4" fill="#0a0514" fill-opacity="0.74"/><circle cx="208.0" cy="801.3" r="4.4" fill="#0a0514" fill-opacity="0.74"/><circle cx="212.6" cy="759.9" r="4.4" fill="#0a0514" fill-opacity="0.74"/><circle cx="210.1" cy="767.1" r="4.4" fill="#0a0514" fill-opacity="0.74"/><circle cx="220.3" cy="769.1" r="4.4" fill="#0a0514" fill-opacity="0.74"/><circle cx="223.9" cy="767.1" r="4.4" fill="#0a0514" fill-opacity="0.74"/><circle cx="229.0" cy="762.5" r="4.4" fill="#0a0514" fill-opacity="0.74"/><circle cx="162.0" cy="782.0" r="4.4" fill="#0a0514" fill-opacity="0.74"/><circle cx="165.0" cy="786.0" r="4.4" fill="#0a0514" fill-opacity="0.74"/><circle cx="163.0" cy="792.0" r="4.4" fill="#0a0514" fill-opacity="0.74"/><circle cx="166.0" cy="797.0" r="4.4" fill="#0a0514" fill-opacity="0.74"/><circle cx="162.0" cy="800.0" r="4.4" fill="#0a0514" fill-opacity="0.74"/><circle cx="168.0" cy="803.0" r="4.4" fill="#0a0514" fill-opacity="0.74"/><circle cx="161.0" cy="806.0" r="4.4" fill="#0a0514" fill-opacity="0.74"/><circle cx="230.1" cy="762.0" r="4.4" fill="#0a0514" fill-opacity="0.74"/><circle cx="233.7" cy="761.0" r="4.4" fill="#0a0514" fill-opacity="0.74"/><circle cx="226.0" cy="767.6" r="4.4" fill="#0a0514" fill-opacity="0.74"/><circle cx="233.2" cy="771.9" r="4.4" fill="#0a0514" fill-opacity="0.74"/><circle cx="242.4" cy="771.2" r="4.4" fill="#0a0514" fill-opacity="0.74"/><circle cx="246.5" cy="759.9" r="4.4" fill="#0a0514" fill-opacity="0.74"/><circle cx="248.5" cy="767.8" r="4.4" fill="#0a0514" fill-opacity="0.74"/><circle cx="257.2" cy="764.5" r="4.4" fill="#0a0514" fill-opacity="0.74"/><circle cx="263.0" cy="775.8" r="4.4" fill="#0a0514" fill-opacity="0.74"/><circle cx="251.1" cy="782.4" r="4.4" fill="#0a0514" fill-opacity="0.74"/><circle cx="212.4" cy="760.3" r="4.4" fill="#0a0514" fill-opacity="0.74"/><circle cx="210.3" cy="766.4" r="4.4" fill="#0a0514" fill-opacity="0.74"/><circle cx="221.1" cy="766.9" r="4.4" fill="#0a0514" fill-opacity="0.74"/><circle cx="247.1" cy="759.8" r="4.4" fill="#0a0514" fill-opacity="0.74"/><circle cx="248.1" cy="766.4" r="4.4" fill="#0a0514" fill-opacity="0.74"/><circle cx="242.0" cy="768.5" r="4.4" fill="#0a0514" fill-opacity="0.74"/><circle cx="95.9" cy="767.1" r="4.4" fill="#0a0514" fill-opacity="0.74"/><circle cx="101.0" cy="765.4" r="4.4" fill="#0a0514" fill-opacity="0.74"/><circle cx="103.7" cy="765.6" r="4.4" fill="#0a0514" fill-opacity="0.74"/><circle cx="92.5" cy="771.3" r="4.4" fill="#0a0514" fill-opacity="0.74"/><circle cx="96.8" cy="770.5" r="4.4" fill="#0a0514" fill-opacity="0.74"/><circle cx="100.6" cy="769.8" r="4.4" fill="#0a0514" fill-opacity="0.74"/><circle cx="105.1" cy="770.5" r="4.4" fill="#0a0514" fill-opacity="0.74"/><circle cx="83.6" cy="773.7" r="4.4" fill="#0a0514" fill-opacity="0.74"/><circle cx="88.0" cy="774.3" r="4.4" fill="#0a0514" fill-opacity="0.74"/><circle cx="92.6" cy="775.6" r="4.4" fill="#0a0514" fill-opacity="0.74"/><circle cx="96.0" cy="775.6" r="4.4" fill="#0a0514" fill-opacity="0.74"/><circle cx="99.8" cy="773.8" r="4.4" fill="#0a0514" fill-opacity="0.74"/><circle cx="104.6" cy="773.7" r="4.4" fill="#0a0514" fill-opacity="0.74"/><circle cx="108.0" cy="774.4" r="4.4" fill="#0a0514" fill-opacity="0.74"/><circle cx="79.1" cy="778.8" r="4.4" fill="#0a0514" fill-opacity="0.74"/><circle cx="83.7" cy="779.0" r="4.4" fill="#0a0514" fill-opacity="0.74"/><circle cx="87.7" cy="779.0" r="4.4" fill="#0a0514" fill-opacity="0.74"/><circle cx="92.7" cy="778.8" r="4.4" fill="#0a0514" fill-opacity="0.74"/><circle cx="95.9" cy="779.2" r="4.4" fill="#0a0514" fill-opacity="0.74"/><circle cx="99.7" cy="778.4" r="4.4" fill="#0a0514" fill-opacity="0.74"/><circle cx="105.4" cy="778.8" r="4.4" fill="#0a0514" fill-opacity="0.74"/><circle cx="108.7" cy="777.8" r="4.4" fill="#0a0514" fill-opacity="0.74"/><circle cx="79.6" cy="782.7" r="4.4" fill="#0a0514" fill-opacity="0.74"/><circle cx="83.8" cy="783.5" r="4.4" fill="#0a0514" fill-opacity="0.74"/><circle cx="86.6" cy="782.1" r="4.4" fill="#0a0514" fill-opacity="0.74"/><circle cx="92.2" cy="783.9" r="4.4" fill="#0a0514" fill-opacity="0.74"/><circle cx="95.5" cy="782.9" r="4.4" fill="#0a0514" fill-opacity="0.74"/><circle cx="100.4" cy="782.6" r="4.4" fill="#0a0514" fill-opacity="0.74"/><circle cx="104.1" cy="782.6" r="4.4" fill="#0a0514" fill-opacity="0.74"/><circle cx="108.3" cy="783.2" r="4.4" fill="#0a0514" fill-opacity="0.74"/><circle cx="79.8" cy="786.7" r="4.4" fill="#0a0514" fill-opacity="0.74"/><circle cx="82.8" cy="787.1" r="4.4" fill="#0a0514" fill-opacity="0.74"/><circle cx="88.0" cy="786.4" r="4.4" fill="#0a0514" fill-opacity="0.74"/><circle cx="91.4" cy="786.9" r="4.4" fill="#0a0514" fill-opacity="0.74"/><circle cx="96.7" cy="787.1" r="4.4" fill="#0a0514" fill-opacity="0.74"/><circle cx="100.9" cy="786.5" r="4.4" fill="#0a0514" fill-opacity="0.74"/><circle cx="104.1" cy="787.5" r="4.4" fill="#0a0514" fill-opacity="0.74"/><circle cx="109.4" cy="787.1" r="4.4" fill="#0a0514" fill-opacity="0.74"/><circle cx="79.8" cy="791.7" r="4.4" fill="#0a0514" fill-opacity="0.74"/><circle cx="84.0" cy="791.1" r="4.4" fill="#0a0514" fill-opacity="0.74"/><circle cx="86.9" cy="791.0" r="4.4" fill="#0a0514" fill-opacity="0.74"/><circle cx="92.4" cy="790.9" r="4.4" fill="#0a0514" fill-opacity="0.74"/><circle cx="95.7" cy="791.2" r="4.4" fill="#0a0514" fill-opacity="0.74"/><circle cx="100.0" cy="791.2" r="4.4" fill="#0a0514" fill-opacity="0.74"/><circle cx="105.2" cy="790.7" r="4.4" fill="#0a0514" fill-opacity="0.74"/><circle cx="107.6" cy="792.3" r="4.4" fill="#0a0514" fill-opacity="0.74"/><circle cx="75.5" cy="796.3" r="4.4" fill="#0a0514" fill-opacity="0.74"/><circle cx="79.5" cy="795.6" r="4.4" fill="#0a0514" fill-opacity="0.74"/><circle cx="83.0" cy="795.3" r="4.4" fill="#0a0514" fill-opacity="0.74"/><circle cx="87.1" cy="794.7" r="4.4" fill="#0a0514" fill-opacity="0.74"/><circle cx="92.0" cy="795.2" r="4.4" fill="#0a0514" fill-opacity="0.74"/><circle cx="96.6" cy="794.7" r="4.4" fill="#0a0514" fill-opacity="0.74"/><circle cx="101.0" cy="796.0" r="4.4" fill="#0a0514" fill-opacity="0.74"/><circle cx="105.2" cy="796.4" r="4.4" fill="#0a0514" fill-opacity="0.74"/><circle cx="109.4" cy="795.8" r="4.4" fill="#0a0514" fill-opacity="0.74"/><circle cx="111.8" cy="796.1" r="4.4" fill="#0a0514" fill-opacity="0.74"/><circle cx="79.4" cy="799.5" r="4.4" fill="#0a0514" fill-opacity="0.74"/><circle cx="82.9" cy="800.5" r="4.4" fill="#0a0514" fill-opacity="0.74"/><circle cx="87.6" cy="800.4" r="4.4" fill="#0a0514" fill-opacity="0.74"/><circle cx="91.5" cy="799.2" r="4.4" fill="#0a0514" fill-opacity="0.74"/><circle cx="96.1" cy="800.4" r="4.4" fill="#0a0514" fill-opacity="0.74"/><circle cx="99.5" cy="800.4" r="4.4" fill="#0a0514" fill-opacity="0.74"/><circle cx="105.2" cy="800.4" r="4.4" fill="#0a0514" fill-opacity="0.74"/><circle cx="109.2" cy="798.8" r="4.4" fill="#0a0514" fill-opacity="0.74"/><circle cx="113.1" cy="800.5" r="4.4" fill="#0a0514" fill-opacity="0.74"/><circle cx="79.8" cy="803.0" r="4.4" fill="#0a0514" fill-opacity="0.74"/><circle cx="82.5" cy="803.3" r="4.4" fill="#0a0514" fill-opacity="0.74"/><circle cx="86.8" cy="803.1" r="4.4" fill="#0a0514" fill-opacity="0.74"/><circle cx="92.7" cy="804.7" r="4.4" fill="#0a0514" fill-opacity="0.74"/><circle cx="95.2" cy="804.0" r="4.4" fill="#0a0514" fill-opacity="0.74"/><circle cx="99.8" cy="803.6" r="4.4" fill="#0a0514" fill-opacity="0.74"/><circle cx="104.1" cy="804.3" r="4.4" fill="#0a0514" fill-opacity="0.74"/><circle cx="108.8" cy="803.7" r="4.4" fill="#0a0514" fill-opacity="0.74"/><circle cx="112.2" cy="803.7" r="4.4" fill="#0a0514" fill-opacity="0.74"/><circle cx="88.2" cy="808.4" r="4.4" fill="#0a0514" fill-opacity="0.74"/><circle cx="91.7" cy="807.9" r="4.4" fill="#0a0514" fill-opacity="0.74"/><circle cx="96.0" cy="808.6" r="4.4" fill="#0a0514" fill-opacity="0.74"/><circle cx="100.0" cy="808.6" r="4.4" fill="#0a0514" fill-opacity="0.74"/><circle cx="104.3" cy="807.7" r="4.4" fill="#0a0514" fill-opacity="0.74"/><circle cx="108.7" cy="808.6" r="4.4" fill="#0a0514" fill-opacity="0.74"/><circle cx="111.9" cy="808.0" r="4.4" fill="#0a0514" fill-opacity="0.74"/><circle cx="116.9" cy="809.0" r="4.4" fill="#0a0514" fill-opacity="0.74"/><circle cx="92.4" cy="812.7" r="4.4" fill="#0a0514" fill-opacity="0.74"/><circle cx="96.5" cy="812.5" r="4.4" fill="#0a0514" fill-opacity="0.74"/><circle cx="99.4" cy="812.6" r="4.4" fill="#0a0514" fill-opacity="0.74"/><circle cx="103.4" cy="811.7" r="4.4" fill="#0a0514" fill-opacity="0.74"/><circle cx="109.1" cy="811.5" r="4.4" fill="#0a0514" fill-opacity="0.74"/><circle cx="112.0" cy="811.6" r="4.4" fill="#0a0514" fill-opacity="0.74"/><circle cx="96.4" cy="815.8" r="4.4" fill="#0a0514" fill-opacity="0.74"/><circle cx="100.7" cy="817.5" r="4.4" fill="#0a0514" fill-opacity="0.74"/><circle cx="103.5" cy="816.2" r="4.4" fill="#0a0514" fill-opacity="0.74"/><circle cx="108.7" cy="817.3" r="4.4" fill="#0a0514" fill-opacity="0.74"/><circle cx="112.3" cy="816.0" r="4.4" fill="#0a0514" fill-opacity="0.74"/><circle cx="116.5" cy="816.8" r="4.4" fill="#0a0514" fill-opacity="0.74"/><circle cx="100.5" cy="820.8" r="4.4" fill="#0a0514" fill-opacity="0.74"/><circle cx="104.4" cy="821.1" r="4.4" fill="#0a0514" fill-opacity="0.74"/><circle cx="109.4" cy="820.1" r="4.4" fill="#0a0514" fill-opacity="0.74"/><circle cx="112.0" cy="821.3" r="4.4" fill="#0a0514" fill-opacity="0.74"/><circle cx="117.8" cy="820.8" r="4.4" fill="#0a0514" fill-opacity="0.74"/><circle cx="100.4" cy="824.5" r="4.4" fill="#0a0514" fill-opacity="0.74"/><circle cx="103.8" cy="824.0" r="4.4" fill="#0a0514" fill-opacity="0.74"/><circle cx="108.6" cy="824.8" r="4.4" fill="#0a0514" fill-opacity="0.74"/><circle cx="112.1" cy="824.7" r="4.4" fill="#0a0514" fill-opacity="0.74"/><circle cx="116.6" cy="825.5" r="4.4" fill="#0a0514" fill-opacity="0.74"/><circle cx="120.5" cy="826.0" r="4.4" fill="#0a0514" fill-opacity="0.74"/><circle cx="109.0" cy="830.1" r="4.4" fill="#0a0514" fill-opacity="0.74"/><circle cx="113.5" cy="828.7" r="4.4" fill="#0a0514" fill-opacity="0.74"/><circle cx="116.4" cy="828.7" r="4.4" fill="#0a0514" fill-opacity="0.74"/><circle cx="120.6" cy="829.6" r="4.4" fill="#0a0514" fill-opacity="0.74"/><circle cx="108.5" cy="833.4" r="4.4" fill="#0a0514" fill-opacity="0.74"/><circle cx="112.2" cy="833.6" r="4.4" fill="#0a0514" fill-opacity="0.74"/><circle cx="117.9" cy="833.2" r="4.4" fill="#0a0514" fill-opacity="0.74"/><circle cx="121.3" cy="832.6" r="4.4" fill="#0a0514" fill-opacity="0.74"/><circle cx="112.9" cy="836.8" r="4.4" fill="#0a0514" fill-opacity="0.74"/><circle cx="117.0" cy="837.3" r="4.4" fill="#0a0514" fill-opacity="0.74"/><circle cx="121.6" cy="838.0" r="4.4" fill="#0a0514" fill-opacity="0.74"/>
<circle cx="172.3" cy="650.1" r="4.4" fill="#8ec4e1" fill-opacity="0.7"/><circle cx="162.1" cy="664.3" r="4.4" fill="#8ec4e1" fill-opacity="0.7"/><circle cx="181.8" cy="664.5" r="4.4" fill="#8ec4e1" fill-opacity="0.7"/><circle cx="149.4" cy="670.2" r="4.4" fill="#8ec4e1" fill-opacity="0.7"/><circle cx="149.4" cy="673.7" r="4.4" fill="#8ec4e1" fill-opacity="0.7"/><circle cx="159.7" cy="673.7" r="4.4" fill="#8ec4e1" fill-opacity="0.7"/><circle cx="172.0" cy="670.2" r="4.4" fill="#8ec4e1" fill-opacity="0.7"/><circle cx="153.3" cy="682.5" r="4.4" fill="#8ec4e1" fill-opacity="0.7"/><circle cx="154.6" cy="686.4" r="4.4" fill="#8ec4e1" fill-opacity="0.7"/><circle cx="155.1" cy="692.6" r="4.4" fill="#8ec4e1" fill-opacity="0.7"/><circle cx="162.1" cy="690.4" r="4.4" fill="#8ec4e1" fill-opacity="0.7"/><circle cx="168.2" cy="684.2" r="4.4" fill="#8ec4e1" fill-opacity="0.7"/><circle cx="168.2" cy="689.0" r="4.4" fill="#8ec4e1" fill-opacity="0.7"/><circle cx="176.5" cy="689.9" r="4.4" fill="#8ec4e1" fill-opacity="0.7"/><circle cx="174.8" cy="693.9" r="4.4" fill="#8ec4e1" fill-opacity="0.7"/><circle cx="165.6" cy="698.7" r="4.4" fill="#8ec4e1" fill-opacity="0.7"/><circle cx="162.1" cy="692.2" r="4.4" fill="#8ec4e1" fill-opacity="0.7"/><circle cx="177.4" cy="691.3" r="4.4" fill="#8ec4e1" fill-opacity="0.7"/><circle cx="160.3" cy="703.1" r="4.4" fill="#8ec4e1" fill-opacity="0.7"/><circle cx="165.9" cy="701.0" r="4.4" fill="#8ec4e1" fill-opacity="0.7"/><circle cx="167.3" cy="706.2" r="4.4" fill="#8ec4e1" fill-opacity="0.7"/><circle cx="176.1" cy="706.2" r="4.4" fill="#8ec4e1" fill-opacity="0.7"/><circle cx="145.4" cy="711.5" r="4.4" fill="#8ec4e1" fill-opacity="0.7"/><circle cx="166.5" cy="710.6" r="4.4" fill="#8ec4e1" fill-opacity="0.7"/><circle cx="174.3" cy="712.3" r="4.4" fill="#8ec4e1" fill-opacity="0.7"/><circle cx="157.3" cy="715.8" r="4.4" fill="#8ec4e1" fill-opacity="0.7"/><circle cx="161.2" cy="718.9" r="4.4" fill="#8ec4e1" fill-opacity="0.7"/><circle cx="165.2" cy="719.8" r="4.4" fill="#8ec4e1" fill-opacity="0.7"/><circle cx="166.9" cy="722.0" r="4.4" fill="#8ec4e1" fill-opacity="0.7"/><circle cx="170.8" cy="718.0" r="4.4" fill="#8ec4e1" fill-opacity="0.7"/>
<circle cx="197.4" cy="733.4" r="4.4" fill="#d18eca" fill-opacity="0.7"/><circle cx="254.6" cy="715.3" r="4.4" fill="#d18eca" fill-opacity="0.7"/><circle cx="226.2" cy="738.3" r="4.4" fill="#d18eca" fill-opacity="0.7"/><circle cx="232.8" cy="740.9" r="4.4" fill="#d18eca" fill-opacity="0.7"/><circle cx="236.9" cy="743.9" r="4.4" fill="#d18eca" fill-opacity="0.7"/><circle cx="274.9" cy="701.1" r="4.4" fill="#d18eca" fill-opacity="0.7"/><circle cx="269.3" cy="730.7" r="4.4" fill="#d18eca" fill-opacity="0.7"/><circle cx="277.0" cy="737.8" r="4.4" fill="#d18eca" fill-opacity="0.7"/><circle cx="289.2" cy="733.2" r="4.4" fill="#d18eca" fill-opacity="0.7"/><circle cx="285.5" cy="752.6" r="4.4" fill="#d18eca" fill-opacity="0.7"/>
<circle cx="189.5" cy="656.8" r="4.4" fill="#7cdaa8" fill-opacity="0.7"/><circle cx="186.6" cy="714.5" r="4.4" fill="#7cdaa8" fill-opacity="0.7"/><circle cx="187.8" cy="725.5" r="4.4" fill="#7cdaa8" fill-opacity="0.7"/><circle cx="172.3" cy="753.8" r="4.4" fill="#7cdaa8" fill-opacity="0.7"/><circle cx="221.6" cy="725.5" r="4.4" fill="#7cdaa8" fill-opacity="0.7"/>
<circle cx="191.4" cy="667.6" r="4.4" fill="#ddac3b" fill-opacity="0.7"/><circle cx="210.8" cy="680.2" r="4.4" fill="#ddac3b" fill-opacity="0.7"/><circle cx="251.7" cy="682.4" r="4.4" fill="#ddac3b" fill-opacity="0.7"/><circle cx="299.1" cy="663.3" r="4.4" fill="#ddac3b" fill-opacity="0.7"/><circle cx="285.5" cy="671.9" r="4.4" fill="#ddac3b" fill-opacity="0.7"/><circle cx="274.4" cy="686.5" r="4.4" fill="#ddac3b" fill-opacity="0.7"/><circle cx="282.4" cy="701.5" r="4.4" fill="#ddac3b" fill-opacity="0.7"/><circle cx="282.4" cy="708.7" r="4.4" fill="#ddac3b" fill-opacity="0.7"/><circle cx="282.4" cy="712.0" r="4.4" fill="#ddac3b" fill-opacity="0.7"/><circle cx="246.9" cy="713.3" r="4.4" fill="#ddac3b" fill-opacity="0.7"/><circle cx="247.9" cy="718.4" r="4.4" fill="#ddac3b" fill-opacity="0.7"/><circle cx="221.8" cy="732.2" r="4.4" fill="#ddac3b" fill-opacity="0.7"/><circle cx="227.5" cy="741.4" r="4.4" fill="#ddac3b" fill-opacity="0.7"/><circle cx="256.8" cy="729.6" r="4.4" fill="#ddac3b" fill-opacity="0.7"/><circle cx="258.6" cy="737.8" r="4.4" fill="#ddac3b" fill-opacity="0.7"/><circle cx="257.8" cy="749.0" r="4.4" fill="#ddac3b" fill-opacity="0.7"/><circle cx="203.4" cy="751.6" r="4.4" fill="#ddac3b" fill-opacity="0.7"/><circle cx="260.3" cy="745.1" r="4.4" fill="#ddac3b" fill-opacity="0.7"/><circle cx="272.9" cy="733.7" r="4.4" fill="#ddac3b" fill-opacity="0.7"/><circle cx="286.7" cy="747.0" r="4.4" fill="#ddac3b" fill-opacity="0.7"/>
<circle cx="174.1" cy="655.3" r="4.4" fill="#d67a2a" fill-opacity="0.7"/><circle cx="223.5" cy="591.4" r="4.4" fill="#d67a2a" fill-opacity="0.7"/><circle cx="239.5" cy="701.1" r="4.4" fill="#d67a2a" fill-opacity="0.7"/><circle cx="255.8" cy="699.8" r="4.4" fill="#d67a2a" fill-opacity="0.7"/><circle cx="261.9" cy="705.4" r="4.4" fill="#d67a2a" fill-opacity="0.7"/><circle cx="226.7" cy="726.1" r="4.4" fill="#d67a2a" fill-opacity="0.7"/><circle cx="238.9" cy="736.8" r="4.4" fill="#d67a2a" fill-opacity="0.7"/><circle cx="240.2" cy="749.4" r="4.4" fill="#d67a2a" fill-opacity="0.7"/><circle cx="246.6" cy="738.3" r="4.4" fill="#d67a2a" fill-opacity="0.7"/><circle cx="251.7" cy="741.4" r="4.4" fill="#d67a2a" fill-opacity="0.7"/><circle cx="249.5" cy="752.8" r="4.4" fill="#d67a2a" fill-opacity="0.7"/><circle cx="261.3" cy="745.5" r="4.4" fill="#d67a2a" fill-opacity="0.7"/><circle cx="262.6" cy="751.5" r="4.4" fill="#d67a2a" fill-opacity="0.7"/><circle cx="268.3" cy="735.3" r="4.4" fill="#d67a2a" fill-opacity="0.7"/><circle cx="277.0" cy="734.7" r="4.4" fill="#d67a2a" fill-opacity="0.7"/><circle cx="279.0" cy="745.0" r="4.4" fill="#d67a2a" fill-opacity="0.7"/><circle cx="285.7" cy="733.7" r="4.4" fill="#d67a2a" fill-opacity="0.7"/><circle cx="286.2" cy="739.3" r="4.4" fill="#d67a2a" fill-opacity="0.7"/><circle cx="298.7" cy="741.4" r="4.4" fill="#d67a2a" fill-opacity="0.7"/><circle cx="322.4" cy="735.3" r="4.4" fill="#d67a2a" fill-opacity="0.7"/>
<circle cx="103.8" cy="744.5" r="4.4" fill="#5584c3" fill-opacity="0.7"/>
<text x="0.9" y="584.6" font-size="23.2" font-weight="bold" fill="#000" font-family="Liberation Sans, sans-serif">C</text>
<rect x="42" y="565.3" width="166.5" height="47.3" fill="#fff" stroke="#333" stroke-width="1.1"/>
<circle cx="57.8" cy="575.2" r="4.9" fill="#463C52"/>
<text x="66.0" y="579.2" font-size="11.2" fill="#111" font-family="Liberation Sans, sans-serif">nonsignificant</text>
<circle cx="140.7" cy="576.2" r="4.9" fill="#E7C576"/>
<text x="149.3" y="580.2" font-size="11.2" fill="#111" font-family="Liberation Sans, sans-serif">BivFlnk</text>
<circle cx="57.8" cy="589.0" r="4.9" fill="#DFB0DA"/>
<text x="65.5" y="593.0" font-size="11.2" fill="#111" font-family="Liberation Sans, sans-serif">EnhBiv</text>
<circle cx="110.0" cy="589.0" r="4.9" fill="#B0D6EA"/>
<text x="117.2" y="593.0" font-size="11.2" fill="#111" font-family="Liberation Sans, sans-serif">TssA</text>
<circle cx="152.4" cy="589.0" r="4.9" fill="#88A9D5"/>
<text x="158.0" y="593.0" font-size="11.2" fill="#111" font-family="Liberation Sans, sans-serif">ZNF/Rpts</text>
<circle cx="57.8" cy="602.3" r="4.9" fill="#A3E5C2"/>
<text x="65.5" y="606.3" font-size="11.2" fill="#111" font-family="Liberation Sans, sans-serif">TssAFlnk</text>
<circle cx="118.2" cy="602.3" r="4.9" fill="#E2A26A"/>
<text x="125.1" y="606.3" font-size="11.2" fill="#111" font-family="Liberation Sans, sans-serif">TssBiv</text>
<line x1="388" x2="681.3" y1="798.10" y2="798.10" stroke="#F3F3F3" stroke-width="0.8"/>
<line x1="388" x2="681.3" y1="709.90" y2="709.90" stroke="#F3F3F3" stroke-width="0.8"/>
<line x1="388" x2="681.3" y1="621.70" y2="621.70" stroke="#F3F3F3" stroke-width="0.8"/>
<line x1="447.19" x2="447.19" y1="565.6" y2="855" stroke="#F3F3F3" stroke-width="0.8"/>
<line x1="515.61" x2="515.61" y1="565.6" y2="855" stroke="#F3F3F3" stroke-width="0.8"/>
<line x1="584.04" x2="584.04" y1="565.6" y2="855" stroke="#F3F3F3" stroke-width="0.8"/>
<line x1="652.46" x2="652.46" y1="565.6" y2="855" stroke="#F3F3F3" stroke-width="0.8"/>
<line x1="388" x2="681.3" y1="842.20" y2="842.20" stroke="#EBEBEB" stroke-width="1"/>
<line x1="388" x2="681.3" y1="754.00" y2="754.00" stroke="#EBEBEB" stroke-width="1"/>
<line x1="388" x2="681.3" y1="665.80" y2="665.80" stroke="#EBEBEB" stroke-width="1"/>
<line x1="388" x2="681.3" y1="577.60" y2="577.60" stroke="#EBEBEB" stroke-width="1"/>
<line x1="412.97" x2="412.97" y1="565.6" y2="855" stroke="#EBEBEB" stroke-width="1"/>
<line x1="481.40" x2="481.40" y1="565.6" y2="855" stroke="#EBEBEB" stroke-width="1"/>
<line x1="549.82" x2="549.82" y1="565.6" y2="855" stroke="#EBEBEB" stroke-width="1"/>
<line x1="618.25" x2="618.25" y1="565.6" y2="855" stroke="#EBEBEB" stroke-width="1"/>
<path d="M388,565.6V855H681.3V565.6" fill="none" stroke="#C4C4C4" stroke-width="1.1"/>
<text x="385.4" y="845.60" font-size="14" text-anchor="end" fill="#1a1a1a" font-family="Liberation Sans, sans-serif">0</text>
<text x="385.4" y="757.40" font-size="14" text-anchor="end" fill="#1a1a1a" font-family="Liberation Sans, sans-serif">2</text>
<text x="385.4" y="669.20" font-size="14" text-anchor="end" fill="#1a1a1a" font-family="Liberation Sans, sans-serif">4</text>
<text x="385.4" y="581.00" font-size="14" text-anchor="end" fill="#1a1a1a" font-family="Liberation Sans, sans-serif">6</text>
<text x="408.20" y="871.30" font-size="14" text-anchor="middle" fill="#1a1a1a" font-family="Liberation Sans, sans-serif">-2.5</text>
<text x="481.00" y="871.30" font-size="14" text-anchor="middle" fill="#1a1a1a" font-family="Liberation Sans, sans-serif">0.0</text>
<text x="553.10" y="871.30" font-size="14" text-anchor="middle" fill="#1a1a1a" font-family="Liberation Sans, sans-serif">2.5</text>
<text x="621.95" y="871.30" font-size="14" text-anchor="middle" fill="#1a1a1a" font-family="Liberation Sans, sans-serif">5.0</text>
<text x="548.2" y="887.60" font-size="13.9" font-weight="bold" text-anchor="middle" fill="#000" font-family="Liberation Sans, sans-serif">Estimate (mutation status)</text>
<text transform="translate(375.3,688) rotate(-90)" font-size="14" font-weight="bold" text-anchor="middle" fill="#000" font-family="Liberation Sans, sans-serif">-log10(P-value)</text>
<circle cx="416.0" cy="768.8" r="4.4" fill="#8db0e2" fill-opacity="0.7"/>
<circle cx="411.9" cy="773.4" r="4.4" fill="#0a0514" fill-opacity="0.74"/><circle cx="413.5" cy="772.0" r="4.4" fill="#0a0514" fill-opacity="0.74"/><circle cx="400.8" cy="777.5" r="4.4" fill="#0a0514" fill-opacity="0.74"/><circle cx="421.9" cy="776.4" r="4.4" fill="#0a0514" fill-opacity="0.74"/><circle cx="409.0" cy="784.5" r="4.4" fill="#0a0514" fill-opacity="0.74"/><circle cx="411.4" cy="785.7" r="4.4" fill="#0a0514" fill-opacity="0.74"/><circle cx="417.2" cy="787.4" r="4.4" fill="#0a0514" fill-opacity="0.74"/><circle cx="404.4" cy="792.7" r="4.4" fill="#0a0514" fill-opacity="0.74"/><circle cx="404.4" cy="795.0" r="4.4" fill="#0a0514" fill-opacity="0.74"/><circle cx="417.8" cy="795.0" r="4.4" fill="#0a0514" fill-opacity="0.74"/><circle cx="414.9" cy="798.5" r="4.4" fill="#0a0514" fill-opacity="0.74"/><circle cx="417.2" cy="800.3" r="4.4" fill="#0a0514" fill-opacity="0.74"/><circle cx="406.7" cy="807.9" r="4.4" fill="#0a0514" fill-opacity="0.74"/><circle cx="436.5" cy="786.9" r="4.4" fill="#0a0514" fill-opacity="0.74"/><circle cx="432.4" cy="789.8" r="4.4" fill="#0a0514" fill-opacity="0.74"/><circle cx="437.0" cy="796.8" r="4.4" fill="#0a0514" fill-opacity="0.74"/><circle cx="427.7" cy="800.3" r="4.4" fill="#0a0514" fill-opacity="0.74"/><circle cx="434.7" cy="806.1" r="4.4" fill="#0a0514" fill-opacity="0.74"/><circle cx="443.5" cy="814.9" r="4.4" fill="#0a0514" fill-opacity="0.74"/><circle cx="444.6" cy="818.4" r="4.4" fill="#0a0514" fill-opacity="0.74"/><circle cx="449.9" cy="807.3" r="4.4" fill="#0a0514" fill-opacity="0.74"/><circle cx="452.2" cy="810.2" r="4.4" fill="#0a0514" fill-opacity="0.74"/><circle cx="459.8" cy="803.2" r="4.4" fill="#0a0514" fill-opacity="0.74"/><circle cx="458.1" cy="809.0" r="4.4" fill="#0a0514" fill-opacity="0.74"/><circle cx="455.7" cy="825.4" r="4.4" fill="#0a0514" fill-opacity="0.74"/><circle cx="451.7" cy="811.0" r="4.4" fill="#0a0514" fill-opacity="0.74"/><circle cx="444.1" cy="815.7" r="4.4" fill="#0a0514" fill-opacity="0.74"/><circle cx="456.4" cy="825.0" r="4.4" fill="#0a0514" fill-opacity="0.74"/><circle cx="458.7" cy="813.4" r="4.4" fill="#0a0514" fill-opacity="0.74"/><circle cx="462.2" cy="818.0" r="4.4" fill="#0a0514" fill-opacity="0.74"/><circle cx="465.1" cy="822.7" r="4.4" fill="#0a0514" fill-opacity="0.74"/><circle cx="468.0" cy="827.4" r="4.4" fill="#0a0514" fill-opacity="0.74"/><circle cx="471.0" cy="831.5" r="4.4" fill="#0a0514" fill-opacity="0.74"/><circle cx="473.9" cy="835.5" r="4.4" fill="#0a0514" fill-opacity="0.74"/><circle cx="477.4" cy="839.6" r="4.4" fill="#0a0514" fill-opacity="0.74"/><circle cx="479.1" cy="840.8" r="4.4" fill="#0a0514" fill-opacity="0.74"/><circle cx="460.0" cy="815.0" r="4.4" fill="#0a0514" fill-opacity="0.74"/><circle cx="463.0" cy="820.0" r="4.4" fill="#0a0514" fill-opacity="0.74"/><circle cx="466.0" cy="825.0" r="4.4" fill="#0a0514" fill-opacity="0.74"/><circle cx="469.0" cy="829.0" r="4.4" fill="#0a0514" fill-opacity="0.74"/><circle cx="472.0" cy="833.0" r="4.4" fill="#0a0514" fill-opacity="0.74"/><circle cx="475.0" cy="837.0" r="4.4" fill="#0a0514" fill-opacity="0.74"/><circle cx="468.6" cy="835.0" r="4.4" fill="#0a0514" fill-opacity="0.74"/><circle cx="461.0" cy="816.5" r="4.4" fill="#0a0514" fill-opacity="0.74"/><circle cx="464.0" cy="821.0" r="4.4" fill="#0a0514" fill-opacity="0.74"/><circle cx="467.0" cy="826.0" r="4.4" fill="#0a0514" fill-opacity="0.74"/><circle cx="470.0" cy="830.0" r="4.4" fill="#0a0514" fill-opacity="0.74"/><circle cx="454.0" cy="812.0" r="4.4" fill="#0a0514" fill-opacity="0.74"/><circle cx="457.0" cy="818.0" r="4.4" fill="#0a0514" fill-opacity="0.74"/><circle cx="460.0" cy="823.0" r="4.4" fill="#0a0514" fill-opacity="0.74"/><circle cx="463.0" cy="828.0" r="4.4" fill="#0a0514" fill-opacity="0.74"/><circle cx="466.0" cy="832.0" r="4.4" fill="#0a0514" fill-opacity="0.74"/><circle cx="461.0" cy="809.0" r="4.4" fill="#0a0514" fill-opacity="0.74"/><circle cx="464.0" cy="814.0" r="4.4" fill="#0a0514" fill-opacity="0.74"/><circle cx="491.4" cy="819.8" r="4.4" fill="#0a0514" fill-opacity="0.74"/><circle cx="497.2" cy="824.5" r="4.4" fill="#0a0514" fill-opacity="0.74"/><circle cx="494.9" cy="830.9" r="4.4" fill="#0a0514" fill-opacity="0.74"/><circle cx="494.3" cy="835.5" r="4.4" fill="#0a0514" fill-opacity="0.74"/><circle cx="507.2" cy="814.5" r="4.4" fill="#0a0514" fill-opacity="0.74"/><circle cx="507.7" cy="819.2" r="4.4" fill="#0a0514" fill-opacity="0.74"/><circle cx="513.6" cy="816.9" r="4.4" fill="#0a0514" fill-opacity="0.74"/><circle cx="514.7" cy="822.1" r="4.4" fill="#0a0514" fill-opacity="0.74"/><circle cx="517.7" cy="814.5" r="4.4" fill="#0a0514" fill-opacity="0.74"/><circle cx="515.0" cy="788.3" r="4.4" fill="#0a0514" fill-opacity="0.74"/><circle cx="533.9" cy="782.7" r="4.4" fill="#0a0514" fill-opacity="0.74"/><circle cx="542.6" cy="788.3" r="4.4" fill="#0a0514" fill-opacity="0.74"/><circle cx="541.8" cy="797.3" r="4.4" fill="#0a0514" fill-opacity="0.74"/><circle cx="550.8" cy="799.6" r="4.4" fill="#0a0514" fill-opacity="0.74"/><circle cx="533.9" cy="807.8" r="4.4" fill="#0a0514" fill-opacity="0.74"/><circle cx="522.8" cy="813.1" r="4.4" fill="#0a0514" fill-opacity="0.74"/><circle cx="517.5" cy="813.6" r="4.4" fill="#0a0514" fill-opacity="0.74"/><circle cx="507.6" cy="814.8" r="4.4" fill="#0a0514" fill-opacity="0.74"/><circle cx="507.0" cy="820.1" r="4.4" fill="#0a0514" fill-opacity="0.74"/><circle cx="514.6" cy="821.2" r="4.4" fill="#0a0514" fill-opacity="0.74"/><circle cx="544.4" cy="777.4" r="4.4" fill="#0a0514" fill-opacity="0.74"/><circle cx="550.2" cy="778.0" r="4.4" fill="#0a0514" fill-opacity="0.74"/><circle cx="553.7" cy="781.5" r="4.4" fill="#0a0514" fill-opacity="0.74"/><circle cx="553.1" cy="787.4" r="4.4" fill="#0a0514" fill-opacity="0.74"/><circle cx="560.7" cy="785.0" r="4.4" fill="#0a0514" fill-opacity="0.74"/><circle cx="567.7" cy="779.2" r="4.4" fill="#0a0514" fill-opacity="0.74"/><circle cx="571.2" cy="776.9" r="4.4" fill="#0a0514" fill-opacity="0.74"/><circle cx="574.7" cy="781.5" r="4.4" fill="#0a0514" fill-opacity="0.74"/><circle cx="567.7" cy="787.4" r="4.4" fill="#0a0514" fill-opacity="0.74"/><circle cx="556.1" cy="776.9" r="4.4" fill="#0a0514" fill-opacity="0.74"/><circle cx="589.8" cy="773.5" r="4.4" fill="#0a0514" fill-opacity="0.74"/><circle cx="568.8" cy="778.8" r="4.4" fill="#0a0514" fill-opacity="0.74"/><circle cx="574.0" cy="781.4" r="4.4" fill="#0a0514" fill-opacity="0.74"/><circle cx="561.8" cy="787.6" r="4.4" fill="#0a0514" fill-opacity="0.74"/><circle cx="567.9" cy="787.6" r="4.4" fill="#0a0514" fill-opacity="0.74"/><circle cx="571.4" cy="777.0" r="4.4" fill="#0a0514" fill-opacity="0.74"/><circle cx="533.6" cy="781.9" r="4.4" fill="#0a0514" fill-opacity="0.74"/><circle cx="543.9" cy="777.8" r="4.4" fill="#0a0514" fill-opacity="0.74"/><circle cx="549.5" cy="799.3" r="4.4" fill="#0a0514" fill-opacity="0.74"/><circle cx="533.6" cy="806.9" r="4.4" fill="#0a0514" fill-opacity="0.74"/><circle cx="522.9" cy="809.5" r="4.4" fill="#0a0514" fill-opacity="0.74"/><circle cx="548.0" cy="776.0" r="4.4" fill="#0a0514" fill-opacity="0.74"/><circle cx="559.0" cy="779.0" r="4.4" fill="#0a0514" fill-opacity="0.74"/><circle cx="563.0" cy="783.0" r="4.4" fill="#0a0514" fill-opacity="0.74"/><circle cx="548.0" cy="781.0" r="4.4" fill="#0a0514" fill-opacity="0.74"/><circle cx="555.0" cy="784.0" r="4.4" fill="#0a0514" fill-opacity="0.74"/><circle cx="562.0" cy="781.0" r="4.4" fill="#0a0514" fill-opacity="0.74"/><circle cx="566.0" cy="784.0" r="4.4" fill="#0a0514" fill-opacity="0.74"/><circle cx="571.0" cy="785.0" r="4.4" fill="#0a0514" fill-opacity="0.74"/><circle cx="557.0" cy="789.0" r="4.4" fill="#0a0514" fill-opacity="0.74"/><circle cx="551.0" cy="786.0" r="4.4" fill="#0a0514" fill-opacity="0.74"/><circle cx="545.0" cy="783.0" r="4.4" fill="#0a0514" fill-opacity="0.74"/><circle cx="576.0" cy="779.0" r="4.4" fill="#0a0514" fill-opacity="0.74"/><circle cx="650.0" cy="776.0" r="4.4" fill="#0a0514" fill-opacity="0.74"/>
<circle cx="572.5" cy="722.4" r="4.4" fill="#b0d8e7" fill-opacity="0.7"/><circle cx="578.0" cy="737.9" r="4.4" fill="#b0d8e7" fill-opacity="0.7"/><circle cx="597.0" cy="682.3" r="4.4" fill="#b0d8e7" fill-opacity="0.7"/><circle cx="596.0" cy="691.3" r="4.4" fill="#b0d8e7" fill-opacity="0.7"/><circle cx="570.4" cy="694.3" r="4.4" fill="#b0d8e7" fill-opacity="0.7"/><circle cx="563.5" cy="771.7" r="4.4" fill="#b0d8e7" fill-opacity="0.7"/>
<circle cx="589.5" cy="654.3" r="4.4" fill="#86dbbc" fill-opacity="0.7"/><circle cx="571.9" cy="676.0" r="4.4" fill="#86dbbc" fill-opacity="0.7"/><circle cx="574.4" cy="674.7" r="4.4" fill="#86dbbc" fill-opacity="0.7"/><circle cx="597.5" cy="674.4" r="4.4" fill="#86dbbc" fill-opacity="0.7"/><circle cx="585.7" cy="682.1" r="4.4" fill="#86dbbc" fill-opacity="0.7"/><circle cx="606.0" cy="679.8" r="4.4" fill="#86dbbc" fill-opacity="0.7"/><circle cx="587.5" cy="689.3" r="4.4" fill="#86dbbc" fill-opacity="0.7"/><circle cx="601.4" cy="688.4" r="4.4" fill="#86dbbc" fill-opacity="0.7"/><circle cx="601.4" cy="694.8" r="4.4" fill="#86dbbc" fill-opacity="0.7"/><circle cx="566.3" cy="692.8" r="4.4" fill="#86dbbc" fill-opacity="0.7"/><circle cx="615.6" cy="696.9" r="4.4" fill="#86dbbc" fill-opacity="0.7"/><circle cx="623.3" cy="672.3" r="4.4" fill="#86dbbc" fill-opacity="0.7"/><circle cx="579.0" cy="704.6" r="4.4" fill="#86dbbc" fill-opacity="0.7"/><circle cx="585.5" cy="704.4" r="4.4" fill="#86dbbc" fill-opacity="0.7"/><circle cx="596.3" cy="702.0" r="4.4" fill="#86dbbc" fill-opacity="0.7"/><circle cx="596.3" cy="705.5" r="4.4" fill="#86dbbc" fill-opacity="0.7"/><circle cx="596.4" cy="710.5" r="4.4" fill="#86dbbc" fill-opacity="0.7"/><circle cx="598.3" cy="725.8" r="4.4" fill="#86dbbc" fill-opacity="0.7"/><circle cx="614.0" cy="702.9" r="4.4" fill="#86dbbc" fill-opacity="0.7"/><circle cx="601.2" cy="710.1" r="4.4" fill="#86dbbc" fill-opacity="0.7"/><circle cx="605.5" cy="717.5" r="4.4" fill="#86dbbc" fill-opacity="0.7"/><circle cx="611.7" cy="715.1" r="4.4" fill="#86dbbc" fill-opacity="0.7"/><circle cx="578.2" cy="705.1" r="4.4" fill="#86dbbc" fill-opacity="0.7"/><circle cx="594.5" cy="710.8" r="4.4" fill="#86dbbc" fill-opacity="0.7"/><circle cx="614.7" cy="697.6" r="4.4" fill="#86dbbc" fill-opacity="0.7"/><circle cx="615.5" cy="703.8" r="4.4" fill="#86dbbc" fill-opacity="0.7"/><circle cx="602.4" cy="696.3" r="4.4" fill="#86dbbc" fill-opacity="0.7"/><circle cx="566.1" cy="765.7" r="4.4" fill="#86dbbc" fill-opacity="0.7"/>
<circle cx="650.8" cy="726.9" r="4.4" fill="#d67788" fill-opacity="0.7"/><circle cx="624.4" cy="733.6" r="4.4" fill="#d67788" fill-opacity="0.7"/><circle cx="645.0" cy="736.6" r="4.4" fill="#d67788" fill-opacity="0.7"/><circle cx="629.2" cy="742.1" r="4.4" fill="#d67788" fill-opacity="0.7"/><circle cx="626.2" cy="743.4" r="4.4" fill="#d67788" fill-opacity="0.7"/><circle cx="640.3" cy="743.0" r="4.4" fill="#d67788" fill-opacity="0.7"/><circle cx="651.2" cy="741.3" r="4.4" fill="#d67788" fill-opacity="0.7"/><circle cx="616.4" cy="747.0" r="4.4" fill="#d67788" fill-opacity="0.7"/><circle cx="616.4" cy="750.6" r="4.4" fill="#d67788" fill-opacity="0.7"/><circle cx="630.6" cy="750.0" r="4.4" fill="#d67788" fill-opacity="0.7"/><circle cx="604.0" cy="748.2" r="4.4" fill="#d67788" fill-opacity="0.7"/><circle cx="598.7" cy="748.2" r="4.4" fill="#d67788" fill-opacity="0.7"/><circle cx="612.4" cy="757.7" r="4.4" fill="#d67788" fill-opacity="0.7"/><circle cx="618.2" cy="760.2" r="4.4" fill="#d67788" fill-opacity="0.7"/><circle cx="630.1" cy="760.5" r="4.4" fill="#d67788" fill-opacity="0.7"/><circle cx="668.3" cy="760.5" r="4.4" fill="#d67788" fill-opacity="0.7"/><circle cx="592.4" cy="770.0" r="4.4" fill="#d67788" fill-opacity="0.7"/><circle cx="555.5" cy="764.2" r="4.4" fill="#d67788" fill-opacity="0.7"/><circle cx="547.7" cy="768.8" r="4.4" fill="#d67788" fill-opacity="0.7"/><circle cx="623.7" cy="729.5" r="4.4" fill="#d67788" fill-opacity="0.7"/>
<circle cx="535.4" cy="725.9" r="4.4" fill="#832760" fill-opacity="0.7"/><circle cx="566.3" cy="701.0" r="4.4" fill="#832760" fill-opacity="0.7"/><circle cx="566.2" cy="699.0" r="4.4" fill="#832760" fill-opacity="0.7"/><circle cx="563.7" cy="731.7" r="4.4" fill="#832760" fill-opacity="0.7"/><circle cx="564.2" cy="735.3" r="4.4" fill="#832760" fill-opacity="0.7"/><circle cx="565.3" cy="738.8" r="4.4" fill="#832760" fill-opacity="0.7"/><circle cx="569.9" cy="745.0" r="4.4" fill="#832760" fill-opacity="0.7"/><circle cx="570.4" cy="748.5" r="4.4" fill="#832760" fill-opacity="0.7"/><circle cx="577.0" cy="732.2" r="4.4" fill="#832760" fill-opacity="0.7"/><circle cx="582.1" cy="731.2" r="4.4" fill="#832760" fill-opacity="0.7"/><circle cx="589.3" cy="732.7" r="4.4" fill="#832760" fill-opacity="0.7"/><circle cx="578.0" cy="710.5" r="4.4" fill="#832760" fill-opacity="0.7"/><circle cx="582.6" cy="718.8" r="4.4" fill="#832760" fill-opacity="0.7"/><circle cx="592.8" cy="723.0" r="4.4" fill="#832760" fill-opacity="0.7"/><circle cx="571.0" cy="741.0" r="4.4" fill="#832760" fill-opacity="0.7"/><circle cx="571.8" cy="747.6" r="4.4" fill="#832760" fill-opacity="0.7"/><circle cx="566.1" cy="737.6" r="4.4" fill="#832760" fill-opacity="0.7"/><circle cx="613.0" cy="708.0" r="4.4" fill="#832760" fill-opacity="0.7"/><circle cx="582.3" cy="713.4" r="4.4" fill="#832760" fill-opacity="0.7"/>
<circle cx="560.5" cy="750.1" r="4.4" fill="#5437b0" fill-opacity="0.7"/><circle cx="585.4" cy="755.6" r="4.4" fill="#5437b0" fill-opacity="0.7"/><circle cx="588.9" cy="752.5" r="4.4" fill="#5437b0" fill-opacity="0.7"/><circle cx="596.8" cy="752.1" r="4.4" fill="#5437b0" fill-opacity="0.7"/><circle cx="587.2" cy="760.4" r="4.4" fill="#5437b0" fill-opacity="0.7"/><circle cx="582.8" cy="763.9" r="4.4" fill="#5437b0" fill-opacity="0.7"/><circle cx="578.4" cy="765.7" r="4.4" fill="#5437b0" fill-opacity="0.7"/><circle cx="575.8" cy="769.2" r="4.4" fill="#5437b0" fill-opacity="0.7"/><circle cx="580.1" cy="770.9" r="4.4" fill="#5437b0" fill-opacity="0.7"/><circle cx="587.5" cy="752.8" r="4.4" fill="#5437b0" fill-opacity="0.7"/><circle cx="596.3" cy="751.0" r="4.4" fill="#5437b0" fill-opacity="0.7"/><circle cx="575.9" cy="767.5" r="4.4" fill="#5437b0" fill-opacity="0.7"/><circle cx="584.0" cy="758.0" r="4.4" fill="#5437b0" fill-opacity="0.7"/><circle cx="591.0" cy="757.0" r="4.4" fill="#5437b0" fill-opacity="0.7"/>
<circle cx="548.8" cy="756.3" r="4.4" fill="#459137" fill-opacity="0.7"/><circle cx="566.4" cy="755.4" r="4.4" fill="#459137" fill-opacity="0.7"/><circle cx="590.3" cy="715.5" r="4.4" fill="#459137" fill-opacity="0.7"/><circle cx="594.5" cy="760.3" r="4.4" fill="#459137" fill-opacity="0.7"/><circle cx="598.6" cy="741.8" r="4.4" fill="#459137" fill-opacity="0.7"/><circle cx="575.3" cy="767.0" r="4.4" fill="#459137" fill-opacity="0.7"/><circle cx="555.8" cy="769.9" r="4.4" fill="#459137" fill-opacity="0.7"/>
<circle cx="609.8" cy="679.5" r="4.4" fill="#bf5bdb" fill-opacity="0.7"/><circle cx="616.5" cy="709.0" r="4.4" fill="#bf5bdb" fill-opacity="0.7"/><circle cx="605.9" cy="711.6" r="4.4" fill="#bf5bdb" fill-opacity="0.7"/><circle cx="566.0" cy="763.0" r="4.4" fill="#bf5bdb" fill-opacity="0.7"/>
<circle cx="596.6" cy="608.8" r="4.4" fill="#95a147" fill-opacity="0.7"/><circle cx="616.1" cy="612.3" r="4.4" fill="#95a147" fill-opacity="0.7"/><circle cx="567.9" cy="639.5" r="4.4" fill="#95a147" fill-opacity="0.7"/><circle cx="563.7" cy="724.5" r="4.4" fill="#95a147" fill-opacity="0.7"/><circle cx="622.5" cy="702.4" r="4.4" fill="#95a147" fill-opacity="0.7"/>
<circle cx="441.4" cy="760.5" r="4.4" fill="#dbd686" fill-opacity="0.7"/>
<text x="346.3" y="587.4" font-size="23.2" font-weight="bold" fill="#000" font-family="Liberation Sans, sans-serif">D</text>
<rect x="387.8" y="564.8" width="140.5" height="90.5" fill="#fff" stroke="#333" stroke-width="1.1"/>
<circle cx="400.6" cy="574.0" r="4.8" fill="#C8E4EE"/>
<text x="407.4" y="578.0" font-size="11.2" fill="#111" font-family="Liberation Sans, sans-serif">Dnase</text>
<circle cx="454.3" cy="574.0" r="4.8" fill="#B5BD7E"/>
<text x="460.4" y="578.0" font-size="11.2" fill="#111" font-family="Liberation Sans, sans-serif">H2A.Z</text>
<circle cx="400.6" cy="588.7" r="4.8" fill="#8773C8"/>
<text x="407.4" y="592.7" font-size="11.2" fill="#111" font-family="Liberation Sans, sans-serif">H3K27ac</text>
<circle cx="463.4" cy="588.7" r="4.8" fill="#E2A0AC"/>
<text x="469.0" y="592.7" font-size="11.2" fill="#111" font-family="Liberation Sans, sans-serif">H3K27me3</text>
<circle cx="400.6" cy="603.2" r="4.8" fill="#E6E2AA"/>
<text x="407.4" y="607.2" font-size="11.2" fill="#111" font-family="Liberation Sans, sans-serif">H3K36me3</text>
<circle cx="469.9" cy="603.2" r="4.8" fill="#7DB273"/>
<text x="475.1" y="607.2" font-size="11.2" fill="#111" font-family="Liberation Sans, sans-serif">H3K4me1</text>
<circle cx="400.6" cy="618.4" r="4.8" fill="#D28CE6"/>
<text x="407.4" y="622.4" font-size="11.2" fill="#111" font-family="Liberation Sans, sans-serif">H3K4me2</text>
<circle cx="464.6" cy="618.4" r="4.8" fill="#AAE6D0"/>
<text x="470.4" y="622.4" font-size="11.2" fill="#111" font-family="Liberation Sans, sans-serif">H3K4me3</text>
<circle cx="400.6" cy="633.6" r="4.8" fill="#A86890"/>
<text x="407.4" y="637.6" font-size="11.2" fill="#111" font-family="Liberation Sans, sans-serif">H3K9ac</text>
<circle cx="464.6" cy="634.7" r="4.8" fill="#AFC8EB"/>
<text x="470.4" y="638.7" font-size="11.2" fill="#111" font-family="Liberation Sans, sans-serif">H3K9me3</text>
<circle cx="400.6" cy="646.9" r="4.8" fill="#463C52"/>
<text x="407.4" y="650.9" font-size="11.2" fill="#111" font-family="Liberation Sans, sans-serif">nonsignificant</text>
</svg>
</body></html>
